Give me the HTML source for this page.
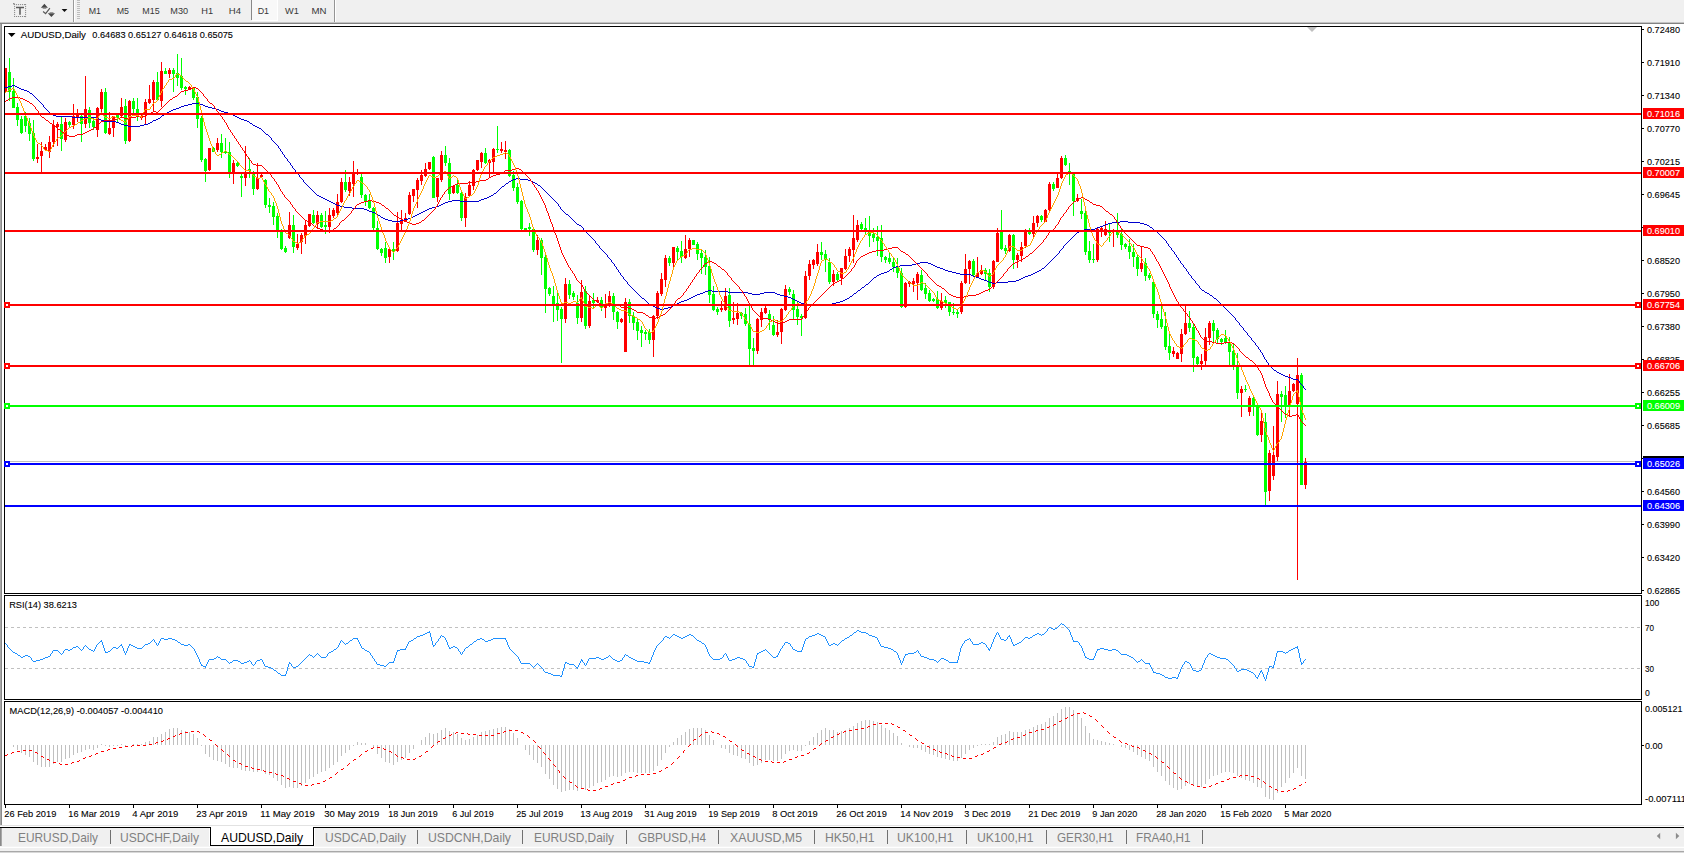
<!DOCTYPE html><html><head><meta charset="utf-8"><title>AUDUSD,Daily</title><style>html,body{margin:0;padding:0;background:#f0f0f0;overflow:hidden}body{width:1684px;height:853px;font-family:"Liberation Sans",sans-serif}svg text{font-family:"Liberation Sans",sans-serif}</style></head><body><svg width="1684" height="853" viewBox="0 0 1684 853" style="display:block"><rect x="0" y="0" width="1684" height="853" fill="#f0f0f0" />
<rect x="0" y="24" width="1684" height="802" fill="#ffffff" />
<rect x="0" y="22" width="1684" height="1" fill="#c4c4c4" />
<rect x="0" y="23" width="1684" height="1" fill="#828282" />
<rect x="0" y="24" width="1" height="802" fill="#a8a8a8" />
<rect x="1" y="24" width="1" height="802" fill="#8a8a8a" />
<defs><clipPath id="cm"><rect x="5" y="27" width="1636" height="566"/></clipPath><clipPath id="cr"><rect x="5" y="596" width="1636" height="103"/></clipPath><clipPath id="cd"><rect x="5" y="702" width="1636" height="102"/></clipPath></defs>
<rect x="5" y="461" width="1636" height="1" fill="#c0c0c0" />
<g clip-path="url(#cm)" shape-rendering="crispEdges">
<rect x="5" y="68" width="1" height="24" fill="#ff0000" />
<rect x="4" y="68" width="3" height="23" fill="#ff0000" />
<rect x="9" y="58" width="1" height="43" fill="#00ff00" />
<rect x="8" y="72" width="3" height="20" fill="#00ff00" />
<rect x="13" y="78" width="1" height="30" fill="#00ff00" />
<rect x="12" y="91" width="3" height="17" fill="#00ff00" />
<rect x="17" y="103" width="1" height="23" fill="#00ff00" />
<rect x="16" y="107" width="3" height="13" fill="#00ff00" />
<rect x="21" y="116" width="1" height="18" fill="#00ff00" />
<rect x="20" y="119" width="3" height="14" fill="#00ff00" />
<rect x="25" y="112" width="1" height="20" fill="#00ff00" />
<rect x="24" y="116" width="3" height="10" fill="#00ff00" />
<rect x="29" y="118" width="1" height="23" fill="#00ff00" />
<rect x="28" y="123" width="3" height="11" fill="#00ff00" />
<rect x="33" y="120" width="1" height="41" fill="#00ff00" />
<rect x="32" y="133" width="3" height="26" fill="#00ff00" />
<rect x="37" y="144" width="1" height="19" fill="#ff0000" />
<rect x="36" y="157" width="3" height="2" fill="#ff0000" />
<rect x="41" y="142" width="1" height="30" fill="#ff0000" />
<rect x="40" y="151" width="3" height="5" fill="#ff0000" />
<rect x="45" y="144" width="1" height="7" fill="#ff0000" />
<rect x="44" y="147" width="3" height="3" fill="#ff0000" />
<rect x="49" y="136" width="1" height="22" fill="#ff0000" />
<rect x="48" y="142" width="3" height="10" fill="#ff0000" />
<rect x="53" y="120" width="1" height="27" fill="#ff0000" />
<rect x="52" y="125" width="3" height="17" fill="#ff0000" />
<rect x="57" y="122" width="1" height="24" fill="#ff0000" />
<rect x="56" y="124" width="3" height="3" fill="#ff0000" />
<rect x="61" y="117" width="1" height="34" fill="#00ff00" />
<rect x="60" y="124" width="3" height="15" fill="#00ff00" />
<rect x="65" y="118" width="1" height="24" fill="#ff0000" />
<rect x="64" y="122" width="3" height="18" fill="#ff0000" />
<rect x="69" y="121" width="1" height="7" fill="#00ff00" />
<rect x="68" y="122" width="3" height="3" fill="#00ff00" />
<rect x="73" y="104" width="1" height="25" fill="#ff0000" />
<rect x="72" y="116" width="3" height="9" fill="#ff0000" />
<rect x="77" y="109" width="1" height="13" fill="#ff0000" />
<rect x="76" y="114" width="3" height="3" fill="#ff0000" />
<rect x="81" y="115" width="1" height="27" fill="#00ff00" />
<rect x="80" y="116" width="3" height="8" fill="#00ff00" />
<rect x="85" y="76" width="1" height="52" fill="#ff0000" />
<rect x="84" y="109" width="3" height="15" fill="#ff0000" />
<rect x="89" y="107" width="1" height="21" fill="#00ff00" />
<rect x="88" y="110" width="3" height="13" fill="#00ff00" />
<rect x="93" y="118" width="1" height="12" fill="#00ff00" />
<rect x="92" y="121" width="3" height="6" fill="#00ff00" />
<rect x="97" y="107" width="1" height="30" fill="#ff0000" />
<rect x="96" y="108" width="3" height="22" fill="#ff0000" />
<rect x="101" y="89" width="1" height="23" fill="#ff0000" />
<rect x="100" y="92" width="3" height="17" fill="#ff0000" />
<rect x="105" y="88" width="1" height="46" fill="#00ff00" />
<rect x="104" y="92" width="3" height="41" fill="#00ff00" />
<rect x="109" y="112" width="1" height="23" fill="#ff0000" />
<rect x="108" y="128" width="3" height="6" fill="#ff0000" />
<rect x="113" y="116" width="1" height="21" fill="#ff0000" />
<rect x="112" y="116" width="3" height="12" fill="#ff0000" />
<rect x="117" y="114" width="1" height="8" fill="#00ff00" />
<rect x="116" y="115" width="3" height="3" fill="#00ff00" />
<rect x="121" y="98" width="1" height="20" fill="#ff0000" />
<rect x="120" y="107" width="3" height="9" fill="#ff0000" />
<rect x="125" y="99" width="1" height="45" fill="#00ff00" />
<rect x="124" y="106" width="3" height="35" fill="#00ff00" />
<rect x="129" y="100" width="1" height="42" fill="#ff0000" />
<rect x="128" y="101" width="3" height="40" fill="#ff0000" />
<rect x="133" y="98" width="1" height="18" fill="#00ff00" />
<rect x="132" y="101" width="3" height="8" fill="#00ff00" />
<rect x="137" y="98" width="1" height="23" fill="#00ff00" />
<rect x="136" y="109" width="3" height="8" fill="#00ff00" />
<rect x="141" y="115" width="1" height="5" fill="#ff0000" />
<rect x="140" y="116" width="3" height="2" fill="#ff0000" />
<rect x="145" y="99" width="1" height="25" fill="#ff0000" />
<rect x="144" y="102" width="3" height="12" fill="#ff0000" />
<rect x="149" y="85" width="1" height="19" fill="#ff0000" />
<rect x="148" y="99" width="3" height="4" fill="#ff0000" />
<rect x="153" y="80" width="1" height="32" fill="#ff0000" />
<rect x="152" y="82" width="3" height="18" fill="#ff0000" />
<rect x="157" y="72" width="1" height="29" fill="#00ff00" />
<rect x="156" y="82" width="3" height="18" fill="#00ff00" />
<rect x="161" y="62" width="1" height="45" fill="#ff0000" />
<rect x="160" y="71" width="3" height="30" fill="#ff0000" />
<rect x="165" y="68" width="1" height="6" fill="#00ff00" />
<rect x="164" y="71" width="3" height="3" fill="#00ff00" />
<rect x="169" y="68" width="1" height="10" fill="#ff0000" />
<rect x="168" y="70" width="3" height="4" fill="#ff0000" />
<rect x="173" y="68" width="1" height="24" fill="#00ff00" />
<rect x="172" y="70" width="3" height="4" fill="#00ff00" />
<rect x="177" y="54" width="1" height="32" fill="#00ff00" />
<rect x="176" y="73" width="3" height="5" fill="#00ff00" />
<rect x="181" y="58" width="1" height="32" fill="#00ff00" />
<rect x="180" y="76" width="3" height="12" fill="#00ff00" />
<rect x="185" y="86" width="1" height="9" fill="#00ff00" />
<rect x="184" y="87" width="3" height="2" fill="#00ff00" />
<rect x="189" y="86" width="1" height="4" fill="#ff0000" />
<rect x="188" y="87" width="3" height="3" fill="#ff0000" />
<rect x="193" y="87" width="1" height="13" fill="#00ff00" />
<rect x="192" y="88" width="3" height="10" fill="#00ff00" />
<rect x="197" y="92" width="1" height="36" fill="#00ff00" />
<rect x="196" y="97" width="3" height="22" fill="#00ff00" />
<rect x="201" y="116" width="1" height="46" fill="#00ff00" />
<rect x="200" y="118" width="3" height="42" fill="#00ff00" />
<rect x="205" y="158" width="1" height="24" fill="#00ff00" />
<rect x="204" y="159" width="3" height="12" fill="#00ff00" />
<rect x="209" y="148" width="1" height="23" fill="#ff0000" />
<rect x="208" y="148" width="3" height="22" fill="#ff0000" />
<rect x="213" y="147" width="1" height="5" fill="#00ff00" />
<rect x="212" y="148" width="3" height="4" fill="#00ff00" />
<rect x="217" y="138" width="1" height="14" fill="#ff0000" />
<rect x="216" y="143" width="3" height="7" fill="#ff0000" />
<rect x="221" y="134" width="1" height="24" fill="#00ff00" />
<rect x="220" y="143" width="3" height="9" fill="#00ff00" />
<rect x="225" y="138" width="1" height="16" fill="#00ff00" />
<rect x="224" y="151" width="3" height="2" fill="#00ff00" />
<rect x="229" y="142" width="1" height="36" fill="#00ff00" />
<rect x="228" y="152" width="3" height="20" fill="#00ff00" />
<rect x="233" y="160" width="1" height="24" fill="#ff0000" />
<rect x="232" y="163" width="3" height="9" fill="#ff0000" />
<rect x="237" y="162" width="1" height="5" fill="#00ff00" />
<rect x="236" y="163" width="3" height="3" fill="#00ff00" />
<rect x="241" y="174" width="1" height="23" fill="#00ff00" />
<rect x="240" y="176" width="3" height="2" fill="#00ff00" />
<rect x="245" y="146" width="1" height="40" fill="#ff0000" />
<rect x="244" y="173" width="3" height="5" fill="#ff0000" />
<rect x="249" y="158" width="1" height="20" fill="#00ff00" />
<rect x="248" y="169" width="3" height="2" fill="#00ff00" />
<rect x="253" y="171" width="1" height="24" fill="#00ff00" />
<rect x="252" y="174" width="3" height="15" fill="#00ff00" />
<rect x="257" y="163" width="1" height="27" fill="#ff0000" />
<rect x="256" y="178" width="3" height="11" fill="#ff0000" />
<rect x="261" y="174" width="1" height="4" fill="#ff0000" />
<rect x="260" y="175" width="3" height="2" fill="#ff0000" />
<rect x="265" y="179" width="1" height="29" fill="#00ff00" />
<rect x="264" y="180" width="3" height="25" fill="#00ff00" />
<rect x="269" y="198" width="1" height="15" fill="#00ff00" />
<rect x="268" y="205" width="3" height="2" fill="#00ff00" />
<rect x="273" y="202" width="1" height="23" fill="#00ff00" />
<rect x="272" y="206" width="3" height="11" fill="#00ff00" />
<rect x="277" y="213" width="1" height="25" fill="#00ff00" />
<rect x="276" y="216" width="3" height="16" fill="#00ff00" />
<rect x="281" y="229" width="1" height="21" fill="#00ff00" />
<rect x="280" y="232" width="3" height="17" fill="#00ff00" />
<rect x="285" y="246" width="1" height="7" fill="#00ff00" />
<rect x="284" y="248" width="3" height="4" fill="#00ff00" />
<rect x="289" y="212" width="1" height="27" fill="#ff0000" />
<rect x="288" y="225" width="3" height="13" fill="#ff0000" />
<rect x="293" y="215" width="1" height="38" fill="#00ff00" />
<rect x="292" y="225" width="3" height="22" fill="#00ff00" />
<rect x="297" y="234" width="1" height="16" fill="#ff0000" />
<rect x="296" y="244" width="3" height="4" fill="#ff0000" />
<rect x="301" y="233" width="1" height="21" fill="#ff0000" />
<rect x="300" y="235" width="3" height="7" fill="#ff0000" />
<rect x="305" y="220" width="1" height="24" fill="#ff0000" />
<rect x="304" y="225" width="3" height="11" fill="#ff0000" />
<rect x="309" y="214" width="1" height="13" fill="#ff0000" />
<rect x="308" y="214" width="3" height="12" fill="#ff0000" />
<rect x="313" y="210" width="1" height="14" fill="#00ff00" />
<rect x="312" y="215" width="3" height="8" fill="#00ff00" />
<rect x="317" y="211" width="1" height="17" fill="#ff0000" />
<rect x="316" y="215" width="3" height="9" fill="#ff0000" />
<rect x="321" y="213" width="1" height="15" fill="#00ff00" />
<rect x="320" y="215" width="3" height="12" fill="#00ff00" />
<rect x="325" y="211" width="1" height="23" fill="#00ff00" />
<rect x="324" y="225" width="3" height="2" fill="#00ff00" />
<rect x="329" y="208" width="1" height="25" fill="#ff0000" />
<rect x="328" y="215" width="3" height="12" fill="#ff0000" />
<rect x="333" y="208" width="1" height="10" fill="#ff0000" />
<rect x="332" y="210" width="3" height="6" fill="#ff0000" />
<rect x="337" y="194" width="1" height="21" fill="#ff0000" />
<rect x="336" y="202" width="3" height="11" fill="#ff0000" />
<rect x="341" y="178" width="1" height="25" fill="#ff0000" />
<rect x="340" y="182" width="3" height="20" fill="#ff0000" />
<rect x="345" y="170" width="1" height="22" fill="#00ff00" />
<rect x="344" y="182" width="3" height="8" fill="#00ff00" />
<rect x="349" y="177" width="1" height="19" fill="#ff0000" />
<rect x="348" y="182" width="3" height="9" fill="#ff0000" />
<rect x="353" y="161" width="1" height="36" fill="#ff0000" />
<rect x="352" y="172" width="3" height="12" fill="#ff0000" />
<rect x="357" y="169" width="1" height="6" fill="#ff0000" />
<rect x="356" y="172" width="3" height="2" fill="#ff0000" />
<rect x="361" y="174" width="1" height="24" fill="#00ff00" />
<rect x="360" y="177" width="3" height="18" fill="#00ff00" />
<rect x="365" y="194" width="1" height="12" fill="#00ff00" />
<rect x="364" y="195" width="3" height="6" fill="#00ff00" />
<rect x="369" y="194" width="1" height="15" fill="#00ff00" />
<rect x="368" y="200" width="3" height="8" fill="#00ff00" />
<rect x="373" y="207" width="1" height="23" fill="#00ff00" />
<rect x="372" y="208" width="3" height="20" fill="#00ff00" />
<rect x="377" y="221" width="1" height="29" fill="#00ff00" />
<rect x="376" y="228" width="3" height="21" fill="#00ff00" />
<rect x="381" y="248" width="1" height="8" fill="#00ff00" />
<rect x="380" y="249" width="3" height="4" fill="#00ff00" />
<rect x="385" y="242" width="1" height="21" fill="#00ff00" />
<rect x="384" y="248" width="3" height="10" fill="#00ff00" />
<rect x="389" y="248" width="1" height="15" fill="#ff0000" />
<rect x="388" y="249" width="3" height="8" fill="#ff0000" />
<rect x="393" y="242" width="1" height="18" fill="#00ff00" />
<rect x="392" y="249" width="3" height="2" fill="#00ff00" />
<rect x="397" y="212" width="1" height="40" fill="#ff0000" />
<rect x="396" y="223" width="3" height="28" fill="#ff0000" />
<rect x="401" y="210" width="1" height="21" fill="#ff0000" />
<rect x="400" y="220" width="3" height="4" fill="#ff0000" />
<rect x="405" y="213" width="1" height="9" fill="#ff0000" />
<rect x="404" y="218" width="3" height="4" fill="#ff0000" />
<rect x="409" y="192" width="1" height="23" fill="#ff0000" />
<rect x="408" y="195" width="3" height="19" fill="#ff0000" />
<rect x="413" y="189" width="1" height="13" fill="#ff0000" />
<rect x="412" y="189" width="3" height="7" fill="#ff0000" />
<rect x="417" y="178" width="1" height="30" fill="#ff0000" />
<rect x="416" y="180" width="3" height="10" fill="#ff0000" />
<rect x="421" y="170" width="1" height="15" fill="#ff0000" />
<rect x="420" y="175" width="3" height="6" fill="#ff0000" />
<rect x="425" y="163" width="1" height="14" fill="#ff0000" />
<rect x="424" y="169" width="3" height="7" fill="#ff0000" />
<rect x="429" y="162" width="1" height="8" fill="#ff0000" />
<rect x="428" y="162" width="3" height="7" fill="#ff0000" />
<rect x="433" y="156" width="1" height="42" fill="#00ff00" />
<rect x="432" y="157" width="3" height="41" fill="#00ff00" />
<rect x="437" y="178" width="1" height="24" fill="#ff0000" />
<rect x="436" y="178" width="3" height="19" fill="#ff0000" />
<rect x="441" y="151" width="1" height="31" fill="#ff0000" />
<rect x="440" y="155" width="3" height="25" fill="#ff0000" />
<rect x="445" y="146" width="1" height="20" fill="#00ff00" />
<rect x="444" y="155" width="3" height="8" fill="#00ff00" />
<rect x="449" y="158" width="1" height="42" fill="#00ff00" />
<rect x="448" y="163" width="3" height="31" fill="#00ff00" />
<rect x="453" y="186" width="1" height="8" fill="#ff0000" />
<rect x="452" y="186" width="3" height="7" fill="#ff0000" />
<rect x="457" y="178" width="1" height="16" fill="#00ff00" />
<rect x="456" y="185" width="3" height="8" fill="#00ff00" />
<rect x="461" y="192" width="1" height="29" fill="#00ff00" />
<rect x="460" y="193" width="3" height="25" fill="#00ff00" />
<rect x="465" y="193" width="1" height="34" fill="#ff0000" />
<rect x="464" y="197" width="3" height="21" fill="#ff0000" />
<rect x="469" y="181" width="1" height="16" fill="#ff0000" />
<rect x="468" y="185" width="3" height="11" fill="#ff0000" />
<rect x="473" y="169" width="1" height="21" fill="#ff0000" />
<rect x="472" y="170" width="3" height="16" fill="#ff0000" />
<rect x="477" y="160" width="1" height="11" fill="#ff0000" />
<rect x="476" y="160" width="3" height="10" fill="#ff0000" />
<rect x="481" y="152" width="1" height="16" fill="#ff0000" />
<rect x="480" y="153" width="3" height="9" fill="#ff0000" />
<rect x="485" y="148" width="1" height="16" fill="#00ff00" />
<rect x="484" y="153" width="3" height="10" fill="#00ff00" />
<rect x="489" y="159" width="1" height="18" fill="#ff0000" />
<rect x="488" y="160" width="3" height="3" fill="#ff0000" />
<rect x="493" y="148" width="1" height="25" fill="#ff0000" />
<rect x="492" y="149" width="3" height="13" fill="#ff0000" />
<rect x="497" y="126" width="1" height="27" fill="#00ff00" />
<rect x="496" y="149" width="3" height="1" fill="#00ff00" />
<rect x="501" y="142" width="1" height="11" fill="#ff0000" />
<rect x="500" y="149" width="3" height="2" fill="#ff0000" />
<rect x="505" y="141" width="1" height="18" fill="#ff0000" />
<rect x="504" y="150" width="3" height="2" fill="#ff0000" />
<rect x="509" y="149" width="1" height="28" fill="#00ff00" />
<rect x="508" y="150" width="3" height="26" fill="#00ff00" />
<rect x="513" y="171" width="1" height="20" fill="#00ff00" />
<rect x="512" y="175" width="3" height="13" fill="#00ff00" />
<rect x="517" y="183" width="1" height="21" fill="#00ff00" />
<rect x="516" y="187" width="3" height="15" fill="#00ff00" />
<rect x="521" y="200" width="1" height="30" fill="#00ff00" />
<rect x="520" y="201" width="3" height="28" fill="#00ff00" />
<rect x="525" y="228" width="1" height="3" fill="#00ff00" />
<rect x="524" y="228" width="3" height="2" fill="#00ff00" />
<rect x="529" y="223" width="1" height="13" fill="#00ff00" />
<rect x="528" y="227" width="3" height="2" fill="#00ff00" />
<rect x="533" y="228" width="1" height="24" fill="#00ff00" />
<rect x="532" y="229" width="3" height="21" fill="#00ff00" />
<rect x="537" y="235" width="1" height="20" fill="#ff0000" />
<rect x="536" y="240" width="3" height="10" fill="#ff0000" />
<rect x="541" y="238" width="1" height="37" fill="#00ff00" />
<rect x="540" y="240" width="3" height="18" fill="#00ff00" />
<rect x="545" y="255" width="1" height="58" fill="#00ff00" />
<rect x="544" y="257" width="3" height="32" fill="#00ff00" />
<rect x="549" y="287" width="1" height="9" fill="#00ff00" />
<rect x="548" y="288" width="3" height="6" fill="#00ff00" />
<rect x="553" y="286" width="1" height="36" fill="#00ff00" />
<rect x="552" y="296" width="3" height="10" fill="#00ff00" />
<rect x="557" y="292" width="1" height="29" fill="#00ff00" />
<rect x="556" y="303" width="3" height="7" fill="#00ff00" />
<rect x="561" y="307" width="1" height="56" fill="#00ff00" />
<rect x="560" y="309" width="3" height="10" fill="#00ff00" />
<rect x="565" y="278" width="1" height="45" fill="#ff0000" />
<rect x="564" y="284" width="3" height="35" fill="#ff0000" />
<rect x="569" y="280" width="1" height="19" fill="#00ff00" />
<rect x="568" y="284" width="3" height="11" fill="#00ff00" />
<rect x="573" y="291" width="1" height="9" fill="#00ff00" />
<rect x="572" y="293" width="3" height="4" fill="#00ff00" />
<rect x="577" y="295" width="1" height="29" fill="#00ff00" />
<rect x="576" y="303" width="3" height="15" fill="#00ff00" />
<rect x="581" y="280" width="1" height="42" fill="#ff0000" />
<rect x="580" y="292" width="3" height="26" fill="#ff0000" />
<rect x="585" y="286" width="1" height="43" fill="#00ff00" />
<rect x="584" y="291" width="3" height="35" fill="#00ff00" />
<rect x="589" y="296" width="1" height="32" fill="#ff0000" />
<rect x="588" y="301" width="3" height="25" fill="#ff0000" />
<rect x="593" y="293" width="1" height="16" fill="#00ff00" />
<rect x="592" y="300" width="3" height="3" fill="#00ff00" />
<rect x="597" y="297" width="1" height="6" fill="#ff0000" />
<rect x="596" y="300" width="3" height="2" fill="#ff0000" />
<rect x="601" y="297" width="1" height="14" fill="#00ff00" />
<rect x="600" y="300" width="3" height="7" fill="#00ff00" />
<rect x="605" y="294" width="1" height="24" fill="#ff0000" />
<rect x="604" y="304" width="3" height="4" fill="#ff0000" />
<rect x="609" y="291" width="1" height="16" fill="#ff0000" />
<rect x="608" y="296" width="3" height="8" fill="#ff0000" />
<rect x="613" y="293" width="1" height="27" fill="#00ff00" />
<rect x="612" y="296" width="3" height="16" fill="#00ff00" />
<rect x="617" y="311" width="1" height="18" fill="#00ff00" />
<rect x="616" y="312" width="3" height="10" fill="#00ff00" />
<rect x="621" y="318" width="1" height="5" fill="#ff0000" />
<rect x="620" y="319" width="3" height="3" fill="#ff0000" />
<rect x="625" y="298" width="1" height="54" fill="#ff0000" />
<rect x="624" y="302" width="3" height="50" fill="#ff0000" />
<rect x="629" y="299" width="1" height="24" fill="#00ff00" />
<rect x="628" y="302" width="3" height="14" fill="#00ff00" />
<rect x="633" y="312" width="1" height="18" fill="#00ff00" />
<rect x="632" y="316" width="3" height="7" fill="#00ff00" />
<rect x="637" y="319" width="1" height="21" fill="#00ff00" />
<rect x="636" y="322" width="3" height="9" fill="#00ff00" />
<rect x="641" y="326" width="1" height="21" fill="#00ff00" />
<rect x="640" y="330" width="3" height="3" fill="#00ff00" />
<rect x="645" y="330" width="1" height="10" fill="#00ff00" />
<rect x="644" y="332" width="3" height="2" fill="#00ff00" />
<rect x="649" y="329" width="1" height="15" fill="#00ff00" />
<rect x="648" y="332" width="3" height="8" fill="#00ff00" />
<rect x="653" y="315" width="1" height="42" fill="#ff0000" />
<rect x="652" y="316" width="3" height="24" fill="#ff0000" />
<rect x="657" y="291" width="1" height="28" fill="#ff0000" />
<rect x="656" y="293" width="3" height="23" fill="#ff0000" />
<rect x="661" y="273" width="1" height="23" fill="#ff0000" />
<rect x="660" y="279" width="3" height="15" fill="#ff0000" />
<rect x="665" y="255" width="1" height="32" fill="#ff0000" />
<rect x="664" y="258" width="3" height="22" fill="#ff0000" />
<rect x="669" y="256" width="1" height="10" fill="#00ff00" />
<rect x="668" y="258" width="3" height="5" fill="#00ff00" />
<rect x="673" y="247" width="1" height="20" fill="#ff0000" />
<rect x="672" y="247" width="3" height="16" fill="#ff0000" />
<rect x="677" y="246" width="1" height="15" fill="#00ff00" />
<rect x="676" y="248" width="3" height="4" fill="#00ff00" />
<rect x="681" y="241" width="1" height="22" fill="#00ff00" />
<rect x="680" y="251" width="3" height="6" fill="#00ff00" />
<rect x="685" y="235" width="1" height="24" fill="#ff0000" />
<rect x="684" y="249" width="3" height="9" fill="#ff0000" />
<rect x="689" y="238" width="1" height="19" fill="#ff0000" />
<rect x="688" y="240" width="3" height="9" fill="#ff0000" />
<rect x="693" y="240" width="1" height="5" fill="#00ff00" />
<rect x="692" y="240" width="3" height="5" fill="#00ff00" />
<rect x="697" y="242" width="1" height="18" fill="#00ff00" />
<rect x="696" y="244" width="3" height="10" fill="#00ff00" />
<rect x="701" y="250" width="1" height="24" fill="#00ff00" />
<rect x="700" y="253" width="3" height="5" fill="#00ff00" />
<rect x="705" y="250" width="1" height="25" fill="#00ff00" />
<rect x="704" y="257" width="3" height="10" fill="#00ff00" />
<rect x="709" y="257" width="1" height="46" fill="#00ff00" />
<rect x="708" y="266" width="3" height="29" fill="#00ff00" />
<rect x="713" y="286" width="1" height="25" fill="#00ff00" />
<rect x="712" y="294" width="3" height="16" fill="#00ff00" />
<rect x="717" y="307" width="1" height="8" fill="#00ff00" />
<rect x="716" y="309" width="3" height="3" fill="#00ff00" />
<rect x="721" y="301" width="1" height="11" fill="#ff0000" />
<rect x="720" y="308" width="3" height="2" fill="#ff0000" />
<rect x="725" y="288" width="1" height="23" fill="#ff0000" />
<rect x="724" y="296" width="3" height="14" fill="#ff0000" />
<rect x="729" y="288" width="1" height="39" fill="#00ff00" />
<rect x="728" y="295" width="3" height="26" fill="#00ff00" />
<rect x="733" y="302" width="1" height="22" fill="#ff0000" />
<rect x="732" y="318" width="3" height="2" fill="#ff0000" />
<rect x="737" y="303" width="1" height="22" fill="#ff0000" />
<rect x="736" y="313" width="3" height="6" fill="#ff0000" />
<rect x="741" y="312" width="1" height="7" fill="#00ff00" />
<rect x="740" y="313" width="3" height="3" fill="#00ff00" />
<rect x="745" y="308" width="1" height="18" fill="#00ff00" />
<rect x="744" y="314" width="3" height="10" fill="#00ff00" />
<rect x="749" y="306" width="1" height="59" fill="#00ff00" />
<rect x="748" y="324" width="3" height="25" fill="#00ff00" />
<rect x="753" y="338" width="1" height="27" fill="#00ff00" />
<rect x="752" y="348" width="3" height="3" fill="#00ff00" />
<rect x="757" y="318" width="1" height="36" fill="#ff0000" />
<rect x="756" y="319" width="3" height="32" fill="#ff0000" />
<rect x="761" y="308" width="1" height="19" fill="#ff0000" />
<rect x="760" y="312" width="3" height="8" fill="#ff0000" />
<rect x="765" y="306" width="1" height="8" fill="#ff0000" />
<rect x="764" y="308" width="3" height="5" fill="#ff0000" />
<rect x="769" y="310" width="1" height="20" fill="#00ff00" />
<rect x="768" y="314" width="3" height="6" fill="#00ff00" />
<rect x="773" y="316" width="1" height="20" fill="#00ff00" />
<rect x="772" y="325" width="3" height="10" fill="#00ff00" />
<rect x="777" y="320" width="1" height="17" fill="#ff0000" />
<rect x="776" y="332" width="3" height="3" fill="#ff0000" />
<rect x="781" y="308" width="1" height="36" fill="#ff0000" />
<rect x="780" y="309" width="3" height="23" fill="#ff0000" />
<rect x="785" y="285" width="1" height="26" fill="#ff0000" />
<rect x="784" y="289" width="3" height="21" fill="#ff0000" />
<rect x="789" y="287" width="1" height="8" fill="#00ff00" />
<rect x="788" y="289" width="3" height="3" fill="#00ff00" />
<rect x="793" y="290" width="1" height="29" fill="#00ff00" />
<rect x="792" y="294" width="3" height="16" fill="#00ff00" />
<rect x="797" y="301" width="1" height="24" fill="#00ff00" />
<rect x="796" y="309" width="3" height="8" fill="#00ff00" />
<rect x="801" y="314" width="1" height="22" fill="#00ff00" />
<rect x="800" y="316" width="3" height="2" fill="#00ff00" />
<rect x="805" y="271" width="1" height="48" fill="#ff0000" />
<rect x="804" y="276" width="3" height="42" fill="#ff0000" />
<rect x="809" y="260" width="1" height="20" fill="#ff0000" />
<rect x="808" y="264" width="3" height="12" fill="#ff0000" />
<rect x="813" y="259" width="1" height="10" fill="#ff0000" />
<rect x="812" y="260" width="3" height="5" fill="#ff0000" />
<rect x="817" y="244" width="1" height="22" fill="#ff0000" />
<rect x="816" y="252" width="3" height="12" fill="#ff0000" />
<rect x="821" y="242" width="1" height="18" fill="#00ff00" />
<rect x="820" y="252" width="3" height="3" fill="#00ff00" />
<rect x="825" y="250" width="1" height="22" fill="#00ff00" />
<rect x="824" y="254" width="3" height="5" fill="#00ff00" />
<rect x="829" y="258" width="1" height="26" fill="#00ff00" />
<rect x="828" y="262" width="3" height="20" fill="#00ff00" />
<rect x="833" y="270" width="1" height="16" fill="#ff0000" />
<rect x="832" y="274" width="3" height="8" fill="#ff0000" />
<rect x="837" y="272" width="1" height="9" fill="#00ff00" />
<rect x="836" y="274" width="3" height="6" fill="#00ff00" />
<rect x="841" y="268" width="1" height="17" fill="#ff0000" />
<rect x="840" y="268" width="3" height="10" fill="#ff0000" />
<rect x="845" y="249" width="1" height="21" fill="#ff0000" />
<rect x="844" y="256" width="3" height="13" fill="#ff0000" />
<rect x="849" y="247" width="1" height="15" fill="#ff0000" />
<rect x="848" y="249" width="3" height="7" fill="#ff0000" />
<rect x="853" y="215" width="1" height="48" fill="#ff0000" />
<rect x="852" y="238" width="3" height="12" fill="#ff0000" />
<rect x="857" y="220" width="1" height="22" fill="#ff0000" />
<rect x="856" y="225" width="3" height="15" fill="#ff0000" />
<rect x="861" y="222" width="1" height="8" fill="#00ff00" />
<rect x="860" y="224" width="3" height="5" fill="#00ff00" />
<rect x="865" y="218" width="1" height="16" fill="#00ff00" />
<rect x="864" y="228" width="3" height="2" fill="#00ff00" />
<rect x="869" y="216" width="1" height="31" fill="#00ff00" />
<rect x="868" y="232" width="3" height="4" fill="#00ff00" />
<rect x="873" y="228" width="1" height="14" fill="#00ff00" />
<rect x="872" y="234" width="3" height="4" fill="#00ff00" />
<rect x="877" y="226" width="1" height="30" fill="#00ff00" />
<rect x="876" y="237" width="3" height="4" fill="#00ff00" />
<rect x="881" y="225" width="1" height="37" fill="#00ff00" />
<rect x="880" y="238" width="3" height="19" fill="#00ff00" />
<rect x="885" y="256" width="1" height="7" fill="#00ff00" />
<rect x="884" y="257" width="3" height="3" fill="#00ff00" />
<rect x="889" y="253" width="1" height="11" fill="#00ff00" />
<rect x="888" y="258" width="3" height="4" fill="#00ff00" />
<rect x="893" y="258" width="1" height="14" fill="#00ff00" />
<rect x="892" y="262" width="3" height="5" fill="#00ff00" />
<rect x="897" y="258" width="1" height="20" fill="#00ff00" />
<rect x="896" y="266" width="3" height="7" fill="#00ff00" />
<rect x="901" y="268" width="1" height="40" fill="#00ff00" />
<rect x="900" y="273" width="3" height="34" fill="#00ff00" />
<rect x="905" y="282" width="1" height="26" fill="#ff0000" />
<rect x="904" y="283" width="3" height="24" fill="#ff0000" />
<rect x="909" y="281" width="1" height="6" fill="#ff0000" />
<rect x="908" y="282" width="3" height="2" fill="#ff0000" />
<rect x="913" y="278" width="1" height="14" fill="#ff0000" />
<rect x="912" y="281" width="3" height="3" fill="#ff0000" />
<rect x="917" y="272" width="1" height="28" fill="#ff0000" />
<rect x="916" y="274" width="3" height="9" fill="#ff0000" />
<rect x="921" y="270" width="1" height="21" fill="#00ff00" />
<rect x="920" y="275" width="3" height="15" fill="#00ff00" />
<rect x="925" y="283" width="1" height="16" fill="#00ff00" />
<rect x="924" y="288" width="3" height="6" fill="#00ff00" />
<rect x="929" y="290" width="1" height="12" fill="#00ff00" />
<rect x="928" y="293" width="3" height="8" fill="#00ff00" />
<rect x="933" y="298" width="1" height="4" fill="#00ff00" />
<rect x="932" y="299" width="3" height="2" fill="#00ff00" />
<rect x="937" y="291" width="1" height="18" fill="#00ff00" />
<rect x="936" y="299" width="3" height="9" fill="#00ff00" />
<rect x="941" y="293" width="1" height="17" fill="#ff0000" />
<rect x="940" y="301" width="3" height="7" fill="#ff0000" />
<rect x="945" y="296" width="1" height="12" fill="#00ff00" />
<rect x="944" y="300" width="3" height="3" fill="#00ff00" />
<rect x="949" y="302" width="1" height="14" fill="#00ff00" />
<rect x="948" y="302" width="3" height="10" fill="#00ff00" />
<rect x="953" y="303" width="1" height="12" fill="#00ff00" />
<rect x="952" y="312" width="3" height="1" fill="#00ff00" />
<rect x="957" y="309" width="1" height="9" fill="#00ff00" />
<rect x="956" y="312" width="3" height="2" fill="#00ff00" />
<rect x="961" y="281" width="1" height="33" fill="#ff0000" />
<rect x="960" y="283" width="3" height="29" fill="#ff0000" />
<rect x="965" y="254" width="1" height="30" fill="#ff0000" />
<rect x="964" y="269" width="3" height="14" fill="#ff0000" />
<rect x="969" y="260" width="1" height="24" fill="#ff0000" />
<rect x="968" y="261" width="3" height="8" fill="#ff0000" />
<rect x="973" y="259" width="1" height="18" fill="#00ff00" />
<rect x="972" y="261" width="3" height="14" fill="#00ff00" />
<rect x="977" y="257" width="1" height="21" fill="#ff0000" />
<rect x="976" y="273" width="3" height="4" fill="#ff0000" />
<rect x="981" y="265" width="1" height="10" fill="#ff0000" />
<rect x="980" y="270" width="3" height="4" fill="#ff0000" />
<rect x="985" y="268" width="1" height="12" fill="#00ff00" />
<rect x="984" y="270" width="3" height="4" fill="#00ff00" />
<rect x="989" y="269" width="1" height="23" fill="#00ff00" />
<rect x="988" y="273" width="3" height="14" fill="#00ff00" />
<rect x="993" y="260" width="1" height="29" fill="#ff0000" />
<rect x="992" y="261" width="3" height="26" fill="#ff0000" />
<rect x="997" y="228" width="1" height="34" fill="#ff0000" />
<rect x="996" y="233" width="3" height="29" fill="#ff0000" />
<rect x="1001" y="210" width="1" height="40" fill="#00ff00" />
<rect x="1000" y="232" width="3" height="17" fill="#00ff00" />
<rect x="1005" y="245" width="1" height="9" fill="#00ff00" />
<rect x="1004" y="248" width="3" height="3" fill="#00ff00" />
<rect x="1009" y="234" width="1" height="18" fill="#ff0000" />
<rect x="1008" y="235" width="3" height="16" fill="#ff0000" />
<rect x="1013" y="234" width="1" height="35" fill="#00ff00" />
<rect x="1012" y="235" width="3" height="25" fill="#00ff00" />
<rect x="1017" y="253" width="1" height="15" fill="#ff0000" />
<rect x="1016" y="255" width="3" height="5" fill="#ff0000" />
<rect x="1021" y="242" width="1" height="20" fill="#ff0000" />
<rect x="1020" y="247" width="3" height="9" fill="#ff0000" />
<rect x="1025" y="229" width="1" height="19" fill="#ff0000" />
<rect x="1024" y="231" width="3" height="15" fill="#ff0000" />
<rect x="1029" y="228" width="1" height="7" fill="#00ff00" />
<rect x="1028" y="232" width="3" height="2" fill="#00ff00" />
<rect x="1033" y="216" width="1" height="22" fill="#ff0000" />
<rect x="1032" y="223" width="3" height="11" fill="#ff0000" />
<rect x="1037" y="215" width="1" height="12" fill="#ff0000" />
<rect x="1036" y="216" width="3" height="7" fill="#ff0000" />
<rect x="1041" y="215" width="1" height="7" fill="#00ff00" />
<rect x="1040" y="216" width="3" height="4" fill="#00ff00" />
<rect x="1045" y="209" width="1" height="13" fill="#ff0000" />
<rect x="1044" y="210" width="3" height="12" fill="#ff0000" />
<rect x="1049" y="182" width="1" height="29" fill="#ff0000" />
<rect x="1048" y="184" width="3" height="26" fill="#ff0000" />
<rect x="1053" y="182" width="1" height="9" fill="#00ff00" />
<rect x="1052" y="184" width="3" height="5" fill="#00ff00" />
<rect x="1057" y="174" width="1" height="14" fill="#ff0000" />
<rect x="1056" y="178" width="3" height="10" fill="#ff0000" />
<rect x="1061" y="156" width="1" height="23" fill="#ff0000" />
<rect x="1060" y="158" width="3" height="20" fill="#ff0000" />
<rect x="1065" y="155" width="1" height="11" fill="#00ff00" />
<rect x="1064" y="158" width="3" height="7" fill="#00ff00" />
<rect x="1069" y="163" width="1" height="22" fill="#00ff00" />
<rect x="1068" y="171" width="3" height="1" fill="#00ff00" />
<rect x="1073" y="173" width="1" height="43" fill="#00ff00" />
<rect x="1072" y="174" width="3" height="27" fill="#00ff00" />
<rect x="1077" y="194" width="1" height="8" fill="#ff0000" />
<rect x="1076" y="198" width="3" height="3" fill="#ff0000" />
<rect x="1081" y="199" width="1" height="20" fill="#00ff00" />
<rect x="1080" y="211" width="3" height="3" fill="#00ff00" />
<rect x="1085" y="210" width="1" height="45" fill="#00ff00" />
<rect x="1084" y="213" width="3" height="39" fill="#00ff00" />
<rect x="1089" y="241" width="1" height="22" fill="#00ff00" />
<rect x="1088" y="251" width="3" height="9" fill="#00ff00" />
<rect x="1093" y="244" width="1" height="19" fill="#00ff00" />
<rect x="1092" y="259" width="3" height="1" fill="#00ff00" />
<rect x="1097" y="228" width="1" height="34" fill="#ff0000" />
<rect x="1096" y="229" width="3" height="31" fill="#ff0000" />
<rect x="1101" y="227" width="1" height="10" fill="#ff0000" />
<rect x="1100" y="228" width="3" height="4" fill="#ff0000" />
<rect x="1105" y="221" width="1" height="15" fill="#ff0000" />
<rect x="1104" y="229" width="3" height="6" fill="#ff0000" />
<rect x="1109" y="223" width="1" height="19" fill="#00ff00" />
<rect x="1108" y="230" width="3" height="3" fill="#00ff00" />
<rect x="1113" y="229" width="1" height="18" fill="#ff0000" />
<rect x="1112" y="230" width="3" height="2" fill="#ff0000" />
<rect x="1117" y="213" width="1" height="25" fill="#00ff00" />
<rect x="1116" y="232" width="3" height="3" fill="#00ff00" />
<rect x="1121" y="228" width="1" height="22" fill="#00ff00" />
<rect x="1120" y="234" width="3" height="11" fill="#00ff00" />
<rect x="1125" y="243" width="1" height="6" fill="#00ff00" />
<rect x="1124" y="244" width="3" height="3" fill="#00ff00" />
<rect x="1129" y="239" width="1" height="20" fill="#00ff00" />
<rect x="1128" y="246" width="3" height="6" fill="#00ff00" />
<rect x="1133" y="244" width="1" height="23" fill="#00ff00" />
<rect x="1132" y="252" width="3" height="5" fill="#00ff00" />
<rect x="1137" y="255" width="1" height="21" fill="#00ff00" />
<rect x="1136" y="257" width="3" height="12" fill="#00ff00" />
<rect x="1141" y="246" width="1" height="26" fill="#ff0000" />
<rect x="1140" y="263" width="3" height="6" fill="#ff0000" />
<rect x="1145" y="258" width="1" height="23" fill="#00ff00" />
<rect x="1144" y="263" width="3" height="13" fill="#00ff00" />
<rect x="1149" y="273" width="1" height="7" fill="#00ff00" />
<rect x="1148" y="275" width="3" height="3" fill="#00ff00" />
<rect x="1153" y="281" width="1" height="37" fill="#00ff00" />
<rect x="1152" y="282" width="3" height="32" fill="#00ff00" />
<rect x="1157" y="311" width="1" height="17" fill="#00ff00" />
<rect x="1156" y="314" width="3" height="6" fill="#00ff00" />
<rect x="1161" y="305" width="1" height="24" fill="#00ff00" />
<rect x="1160" y="319" width="3" height="8" fill="#00ff00" />
<rect x="1165" y="312" width="1" height="38" fill="#00ff00" />
<rect x="1164" y="326" width="3" height="21" fill="#00ff00" />
<rect x="1169" y="334" width="1" height="26" fill="#00ff00" />
<rect x="1168" y="346" width="3" height="7" fill="#00ff00" />
<rect x="1173" y="347" width="1" height="10" fill="#ff0000" />
<rect x="1172" y="351" width="3" height="3" fill="#ff0000" />
<rect x="1177" y="352" width="1" height="7" fill="#ff0000" />
<rect x="1176" y="353" width="3" height="6" fill="#ff0000" />
<rect x="1181" y="329" width="1" height="33" fill="#ff0000" />
<rect x="1180" y="334" width="3" height="20" fill="#ff0000" />
<rect x="1185" y="306" width="1" height="29" fill="#ff0000" />
<rect x="1184" y="323" width="3" height="11" fill="#ff0000" />
<rect x="1189" y="311" width="1" height="21" fill="#00ff00" />
<rect x="1188" y="323" width="3" height="5" fill="#00ff00" />
<rect x="1193" y="324" width="1" height="48" fill="#00ff00" />
<rect x="1192" y="327" width="3" height="31" fill="#00ff00" />
<rect x="1197" y="356" width="1" height="9" fill="#00ff00" />
<rect x="1196" y="357" width="3" height="7" fill="#00ff00" />
<rect x="1201" y="354" width="1" height="16" fill="#ff0000" />
<rect x="1200" y="361" width="3" height="3" fill="#ff0000" />
<rect x="1205" y="328" width="1" height="37" fill="#ff0000" />
<rect x="1204" y="337" width="3" height="24" fill="#ff0000" />
<rect x="1209" y="321" width="1" height="24" fill="#ff0000" />
<rect x="1208" y="323" width="3" height="15" fill="#ff0000" />
<rect x="1213" y="320" width="1" height="22" fill="#00ff00" />
<rect x="1212" y="323" width="3" height="8" fill="#00ff00" />
<rect x="1217" y="328" width="1" height="16" fill="#00ff00" />
<rect x="1216" y="330" width="3" height="9" fill="#00ff00" />
<rect x="1221" y="338" width="1" height="7" fill="#00ff00" />
<rect x="1220" y="339" width="3" height="3" fill="#00ff00" />
<rect x="1225" y="330" width="1" height="14" fill="#00ff00" />
<rect x="1224" y="338" width="3" height="4" fill="#00ff00" />
<rect x="1229" y="337" width="1" height="28" fill="#00ff00" />
<rect x="1228" y="342" width="3" height="10" fill="#00ff00" />
<rect x="1233" y="344" width="1" height="26" fill="#00ff00" />
<rect x="1232" y="351" width="3" height="14" fill="#00ff00" />
<rect x="1237" y="353" width="1" height="46" fill="#00ff00" />
<rect x="1236" y="365" width="3" height="28" fill="#00ff00" />
<rect x="1241" y="386" width="1" height="31" fill="#ff0000" />
<rect x="1240" y="389" width="3" height="4" fill="#ff0000" />
<rect x="1245" y="385" width="1" height="7" fill="#00ff00" />
<rect x="1244" y="389" width="3" height="1" fill="#00ff00" />
<rect x="1249" y="396" width="1" height="20" fill="#ff0000" />
<rect x="1248" y="398" width="3" height="14" fill="#ff0000" />
<rect x="1253" y="396" width="1" height="20" fill="#00ff00" />
<rect x="1252" y="398" width="3" height="8" fill="#00ff00" />
<rect x="1257" y="403" width="1" height="33" fill="#00ff00" />
<rect x="1256" y="405" width="3" height="30" fill="#00ff00" />
<rect x="1261" y="412" width="1" height="30" fill="#ff0000" />
<rect x="1260" y="421" width="3" height="14" fill="#ff0000" />
<rect x="1265" y="413" width="1" height="92" fill="#00ff00" />
<rect x="1264" y="422" width="3" height="70" fill="#00ff00" />
<rect x="1269" y="450" width="1" height="51" fill="#ff0000" />
<rect x="1268" y="453" width="3" height="38" fill="#ff0000" />
<rect x="1273" y="426" width="1" height="54" fill="#ff0000" />
<rect x="1272" y="455" width="3" height="21" fill="#ff0000" />
<rect x="1277" y="381" width="1" height="80" fill="#ff0000" />
<rect x="1276" y="394" width="3" height="63" fill="#ff0000" />
<rect x="1281" y="391" width="1" height="31" fill="#00ff00" />
<rect x="1280" y="394" width="3" height="3" fill="#00ff00" />
<rect x="1285" y="386" width="1" height="32" fill="#00ff00" />
<rect x="1284" y="395" width="3" height="11" fill="#00ff00" />
<rect x="1289" y="374" width="1" height="43" fill="#ff0000" />
<rect x="1288" y="391" width="3" height="14" fill="#ff0000" />
<rect x="1293" y="383" width="1" height="9" fill="#ff0000" />
<rect x="1292" y="384" width="3" height="7" fill="#ff0000" />
<rect x="1297" y="358" width="1" height="222" fill="#ff0000" />
<rect x="1296" y="375" width="3" height="29" fill="#ff0000" />
<rect x="1301" y="373" width="1" height="112" fill="#00ff00" />
<rect x="1300" y="375" width="3" height="110" fill="#00ff00" />
<rect x="1305" y="458" width="1" height="31" fill="#ff0000" />
<rect x="1304" y="462" width="3" height="23" fill="#ff0000" />
</g>
<path clip-path="url(#cm)" shape-rendering="crispEdges" fill="#0000cd" d="M5 87h1v1h-1zM6 87h1v1h-1zM7 87h1v1h-1zM8 86h1v1h-1zM9 86h1v1h-1zM10 86h1v1h-1zM11 86h1v1h-1zM12 85h1v1h-1zM13 85h1v1h-1zM14 85h1v1h-1zM15 86h1v1h-1zM16 86h1v1h-1zM17 87h1v1h-1zM18 87h1v1h-1zM19 88h1v1h-1zM20 88h1v1h-1zM21 89h1v1h-1zM22 89h1v1h-1zM23 89h1v1h-1zM24 90h1v1h-1zM25 90h1v1h-1zM26 90h1v1h-1zM27 91h1v1h-1zM28 91h1v1h-1zM29 92h1v1h-1zM30 93h1v1h-1zM31 93h1v1h-1zM32 94h1v1h-1zM33 95h1v1h-1zM34 96h1v1h-1zM35 97h1v1h-1zM36 98h1v1h-1zM37 99h1v1h-1zM38 100h1v1h-1zM39 101h1v1h-1zM40 102h1v1h-1zM41 103h1v1h-1zM42 104h1v1h-1zM43 105h1v2h-1zM44 107h1v1h-1zM45 108h1v1h-1zM46 109h1v1h-1zM47 110h1v1h-1zM48 111h1v1h-1zM49 112h1v1h-1zM50 113h1v1h-1zM51 113h1v1h-1zM52 114h1v1h-1zM53 115h1v1h-1zM54 115h1v1h-1zM55 115h1v1h-1zM56 116h1v1h-1zM57 116h1v1h-1zM58 116h1v1h-1zM59 116h1v1h-1zM60 116h1v1h-1zM61 116h1v1h-1zM62 116h1v1h-1zM63 116h1v1h-1zM64 116h1v1h-1zM65 116h1v1h-1zM66 116h1v1h-1zM67 116h1v1h-1zM68 116h1v1h-1zM69 116h1v1h-1zM70 116h1v1h-1zM71 116h1v1h-1zM72 117h1v1h-1zM73 117h1v1h-1zM74 117h1v1h-1zM75 117h1v1h-1zM76 117h1v1h-1zM77 117h1v1h-1zM78 117h1v1h-1zM79 117h1v1h-1zM80 117h1v1h-1zM81 117h1v1h-1zM82 117h1v1h-1zM83 117h1v1h-1zM84 117h1v1h-1zM85 117h1v1h-1zM86 117h1v1h-1zM87 117h1v1h-1zM88 117h1v1h-1zM89 117h1v1h-1zM90 117h1v1h-1zM91 117h1v1h-1zM92 117h1v1h-1zM93 117h1v1h-1zM94 117h1v1h-1zM95 117h1v1h-1zM96 118h1v1h-1zM97 118h1v1h-1zM98 118h1v1h-1zM99 119h1v1h-1zM100 119h1v1h-1zM101 120h1v1h-1zM102 120h1v1h-1zM103 120h1v1h-1zM104 121h1v1h-1zM105 121h1v1h-1zM106 121h1v1h-1zM107 121h1v1h-1zM108 121h1v1h-1zM109 121h1v1h-1zM110 121h1v1h-1zM111 121h1v1h-1zM112 121h1v1h-1zM113 121h1v1h-1zM114 121h1v1h-1zM115 121h1v1h-1zM116 122h1v1h-1zM117 122h1v1h-1zM118 122h1v1h-1zM119 123h1v1h-1zM120 123h1v1h-1zM121 124h1v1h-1zM122 124h1v1h-1zM123 124h1v1h-1zM124 125h1v1h-1zM125 125h1v1h-1zM126 125h1v1h-1zM127 125h1v1h-1zM128 126h1v1h-1zM129 126h1v1h-1zM130 126h1v1h-1zM131 126h1v1h-1zM132 126h1v1h-1zM133 126h1v1h-1zM134 126h1v1h-1zM135 126h1v1h-1zM136 126h1v1h-1zM137 126h1v1h-1zM138 126h1v1h-1zM139 126h1v1h-1zM140 125h1v1h-1zM141 125h1v1h-1zM142 125h1v1h-1zM143 125h1v1h-1zM144 124h1v1h-1zM145 124h1v1h-1zM146 124h1v1h-1zM147 124h1v1h-1zM148 123h1v1h-1zM149 123h1v1h-1zM150 122h1v1h-1zM151 122h1v1h-1zM152 121h1v1h-1zM153 120h1v1h-1zM154 120h1v1h-1zM155 120h1v1h-1zM156 119h1v1h-1zM157 119h1v1h-1zM158 118h1v1h-1zM159 118h1v1h-1zM160 117h1v1h-1zM161 116h1v1h-1zM162 115h1v1h-1zM163 115h1v1h-1zM164 114h1v1h-1zM165 113h1v1h-1zM166 113h1v1h-1zM167 112h1v1h-1zM168 112h1v1h-1zM169 111h1v1h-1zM170 111h1v1h-1zM171 110h1v1h-1zM172 110h1v1h-1zM173 109h1v1h-1zM174 109h1v1h-1zM175 109h1v1h-1zM176 108h1v1h-1zM177 108h1v1h-1zM178 108h1v1h-1zM179 107h1v1h-1zM180 107h1v1h-1zM181 106h1v1h-1zM182 106h1v1h-1zM183 106h1v1h-1zM184 105h1v1h-1zM185 105h1v1h-1zM186 105h1v1h-1zM187 105h1v1h-1zM188 104h1v1h-1zM189 104h1v1h-1zM190 104h1v1h-1zM191 104h1v1h-1zM192 103h1v1h-1zM193 103h1v1h-1zM194 103h1v1h-1zM195 103h1v1h-1zM196 103h1v1h-1zM197 103h1v1h-1zM198 103h1v1h-1zM199 103h1v1h-1zM200 104h1v1h-1zM201 104h1v1h-1zM202 104h1v1h-1zM203 105h1v1h-1zM204 105h1v1h-1zM205 106h1v1h-1zM206 106h1v1h-1zM207 106h1v1h-1zM208 107h1v1h-1zM209 107h1v1h-1zM210 107h1v1h-1zM211 107h1v1h-1zM212 108h1v1h-1zM213 108h1v1h-1zM214 108h1v1h-1zM215 108h1v1h-1zM216 109h1v1h-1zM217 109h1v1h-1zM218 109h1v1h-1zM219 110h1v1h-1zM220 110h1v1h-1zM221 111h1v1h-1zM222 111h1v1h-1zM223 111h1v1h-1zM224 112h1v1h-1zM225 112h1v1h-1zM226 112h1v1h-1zM227 112h1v1h-1zM228 113h1v1h-1zM229 113h1v1h-1zM230 113h1v1h-1zM231 114h1v1h-1zM232 114h1v1h-1zM233 115h1v1h-1zM234 115h1v1h-1zM235 116h1v1h-1zM236 116h1v1h-1zM237 117h1v1h-1zM238 117h1v1h-1zM239 118h1v1h-1zM240 118h1v1h-1zM241 119h1v1h-1zM242 119h1v1h-1zM243 119h1v1h-1zM244 120h1v1h-1zM245 120h1v1h-1zM246 120h1v1h-1zM247 121h1v1h-1zM248 121h1v1h-1zM249 122h1v1h-1zM250 123h1v1h-1zM251 123h1v1h-1zM252 124h1v1h-1zM253 125h1v1h-1zM254 125h1v1h-1zM255 126h1v1h-1zM256 126h1v1h-1zM257 127h1v1h-1zM258 127h1v1h-1zM259 128h1v1h-1zM260 128h1v1h-1zM261 129h1v1h-1zM262 130h1v1h-1zM263 131h1v1h-1zM264 132h1v1h-1zM265 133h1v1h-1zM266 134h1v1h-1zM267 134h1v1h-1zM268 135h1v1h-1zM269 136h1v1h-1zM270 137h1v1h-1zM271 138h1v2h-1zM272 140h1v1h-1zM273 141h1v1h-1zM274 142h1v1h-1zM275 143h1v1h-1zM276 144h1v1h-1zM277 145h1v1h-1zM278 146h1v2h-1zM279 148h1v1h-1zM280 149h1v2h-1zM281 151h1v1h-1zM282 152h1v2h-1zM283 154h1v1h-1zM284 155h1v2h-1zM285 157h1v1h-1zM286 158h1v1h-1zM287 159h1v2h-1zM288 161h1v1h-1zM289 162h1v1h-1zM290 163h1v2h-1zM291 165h1v1h-1zM292 166h1v2h-1zM293 168h1v1h-1zM294 169h1v1h-1zM295 170h1v2h-1zM296 172h1v1h-1zM297 173h1v1h-1zM298 174h1v1h-1zM299 175h1v2h-1zM300 177h1v1h-1zM301 178h1v1h-1zM302 179h1v1h-1zM303 180h1v2h-1zM304 182h1v1h-1zM305 183h1v1h-1zM306 184h1v1h-1zM307 185h1v1h-1zM308 186h1v1h-1zM309 187h1v1h-1zM310 188h1v1h-1zM311 189h1v1h-1zM312 190h1v1h-1zM313 191h1v1h-1zM314 192h1v1h-1zM315 193h1v1h-1zM316 194h1v1h-1zM317 195h1v1h-1zM318 195h1v1h-1zM319 196h1v1h-1zM320 196h1v1h-1zM321 197h1v1h-1zM322 197h1v1h-1zM323 198h1v1h-1zM324 198h1v1h-1zM325 199h1v1h-1zM326 199h1v1h-1zM327 200h1v1h-1zM328 200h1v1h-1zM329 201h1v1h-1zM330 201h1v1h-1zM331 202h1v1h-1zM332 202h1v1h-1zM333 203h1v1h-1zM334 203h1v1h-1zM335 204h1v1h-1zM336 204h1v1h-1zM337 205h1v1h-1zM338 205h1v1h-1zM339 205h1v1h-1zM340 206h1v1h-1zM341 206h1v1h-1zM342 206h1v1h-1zM343 206h1v1h-1zM344 207h1v1h-1zM345 207h1v1h-1zM346 207h1v1h-1zM347 207h1v1h-1zM348 207h1v1h-1zM349 207h1v1h-1zM350 207h1v1h-1zM351 207h1v1h-1zM352 208h1v1h-1zM353 208h1v1h-1zM354 208h1v1h-1zM355 208h1v1h-1zM356 208h1v1h-1zM357 208h1v1h-1zM358 208h1v1h-1zM359 208h1v1h-1zM360 208h1v1h-1zM361 208h1v1h-1zM362 208h1v1h-1zM363 208h1v1h-1zM364 209h1v1h-1zM365 209h1v1h-1zM366 209h1v1h-1zM367 210h1v1h-1zM368 210h1v1h-1zM369 211h1v1h-1zM370 211h1v1h-1zM371 211h1v1h-1zM372 212h1v1h-1zM373 212h1v1h-1zM374 212h1v1h-1zM375 213h1v1h-1zM376 213h1v1h-1zM377 214h1v1h-1zM378 215h1v1h-1zM379 215h1v1h-1zM380 216h1v1h-1zM381 217h1v1h-1zM382 217h1v1h-1zM383 218h1v1h-1zM384 218h1v1h-1zM385 219h1v1h-1zM386 219h1v1h-1zM387 219h1v1h-1zM388 220h1v1h-1zM389 220h1v1h-1zM390 220h1v1h-1zM391 220h1v1h-1zM392 221h1v1h-1zM393 221h1v1h-1zM394 221h1v1h-1zM395 221h1v1h-1zM396 221h1v1h-1zM397 221h1v1h-1zM398 221h1v1h-1zM399 221h1v1h-1zM400 220h1v1h-1zM401 220h1v1h-1zM402 220h1v1h-1zM403 220h1v1h-1zM404 219h1v1h-1zM405 219h1v1h-1zM406 219h1v1h-1zM407 219h1v1h-1zM408 218h1v1h-1zM409 218h1v1h-1zM410 218h1v1h-1zM411 217h1v1h-1zM412 217h1v1h-1zM413 216h1v1h-1zM414 216h1v1h-1zM415 215h1v1h-1zM416 215h1v1h-1zM417 214h1v1h-1zM418 214h1v1h-1zM419 213h1v1h-1zM420 213h1v1h-1zM421 212h1v1h-1zM422 212h1v1h-1zM423 211h1v1h-1zM424 211h1v1h-1zM425 210h1v1h-1zM426 210h1v1h-1zM427 209h1v1h-1zM428 209h1v1h-1zM429 208h1v1h-1zM430 208h1v1h-1zM431 208h1v1h-1zM432 207h1v1h-1zM433 207h1v1h-1zM434 207h1v1h-1zM435 207h1v1h-1zM436 206h1v1h-1zM437 206h1v1h-1zM438 206h1v1h-1zM439 205h1v1h-1zM440 205h1v1h-1zM441 204h1v1h-1zM442 204h1v1h-1zM443 203h1v1h-1zM444 203h1v1h-1zM445 202h1v1h-1zM446 202h1v1h-1zM447 202h1v1h-1zM448 201h1v1h-1zM449 201h1v1h-1zM450 201h1v1h-1zM451 201h1v1h-1zM452 200h1v1h-1zM453 200h1v1h-1zM454 200h1v1h-1zM455 200h1v1h-1zM456 200h1v1h-1zM457 200h1v1h-1zM458 200h1v1h-1zM459 200h1v1h-1zM460 201h1v1h-1zM461 201h1v1h-1zM462 201h1v1h-1zM463 201h1v1h-1zM464 201h1v1h-1zM465 201h1v1h-1zM466 201h1v1h-1zM467 201h1v1h-1zM468 201h1v1h-1zM469 201h1v1h-1zM470 201h1v1h-1zM471 201h1v1h-1zM472 201h1v1h-1zM473 201h1v1h-1zM474 201h1v1h-1zM475 201h1v1h-1zM476 201h1v1h-1zM477 201h1v1h-1zM478 201h1v1h-1zM479 200h1v1h-1zM480 200h1v1h-1zM481 199h1v1h-1zM482 199h1v1h-1zM483 199h1v1h-1zM484 198h1v1h-1zM485 198h1v1h-1zM486 198h1v1h-1zM487 197h1v1h-1zM488 197h1v1h-1zM489 196h1v1h-1zM490 196h1v1h-1zM491 195h1v1h-1zM492 195h1v1h-1zM493 194h1v1h-1zM494 193h1v1h-1zM495 193h1v1h-1zM496 192h1v1h-1zM497 191h1v1h-1zM498 190h1v1h-1zM499 189h1v1h-1zM500 188h1v1h-1zM501 187h1v1h-1zM502 186h1v1h-1zM503 186h1v1h-1zM504 185h1v1h-1zM505 184h1v1h-1zM506 183h1v1h-1zM507 183h1v1h-1zM508 182h1v1h-1zM509 181h1v1h-1zM510 181h1v1h-1zM511 180h1v1h-1zM512 180h1v1h-1zM513 179h1v1h-1zM514 179h1v1h-1zM515 179h1v1h-1zM516 178h1v1h-1zM517 178h1v1h-1zM518 178h1v1h-1zM519 178h1v1h-1zM520 179h1v1h-1zM521 179h1v1h-1zM522 179h1v1h-1zM523 179h1v1h-1zM524 179h1v1h-1zM525 179h1v1h-1zM526 179h1v1h-1zM527 179h1v1h-1zM528 180h1v1h-1zM529 180h1v1h-1zM530 180h1v1h-1zM531 181h1v1h-1zM532 181h1v1h-1zM533 182h1v1h-1zM534 182h1v1h-1zM535 183h1v1h-1zM536 183h1v1h-1zM537 184h1v1h-1zM538 185h1v1h-1zM539 185h1v1h-1zM540 186h1v1h-1zM541 187h1v1h-1zM542 188h1v1h-1zM543 189h1v1h-1zM544 190h1v1h-1zM545 191h1v1h-1zM546 192h1v1h-1zM547 193h1v1h-1zM548 194h1v1h-1zM549 195h1v1h-1zM550 196h1v1h-1zM551 197h1v1h-1zM552 198h1v1h-1zM553 199h1v1h-1zM554 200h1v1h-1zM555 201h1v1h-1zM556 202h1v1h-1zM557 203h1v1h-1zM558 204h1v2h-1zM559 206h1v1h-1zM560 207h1v2h-1zM561 209h1v1h-1zM562 210h1v1h-1zM563 211h1v1h-1zM564 212h1v1h-1zM565 213h1v1h-1zM566 214h1v1h-1zM567 214h1v1h-1zM568 215h1v1h-1zM569 216h1v1h-1zM570 217h1v1h-1zM571 218h1v1h-1zM572 219h1v1h-1zM573 220h1v1h-1zM574 221h1v1h-1zM575 222h1v1h-1zM576 223h1v1h-1zM577 224h1v1h-1zM578 224h1v1h-1zM579 225h1v1h-1zM580 225h1v1h-1zM581 226h1v1h-1zM582 227h1v1h-1zM583 228h1v2h-1zM584 230h1v1h-1zM585 231h1v1h-1zM586 232h1v1h-1zM587 233h1v1h-1zM588 234h1v1h-1zM589 235h1v1h-1zM590 236h1v1h-1zM591 237h1v1h-1zM592 238h1v1h-1zM593 239h1v1h-1zM594 240h1v1h-1zM595 241h1v2h-1zM596 243h1v1h-1zM597 244h1v1h-1zM598 245h1v1h-1zM599 246h1v2h-1zM600 248h1v1h-1zM601 249h1v1h-1zM602 250h1v1h-1zM603 251h1v1h-1zM604 252h1v1h-1zM605 253h1v1h-1zM606 254h1v1h-1zM607 255h1v2h-1zM608 257h1v1h-1zM609 258h1v1h-1zM610 259h1v1h-1zM611 260h1v2h-1zM612 262h1v1h-1zM613 263h1v1h-1zM614 264h1v2h-1zM615 266h1v1h-1zM616 267h1v2h-1zM617 269h1v1h-1zM618 270h1v2h-1zM619 272h1v1h-1zM620 273h1v2h-1zM621 275h1v1h-1zM622 276h1v1h-1zM623 277h1v2h-1zM624 279h1v1h-1zM625 280h1v1h-1zM626 281h1v1h-1zM627 282h1v2h-1zM628 284h1v1h-1zM629 285h1v1h-1zM630 286h1v1h-1zM631 287h1v1h-1zM632 288h1v1h-1zM633 289h1v1h-1zM634 290h1v1h-1zM635 291h1v1h-1zM636 292h1v1h-1zM637 293h1v1h-1zM638 294h1v1h-1zM639 295h1v1h-1zM640 296h1v1h-1zM641 297h1v1h-1zM642 298h1v1h-1zM643 298h1v1h-1zM644 299h1v1h-1zM645 300h1v1h-1zM646 301h1v1h-1zM647 302h1v1h-1zM648 303h1v1h-1zM649 304h1v1h-1zM650 304h1v1h-1zM651 305h1v1h-1zM652 305h1v1h-1zM653 306h1v1h-1zM654 306h1v1h-1zM655 307h1v1h-1zM656 307h1v1h-1zM657 308h1v1h-1zM658 308h1v1h-1zM659 308h1v1h-1zM660 309h1v1h-1zM661 309h1v1h-1zM662 309h1v1h-1zM663 309h1v1h-1zM664 308h1v1h-1zM665 308h1v1h-1zM666 308h1v1h-1zM667 308h1v1h-1zM668 307h1v1h-1zM669 307h1v1h-1zM670 307h1v1h-1zM671 306h1v1h-1zM672 306h1v1h-1zM673 305h1v1h-1zM674 305h1v1h-1zM675 304h1v1h-1zM676 304h1v1h-1zM677 303h1v1h-1zM678 303h1v1h-1zM679 302h1v1h-1zM680 302h1v1h-1zM681 301h1v1h-1zM682 301h1v1h-1zM683 301h1v1h-1zM684 300h1v1h-1zM685 300h1v1h-1zM686 300h1v1h-1zM687 299h1v1h-1zM688 299h1v1h-1zM689 298h1v1h-1zM690 298h1v1h-1zM691 297h1v1h-1zM692 297h1v1h-1zM693 296h1v1h-1zM694 296h1v1h-1zM695 295h1v1h-1zM696 295h1v1h-1zM697 294h1v1h-1zM698 294h1v1h-1zM699 294h1v1h-1zM700 293h1v1h-1zM701 293h1v1h-1zM702 293h1v1h-1zM703 292h1v1h-1zM704 292h1v1h-1zM705 291h1v1h-1zM706 291h1v1h-1zM707 291h1v1h-1zM708 290h1v1h-1zM709 290h1v1h-1zM710 290h1v1h-1zM711 290h1v1h-1zM712 291h1v1h-1zM713 291h1v1h-1zM714 291h1v1h-1zM715 291h1v1h-1zM716 291h1v1h-1zM717 291h1v1h-1zM718 291h1v1h-1zM719 291h1v1h-1zM720 291h1v1h-1zM721 291h1v1h-1zM722 291h1v1h-1zM723 291h1v1h-1zM724 291h1v1h-1zM725 291h1v1h-1zM726 291h1v1h-1zM727 291h1v1h-1zM728 292h1v1h-1zM729 292h1v1h-1zM730 292h1v1h-1zM731 292h1v1h-1zM732 292h1v1h-1zM733 292h1v1h-1zM734 292h1v1h-1zM735 292h1v1h-1zM736 292h1v1h-1zM737 292h1v1h-1zM738 292h1v1h-1zM739 292h1v1h-1zM740 292h1v1h-1zM741 292h1v1h-1zM742 292h1v1h-1zM743 292h1v1h-1zM744 292h1v1h-1zM745 292h1v1h-1zM746 292h1v1h-1zM747 292h1v1h-1zM748 293h1v1h-1zM749 293h1v1h-1zM750 293h1v1h-1zM751 293h1v1h-1zM752 294h1v1h-1zM753 294h1v1h-1zM754 294h1v1h-1zM755 294h1v1h-1zM756 294h1v1h-1zM757 294h1v1h-1zM758 294h1v1h-1zM759 294h1v1h-1zM760 293h1v1h-1zM761 293h1v1h-1zM762 293h1v1h-1zM763 293h1v1h-1zM764 292h1v1h-1zM765 292h1v1h-1zM766 292h1v1h-1zM767 292h1v1h-1zM768 292h1v1h-1zM769 292h1v1h-1zM770 292h1v1h-1zM771 292h1v1h-1zM772 292h1v1h-1zM773 292h1v1h-1zM774 292h1v1h-1zM775 293h1v1h-1zM776 293h1v1h-1zM777 294h1v1h-1zM778 294h1v1h-1zM779 294h1v1h-1zM780 295h1v1h-1zM781 295h1v1h-1zM782 295h1v1h-1zM783 295h1v1h-1zM784 296h1v1h-1zM785 296h1v1h-1zM786 296h1v1h-1zM787 296h1v1h-1zM788 297h1v1h-1zM789 297h1v1h-1zM790 297h1v1h-1zM791 298h1v1h-1zM792 298h1v1h-1zM793 299h1v1h-1zM794 299h1v1h-1zM795 300h1v1h-1zM796 300h1v1h-1zM797 301h1v1h-1zM798 301h1v1h-1zM799 302h1v1h-1zM800 302h1v1h-1zM801 303h1v1h-1zM802 303h1v1h-1zM803 303h1v1h-1zM804 304h1v1h-1zM805 304h1v1h-1zM806 304h1v1h-1zM807 304h1v1h-1zM808 305h1v1h-1zM809 305h1v1h-1zM810 305h1v1h-1zM811 305h1v1h-1zM812 305h1v1h-1zM813 305h1v1h-1zM814 305h1v1h-1zM815 305h1v1h-1zM816 305h1v1h-1zM817 305h1v1h-1zM818 305h1v1h-1zM819 305h1v1h-1zM820 305h1v1h-1zM821 305h1v1h-1zM822 305h1v1h-1zM823 305h1v1h-1zM824 305h1v1h-1zM825 305h1v1h-1zM826 305h1v1h-1zM827 305h1v1h-1zM828 304h1v1h-1zM829 304h1v1h-1zM830 304h1v1h-1zM831 304h1v1h-1zM832 303h1v1h-1zM833 303h1v1h-1zM834 303h1v1h-1zM835 303h1v1h-1zM836 302h1v1h-1zM837 302h1v1h-1zM838 302h1v1h-1zM839 302h1v1h-1zM840 301h1v1h-1zM841 301h1v1h-1zM842 301h1v1h-1zM843 300h1v1h-1zM844 300h1v1h-1zM845 299h1v1h-1zM846 299h1v1h-1zM847 298h1v1h-1zM848 298h1v1h-1zM849 297h1v1h-1zM850 296h1v1h-1zM851 296h1v1h-1zM852 295h1v1h-1zM853 294h1v1h-1zM854 293h1v1h-1zM855 293h1v1h-1zM856 292h1v1h-1zM857 291h1v1h-1zM858 290h1v1h-1zM859 290h1v1h-1zM860 289h1v1h-1zM861 288h1v1h-1zM862 287h1v1h-1zM863 287h1v1h-1zM864 286h1v1h-1zM865 285h1v1h-1zM866 284h1v1h-1zM867 284h1v1h-1zM868 283h1v1h-1zM869 282h1v1h-1zM870 281h1v1h-1zM871 280h1v1h-1zM872 279h1v1h-1zM873 278h1v1h-1zM874 277h1v1h-1zM875 277h1v1h-1zM876 276h1v1h-1zM877 275h1v1h-1zM878 275h1v1h-1zM879 274h1v1h-1zM880 274h1v1h-1zM881 273h1v1h-1zM882 273h1v1h-1zM883 273h1v1h-1zM884 272h1v1h-1zM885 272h1v1h-1zM886 272h1v1h-1zM887 271h1v1h-1zM888 271h1v1h-1zM889 270h1v1h-1zM890 269h1v1h-1zM891 269h1v1h-1zM892 268h1v1h-1zM893 267h1v1h-1zM894 267h1v1h-1zM895 267h1v1h-1zM896 266h1v1h-1zM897 266h1v1h-1zM898 266h1v1h-1zM899 266h1v1h-1zM900 265h1v1h-1zM901 265h1v1h-1zM902 265h1v1h-1zM903 265h1v1h-1zM904 265h1v1h-1zM905 265h1v1h-1zM906 265h1v1h-1zM907 265h1v1h-1zM908 265h1v1h-1zM909 265h1v1h-1zM910 265h1v1h-1zM911 265h1v1h-1zM912 264h1v1h-1zM913 264h1v1h-1zM914 264h1v1h-1zM915 264h1v1h-1zM916 263h1v1h-1zM917 263h1v1h-1zM918 263h1v1h-1zM919 263h1v1h-1zM920 262h1v1h-1zM921 262h1v1h-1zM922 262h1v1h-1zM923 262h1v1h-1zM924 262h1v1h-1zM925 262h1v1h-1zM926 262h1v1h-1zM927 262h1v1h-1zM928 263h1v1h-1zM929 263h1v1h-1zM930 263h1v1h-1zM931 264h1v1h-1zM932 264h1v1h-1zM933 265h1v1h-1zM934 265h1v1h-1zM935 266h1v1h-1zM936 266h1v1h-1zM937 267h1v1h-1zM938 267h1v1h-1zM939 267h1v1h-1zM940 268h1v1h-1zM941 268h1v1h-1zM942 268h1v1h-1zM943 269h1v1h-1zM944 269h1v1h-1zM945 270h1v1h-1zM946 270h1v1h-1zM947 270h1v1h-1zM948 271h1v1h-1zM949 271h1v1h-1zM950 271h1v1h-1zM951 271h1v1h-1zM952 272h1v1h-1zM953 272h1v1h-1zM954 272h1v1h-1zM955 272h1v1h-1zM956 273h1v1h-1zM957 273h1v1h-1zM958 273h1v1h-1zM959 273h1v1h-1zM960 274h1v1h-1zM961 274h1v1h-1zM962 274h1v1h-1zM963 274h1v1h-1zM964 274h1v1h-1zM965 274h1v1h-1zM966 274h1v1h-1zM967 274h1v1h-1zM968 274h1v1h-1zM969 274h1v1h-1zM970 274h1v1h-1zM971 275h1v1h-1zM972 275h1v1h-1zM973 276h1v1h-1zM974 276h1v1h-1zM975 276h1v1h-1zM976 277h1v1h-1zM977 277h1v1h-1zM978 277h1v1h-1zM979 278h1v1h-1zM980 278h1v1h-1zM981 279h1v1h-1zM982 279h1v1h-1zM983 279h1v1h-1zM984 280h1v1h-1zM985 280h1v1h-1zM986 280h1v1h-1zM987 281h1v1h-1zM988 281h1v1h-1zM989 282h1v1h-1zM990 282h1v1h-1zM991 282h1v1h-1zM992 283h1v1h-1zM993 283h1v1h-1zM994 283h1v1h-1zM995 283h1v1h-1zM996 282h1v1h-1zM997 282h1v1h-1zM998 282h1v1h-1zM999 282h1v1h-1zM1000 282h1v1h-1zM1001 282h1v1h-1zM1002 282h1v1h-1zM1003 282h1v1h-1zM1004 282h1v1h-1zM1005 282h1v1h-1zM1006 282h1v1h-1zM1007 282h1v1h-1zM1008 281h1v1h-1zM1009 281h1v1h-1zM1010 281h1v1h-1zM1011 281h1v1h-1zM1012 281h1v1h-1zM1013 281h1v1h-1zM1014 281h1v1h-1zM1015 281h1v1h-1zM1016 280h1v1h-1zM1017 280h1v1h-1zM1018 280h1v1h-1zM1019 279h1v1h-1zM1020 279h1v1h-1zM1021 278h1v1h-1zM1022 278h1v1h-1zM1023 277h1v1h-1zM1024 277h1v1h-1zM1025 276h1v1h-1zM1026 276h1v1h-1zM1027 276h1v1h-1zM1028 275h1v1h-1zM1029 275h1v1h-1zM1030 275h1v1h-1zM1031 274h1v1h-1zM1032 274h1v1h-1zM1033 273h1v1h-1zM1034 273h1v1h-1zM1035 272h1v1h-1zM1036 272h1v1h-1zM1037 271h1v1h-1zM1038 271h1v1h-1zM1039 270h1v1h-1zM1040 270h1v1h-1zM1041 269h1v1h-1zM1042 268h1v1h-1zM1043 268h1v1h-1zM1044 267h1v1h-1zM1045 266h1v1h-1zM1046 265h1v1h-1zM1047 264h1v1h-1zM1048 263h1v1h-1zM1049 262h1v1h-1zM1050 261h1v1h-1zM1051 260h1v1h-1zM1052 259h1v1h-1zM1053 258h1v1h-1zM1054 257h1v1h-1zM1055 256h1v1h-1zM1056 255h1v1h-1zM1057 254h1v1h-1zM1058 253h1v1h-1zM1059 251h1v2h-1zM1060 250h1v1h-1zM1061 249h1v1h-1zM1062 248h1v1h-1zM1063 246h1v2h-1zM1064 245h1v1h-1zM1065 244h1v1h-1zM1066 243h1v1h-1zM1067 242h1v1h-1zM1068 241h1v1h-1zM1069 240h1v1h-1zM1070 239h1v1h-1zM1071 238h1v1h-1zM1072 237h1v1h-1zM1073 236h1v1h-1zM1074 235h1v1h-1zM1075 234h1v1h-1zM1076 233h1v1h-1zM1077 232h1v1h-1zM1078 232h1v1h-1zM1079 231h1v1h-1zM1080 231h1v1h-1zM1081 230h1v1h-1zM1082 230h1v1h-1zM1083 230h1v1h-1zM1084 229h1v1h-1zM1085 229h1v1h-1zM1086 229h1v1h-1zM1087 229h1v1h-1zM1088 229h1v1h-1zM1089 229h1v1h-1zM1090 229h1v1h-1zM1091 229h1v1h-1zM1092 229h1v1h-1zM1093 229h1v1h-1zM1094 229h1v1h-1zM1095 228h1v1h-1zM1096 228h1v1h-1zM1097 227h1v1h-1zM1098 227h1v1h-1zM1099 227h1v1h-1zM1100 226h1v1h-1zM1101 226h1v1h-1zM1102 226h1v1h-1zM1103 225h1v1h-1zM1104 225h1v1h-1zM1105 224h1v1h-1zM1106 224h1v1h-1zM1107 224h1v1h-1zM1108 223h1v1h-1zM1109 223h1v1h-1zM1110 223h1v1h-1zM1111 223h1v1h-1zM1112 222h1v1h-1zM1113 222h1v1h-1zM1114 222h1v1h-1zM1115 222h1v1h-1zM1116 222h1v1h-1zM1117 222h1v1h-1zM1118 222h1v1h-1zM1119 222h1v1h-1zM1120 221h1v1h-1zM1121 221h1v1h-1zM1122 221h1v1h-1zM1123 221h1v1h-1zM1124 221h1v1h-1zM1125 221h1v1h-1zM1126 221h1v1h-1zM1127 221h1v1h-1zM1128 222h1v1h-1zM1129 222h1v1h-1zM1130 222h1v1h-1zM1131 222h1v1h-1zM1132 222h1v1h-1zM1133 222h1v1h-1zM1134 222h1v1h-1zM1135 222h1v1h-1zM1136 222h1v1h-1zM1137 222h1v1h-1zM1138 222h1v1h-1zM1139 222h1v1h-1zM1140 223h1v1h-1zM1141 223h1v1h-1zM1142 223h1v1h-1zM1143 223h1v1h-1zM1144 224h1v1h-1zM1145 224h1v1h-1zM1146 224h1v1h-1zM1147 225h1v1h-1zM1148 225h1v1h-1zM1149 226h1v1h-1zM1150 227h1v1h-1zM1151 227h1v1h-1zM1152 228h1v1h-1zM1153 229h1v1h-1zM1154 230h1v1h-1zM1155 230h1v1h-1zM1156 231h1v1h-1zM1157 232h1v1h-1zM1158 233h1v1h-1zM1159 234h1v1h-1zM1160 235h1v1h-1zM1161 236h1v1h-1zM1162 237h1v1h-1zM1163 238h1v1h-1zM1164 239h1v1h-1zM1165 240h1v1h-1zM1166 241h1v2h-1zM1167 243h1v1h-1zM1168 244h1v2h-1zM1169 246h1v1h-1zM1170 247h1v1h-1zM1171 248h1v2h-1zM1172 250h1v1h-1zM1173 251h1v1h-1zM1174 252h1v2h-1zM1175 254h1v1h-1zM1176 255h1v2h-1zM1177 257h1v1h-1zM1178 258h1v2h-1zM1179 260h1v1h-1zM1180 261h1v2h-1zM1181 263h1v1h-1zM1182 264h1v1h-1zM1183 265h1v2h-1zM1184 267h1v1h-1zM1185 268h1v1h-1zM1186 269h1v2h-1zM1187 271h1v1h-1zM1188 272h1v2h-1zM1189 274h1v1h-1zM1190 275h1v1h-1zM1191 276h1v2h-1zM1192 278h1v1h-1zM1193 279h1v1h-1zM1194 280h1v1h-1zM1195 281h1v2h-1zM1196 283h1v1h-1zM1197 284h1v1h-1zM1198 285h1v1h-1zM1199 286h1v2h-1zM1200 288h1v1h-1zM1201 289h1v1h-1zM1202 290h1v1h-1zM1203 290h1v1h-1zM1204 291h1v1h-1zM1205 292h1v1h-1zM1206 292h1v1h-1zM1207 293h1v1h-1zM1208 293h1v1h-1zM1209 294h1v1h-1zM1210 295h1v1h-1zM1211 295h1v1h-1zM1212 296h1v1h-1zM1213 297h1v1h-1zM1214 298h1v1h-1zM1215 298h1v1h-1zM1216 299h1v1h-1zM1217 300h1v1h-1zM1218 301h1v1h-1zM1219 302h1v1h-1zM1220 303h1v1h-1zM1221 304h1v1h-1zM1222 305h1v1h-1zM1223 306h1v1h-1zM1224 307h1v1h-1zM1225 308h1v1h-1zM1226 309h1v1h-1zM1227 310h1v1h-1zM1228 311h1v1h-1zM1229 312h1v1h-1zM1230 313h1v1h-1zM1231 314h1v1h-1zM1232 315h1v1h-1zM1233 316h1v1h-1zM1234 317h1v1h-1zM1235 318h1v2h-1zM1236 320h1v1h-1zM1237 321h1v1h-1zM1238 322h1v1h-1zM1239 323h1v2h-1zM1240 325h1v1h-1zM1241 326h1v1h-1zM1242 327h1v1h-1zM1243 328h1v2h-1zM1244 330h1v1h-1zM1245 331h1v1h-1zM1246 332h1v1h-1zM1247 333h1v2h-1zM1248 335h1v1h-1zM1249 336h1v1h-1zM1250 337h1v1h-1zM1251 338h1v2h-1zM1252 340h1v1h-1zM1253 341h1v1h-1zM1254 342h1v1h-1zM1255 343h1v2h-1zM1256 345h1v1h-1zM1257 346h1v1h-1zM1258 347h1v2h-1zM1259 349h1v1h-1zM1260 350h1v2h-1zM1261 352h1v1h-1zM1262 353h1v2h-1zM1263 355h1v2h-1zM1264 357h1v2h-1zM1265 359h1v1h-1zM1266 360h1v2h-1zM1267 362h1v1h-1zM1268 363h1v2h-1zM1269 365h1v1h-1zM1270 366h1v1h-1zM1271 367h1v1h-1zM1272 368h1v1h-1zM1273 369h1v1h-1zM1274 370h1v1h-1zM1275 370h1v1h-1zM1276 371h1v1h-1zM1277 372h1v1h-1zM1278 372h1v1h-1zM1279 373h1v1h-1zM1280 373h1v1h-1zM1281 374h1v1h-1zM1282 374h1v1h-1zM1283 375h1v1h-1zM1284 375h1v1h-1zM1285 376h1v1h-1zM1286 376h1v1h-1zM1287 376h1v1h-1zM1288 377h1v1h-1zM1289 377h1v1h-1zM1290 377h1v1h-1zM1291 378h1v1h-1zM1292 378h1v1h-1zM1293 379h1v1h-1zM1294 379h1v1h-1zM1295 379h1v1h-1zM1296 379h1v1h-1zM1297 379h1v1h-1zM1298 380h1v1h-1zM1299 381h1v2h-1zM1300 383h1v1h-1zM1301 384h1v1h-1zM1302 385h1v1h-1zM1303 386h1v2h-1zM1304 388h1v1h-1zM1305 389h1v1h-1z"/>
<path clip-path="url(#cm)" shape-rendering="crispEdges" fill="#ff0000" d="M5 101h1v1h-1zM6 100h1v1h-1zM7 100h1v1h-1zM8 99h1v1h-1zM9 98h1v1h-1zM10 98h1v1h-1zM11 98h1v1h-1zM12 97h1v1h-1zM13 97h1v1h-1zM14 97h1v1h-1zM15 97h1v1h-1zM16 97h1v1h-1zM17 97h1v1h-1zM18 97h1v1h-1zM19 97h1v1h-1zM20 98h1v1h-1zM21 98h1v1h-1zM22 98h1v1h-1zM23 99h1v1h-1zM24 99h1v1h-1zM25 100h1v1h-1zM26 100h1v1h-1zM27 101h1v1h-1zM28 101h1v1h-1zM29 102h1v1h-1zM30 103h1v1h-1zM31 103h1v1h-1zM32 104h1v1h-1zM33 105h1v1h-1zM34 106h1v1h-1zM35 107h1v2h-1zM36 109h1v1h-1zM37 110h1v1h-1zM38 111h1v2h-1zM39 113h1v1h-1zM40 114h1v2h-1zM41 116h1v1h-1zM42 117h1v1h-1zM43 117h1v1h-1zM44 118h1v1h-1zM45 119h1v1h-1zM46 120h1v1h-1zM47 120h1v1h-1zM48 121h1v1h-1zM49 122h1v1h-1zM50 123h1v1h-1zM51 123h1v1h-1zM52 124h1v1h-1zM53 125h1v1h-1zM54 126h1v1h-1zM55 126h1v1h-1zM56 127h1v1h-1zM57 128h1v1h-1zM58 129h1v1h-1zM59 129h1v1h-1zM60 130h1v1h-1zM61 131h1v1h-1zM62 132h1v1h-1zM63 132h1v1h-1zM64 133h1v1h-1zM65 134h1v1h-1zM66 134h1v1h-1zM67 135h1v1h-1zM68 135h1v1h-1zM69 136h1v1h-1zM70 136h1v1h-1zM71 136h1v1h-1zM72 136h1v1h-1zM73 136h1v1h-1zM74 136h1v1h-1zM75 135h1v1h-1zM76 135h1v1h-1zM77 134h1v1h-1zM78 134h1v1h-1zM79 134h1v1h-1zM80 134h1v1h-1zM81 134h1v1h-1zM82 134h1v1h-1zM83 133h1v1h-1zM84 133h1v1h-1zM85 132h1v1h-1zM86 132h1v1h-1zM87 131h1v1h-1zM88 131h1v1h-1zM89 130h1v1h-1zM90 130h1v1h-1zM91 129h1v1h-1zM92 129h1v1h-1zM93 128h1v1h-1zM94 127h1v1h-1zM95 127h1v1h-1zM96 126h1v1h-1zM97 125h1v1h-1zM98 124h1v1h-1zM99 123h1v1h-1zM100 122h1v1h-1zM101 121h1v1h-1zM102 121h1v1h-1zM103 121h1v1h-1zM104 120h1v1h-1zM105 120h1v1h-1zM106 120h1v1h-1zM107 120h1v1h-1zM108 120h1v1h-1zM109 120h1v1h-1zM110 120h1v1h-1zM111 120h1v1h-1zM112 120h1v1h-1zM113 120h1v1h-1zM114 120h1v1h-1zM115 119h1v1h-1zM116 119h1v1h-1zM117 118h1v1h-1zM118 118h1v1h-1zM119 118h1v1h-1zM120 117h1v1h-1zM121 117h1v1h-1zM122 117h1v1h-1zM123 117h1v1h-1zM124 118h1v1h-1zM125 118h1v1h-1zM126 118h1v1h-1zM127 118h1v1h-1zM128 117h1v1h-1zM129 117h1v1h-1zM130 117h1v1h-1zM131 117h1v1h-1zM132 117h1v1h-1zM133 117h1v1h-1zM134 117h1v1h-1zM135 117h1v1h-1zM136 116h1v1h-1zM137 116h1v1h-1zM138 116h1v1h-1zM139 116h1v1h-1zM140 117h1v1h-1zM141 117h1v1h-1zM142 117h1v1h-1zM143 116h1v1h-1zM144 116h1v1h-1zM145 115h1v1h-1zM146 115h1v1h-1zM147 114h1v1h-1zM148 114h1v1h-1zM149 113h1v1h-1zM150 113h1v1h-1zM151 112h1v1h-1zM152 112h1v1h-1zM153 111h1v1h-1zM154 111h1v1h-1zM155 111h1v1h-1zM156 112h1v1h-1zM157 112h1v1h-1zM158 111h1v1h-1zM159 110h1v1h-1zM160 109h1v1h-1zM161 108h1v1h-1zM162 107h1v1h-1zM163 106h1v1h-1zM164 105h1v1h-1zM165 104h1v1h-1zM166 103h1v1h-1zM167 102h1v1h-1zM168 101h1v1h-1zM169 100h1v1h-1zM170 99h1v1h-1zM171 99h1v1h-1zM172 98h1v1h-1zM173 97h1v1h-1zM174 97h1v1h-1zM175 96h1v1h-1zM176 96h1v1h-1zM177 95h1v1h-1zM178 94h1v1h-1zM179 93h1v1h-1zM180 92h1v1h-1zM181 91h1v1h-1zM182 91h1v1h-1zM183 91h1v1h-1zM184 90h1v1h-1zM185 90h1v1h-1zM186 90h1v1h-1zM187 90h1v1h-1zM188 89h1v1h-1zM189 89h1v1h-1zM190 89h1v1h-1zM191 88h1v1h-1zM192 88h1v1h-1zM193 87h1v1h-1zM194 87h1v1h-1zM195 87h1v1h-1zM196 88h1v1h-1zM197 88h1v1h-1zM198 89h1v1h-1zM199 90h1v1h-1zM200 91h1v1h-1zM201 92h1v1h-1zM202 93h1v1h-1zM203 94h1v2h-1zM204 96h1v1h-1zM205 97h1v1h-1zM206 98h1v1h-1zM207 99h1v2h-1zM208 101h1v1h-1zM209 102h1v1h-1zM210 103h1v1h-1zM211 103h1v1h-1zM212 104h1v1h-1zM213 105h1v1h-1zM214 106h1v2h-1zM215 108h1v1h-1zM216 109h1v2h-1zM217 111h1v1h-1zM218 112h1v1h-1zM219 113h1v2h-1zM220 115h1v1h-1zM221 116h1v1h-1zM222 117h1v2h-1zM223 119h1v1h-1zM224 120h1v2h-1zM225 122h1v1h-1zM226 123h1v2h-1zM227 125h1v2h-1zM228 127h1v2h-1zM229 129h1v1h-1zM230 130h1v2h-1zM231 132h1v1h-1zM232 133h1v2h-1zM233 135h1v1h-1zM234 136h1v2h-1zM235 138h1v1h-1zM236 139h1v2h-1zM237 141h1v1h-1zM238 142h1v2h-1zM239 144h1v1h-1zM240 145h1v2h-1zM241 147h1v1h-1zM242 148h1v2h-1zM243 150h1v1h-1zM244 151h1v2h-1zM245 153h1v1h-1zM246 154h1v2h-1zM247 156h1v1h-1zM248 157h1v2h-1zM249 159h1v1h-1zM250 160h1v1h-1zM251 161h1v2h-1zM252 163h1v1h-1zM253 164h1v1h-1zM254 164h1v1h-1zM255 164h1v1h-1zM256 165h1v1h-1zM257 165h1v1h-1zM258 165h1v1h-1zM259 165h1v1h-1zM260 165h1v1h-1zM261 165h1v1h-1zM262 166h1v1h-1zM263 167h1v1h-1zM264 168h1v1h-1zM265 169h1v1h-1zM266 170h1v1h-1zM267 171h1v1h-1zM268 172h1v1h-1zM269 173h1v1h-1zM270 174h1v1h-1zM271 175h1v2h-1zM272 177h1v1h-1zM273 178h1v1h-1zM274 179h1v2h-1zM275 181h1v1h-1zM276 182h1v2h-1zM277 184h1v1h-1zM278 185h1v2h-1zM279 187h1v2h-1zM280 189h1v2h-1zM281 191h1v1h-1zM282 192h1v2h-1zM283 194h1v1h-1zM284 195h1v2h-1zM285 197h1v1h-1zM286 198h1v1h-1zM287 199h1v1h-1zM288 200h1v1h-1zM289 201h1v1h-1zM290 202h1v2h-1zM291 204h1v1h-1zM292 205h1v2h-1zM293 207h1v1h-1zM294 208h1v1h-1zM295 209h1v2h-1zM296 211h1v1h-1zM297 212h1v1h-1zM298 213h1v1h-1zM299 214h1v1h-1zM300 215h1v1h-1zM301 216h1v1h-1zM302 217h1v1h-1zM303 218h1v1h-1zM304 219h1v1h-1zM305 220h1v1h-1zM306 220h1v1h-1zM307 221h1v1h-1zM308 221h1v1h-1zM309 222h1v1h-1zM310 223h1v1h-1zM311 223h1v1h-1zM312 224h1v1h-1zM313 225h1v1h-1zM314 226h1v1h-1zM315 226h1v1h-1zM316 227h1v1h-1zM317 228h1v1h-1zM318 228h1v1h-1zM319 228h1v1h-1zM320 229h1v1h-1zM321 229h1v1h-1zM322 229h1v1h-1zM323 230h1v1h-1zM324 230h1v1h-1zM325 231h1v1h-1zM326 231h1v1h-1zM327 231h1v1h-1zM328 231h1v1h-1zM329 231h1v1h-1zM330 231h1v1h-1zM331 230h1v1h-1zM332 230h1v1h-1zM333 229h1v1h-1zM334 228h1v1h-1zM335 228h1v1h-1zM336 227h1v1h-1zM337 226h1v1h-1zM338 225h1v1h-1zM339 223h1v2h-1zM340 222h1v1h-1zM341 221h1v1h-1zM342 220h1v1h-1zM343 220h1v1h-1zM344 219h1v1h-1zM345 218h1v1h-1zM346 217h1v1h-1zM347 216h1v1h-1zM348 215h1v1h-1zM349 214h1v1h-1zM350 213h1v1h-1zM351 211h1v2h-1zM352 210h1v1h-1zM353 209h1v1h-1zM354 208h1v1h-1zM355 206h1v2h-1zM356 205h1v1h-1zM357 204h1v1h-1zM358 204h1v1h-1zM359 203h1v1h-1zM360 203h1v1h-1zM361 202h1v1h-1zM362 202h1v1h-1zM363 202h1v1h-1zM364 201h1v1h-1zM365 201h1v1h-1zM366 201h1v1h-1zM367 201h1v1h-1zM368 200h1v1h-1zM369 200h1v1h-1zM370 200h1v1h-1zM371 200h1v1h-1zM372 201h1v1h-1zM373 201h1v1h-1zM374 201h1v1h-1zM375 201h1v1h-1zM376 202h1v1h-1zM377 202h1v1h-1zM378 202h1v1h-1zM379 203h1v1h-1zM380 203h1v1h-1zM381 204h1v1h-1zM382 205h1v1h-1zM383 205h1v1h-1zM384 206h1v1h-1zM385 207h1v1h-1zM386 208h1v1h-1zM387 208h1v1h-1zM388 209h1v1h-1zM389 210h1v1h-1zM390 211h1v1h-1zM391 212h1v1h-1zM392 213h1v1h-1zM393 214h1v1h-1zM394 215h1v1h-1zM395 215h1v1h-1zM396 216h1v1h-1zM397 217h1v1h-1zM398 217h1v1h-1zM399 218h1v1h-1zM400 218h1v1h-1zM401 219h1v1h-1zM402 219h1v1h-1zM403 220h1v1h-1zM404 220h1v1h-1zM405 221h1v1h-1zM406 221h1v1h-1zM407 222h1v1h-1zM408 222h1v1h-1zM409 223h1v1h-1zM410 223h1v1h-1zM411 223h1v1h-1zM412 224h1v1h-1zM413 224h1v1h-1zM414 224h1v1h-1zM415 224h1v1h-1zM416 223h1v1h-1zM417 223h1v1h-1zM418 223h1v1h-1zM419 222h1v1h-1zM420 222h1v1h-1zM421 221h1v1h-1zM422 220h1v1h-1zM423 220h1v1h-1zM424 219h1v1h-1zM425 218h1v1h-1zM426 217h1v1h-1zM427 216h1v1h-1zM428 215h1v1h-1zM429 214h1v1h-1zM430 213h1v1h-1zM431 212h1v1h-1zM432 211h1v1h-1zM433 210h1v1h-1zM434 209h1v1h-1zM435 207h1v2h-1zM436 206h1v1h-1zM437 204h1v2h-1zM438 202h1v2h-1zM439 200h1v2h-1zM440 198h1v2h-1zM441 197h1v1h-1zM442 195h1v2h-1zM443 194h1v1h-1zM444 192h1v2h-1zM445 191h1v1h-1zM446 190h1v1h-1zM447 189h1v1h-1zM448 188h1v1h-1zM449 187h1v1h-1zM450 187h1v1h-1zM451 186h1v1h-1zM452 186h1v1h-1zM453 185h1v1h-1zM454 185h1v1h-1zM455 184h1v1h-1zM456 184h1v1h-1zM457 183h1v1h-1zM458 183h1v1h-1zM459 183h1v1h-1zM460 183h1v1h-1zM461 183h1v1h-1zM462 183h1v1h-1zM463 183h1v1h-1zM464 183h1v1h-1zM465 183h1v1h-1zM466 183h1v1h-1zM467 183h1v1h-1zM468 182h1v1h-1zM469 182h1v1h-1zM470 182h1v1h-1zM471 182h1v1h-1zM472 182h1v1h-1zM473 182h1v1h-1zM474 182h1v1h-1zM475 182h1v1h-1zM476 181h1v1h-1zM477 181h1v1h-1zM478 181h1v1h-1zM479 181h1v1h-1zM480 180h1v1h-1zM481 180h1v1h-1zM482 180h1v1h-1zM483 180h1v1h-1zM484 180h1v1h-1zM485 180h1v1h-1zM486 179h1v1h-1zM487 179h1v1h-1zM488 178h1v1h-1zM489 177h1v1h-1zM490 177h1v1h-1zM491 176h1v1h-1zM492 176h1v1h-1zM493 175h1v1h-1zM494 175h1v1h-1zM495 175h1v1h-1zM496 174h1v1h-1zM497 174h1v1h-1zM498 174h1v1h-1zM499 174h1v1h-1zM500 173h1v1h-1zM501 173h1v1h-1zM502 172h1v1h-1zM503 172h1v1h-1zM504 171h1v1h-1zM505 170h1v1h-1zM506 170h1v1h-1zM507 170h1v1h-1zM508 170h1v1h-1zM509 170h1v1h-1zM510 170h1v1h-1zM511 170h1v1h-1zM512 169h1v1h-1zM513 169h1v1h-1zM514 169h1v1h-1zM515 169h1v1h-1zM516 168h1v1h-1zM517 168h1v1h-1zM518 168h1v1h-1zM519 169h1v1h-1zM520 169h1v1h-1zM521 170h1v1h-1zM522 171h1v1h-1zM523 172h1v1h-1zM524 173h1v1h-1zM525 174h1v1h-1zM526 175h1v1h-1zM527 176h1v1h-1zM528 177h1v1h-1zM529 178h1v1h-1zM530 179h1v2h-1zM531 181h1v1h-1zM532 182h1v2h-1zM533 184h1v1h-1zM534 185h1v2h-1zM535 187h1v1h-1zM536 188h1v2h-1zM537 190h1v1h-1zM538 191h1v2h-1zM539 193h1v2h-1zM540 195h1v2h-1zM541 197h1v2h-1zM542 199h1v2h-1zM543 201h1v2h-1zM544 203h1v2h-1zM545 205h1v3h-1zM546 208h1v3h-1zM547 211h1v2h-1zM548 213h1v3h-1zM549 216h1v3h-1zM550 219h1v3h-1zM551 222h1v2h-1zM552 224h1v3h-1zM553 227h1v3h-1zM554 230h1v3h-1zM555 233h1v2h-1zM556 235h1v3h-1zM557 238h1v3h-1zM558 241h1v3h-1zM559 244h1v3h-1zM560 247h1v3h-1zM561 250h1v3h-1zM562 253h1v2h-1zM563 255h1v2h-1zM564 257h1v2h-1zM565 259h1v2h-1zM566 261h1v2h-1zM567 263h1v2h-1zM568 265h1v2h-1zM569 267h1v1h-1zM570 268h1v2h-1zM571 270h1v1h-1zM572 271h1v2h-1zM573 273h1v1h-1zM574 274h1v2h-1zM575 276h1v2h-1zM576 278h1v2h-1zM577 280h1v1h-1zM578 281h1v1h-1zM579 282h1v1h-1zM580 283h1v1h-1zM581 284h1v1h-1zM582 285h1v2h-1zM583 287h1v2h-1zM584 289h1v2h-1zM585 291h1v1h-1zM586 292h1v1h-1zM587 293h1v1h-1zM588 294h1v1h-1zM589 295h1v1h-1zM590 296h1v1h-1zM591 297h1v1h-1zM592 298h1v1h-1zM593 299h1v1h-1zM594 300h1v1h-1zM595 300h1v1h-1zM596 301h1v1h-1zM597 302h1v1h-1zM598 302h1v1h-1zM599 303h1v1h-1zM600 303h1v1h-1zM601 304h1v1h-1zM602 304h1v1h-1zM603 304h1v1h-1zM604 304h1v1h-1zM605 304h1v1h-1zM606 304h1v1h-1zM607 304h1v1h-1zM608 304h1v1h-1zM609 304h1v1h-1zM610 304h1v1h-1zM611 304h1v1h-1zM612 304h1v1h-1zM613 304h1v1h-1zM614 304h1v1h-1zM615 304h1v1h-1zM616 304h1v1h-1zM617 304h1v1h-1zM618 305h1v1h-1zM619 305h1v1h-1zM620 306h1v1h-1zM621 307h1v1h-1zM622 307h1v1h-1zM623 307h1v1h-1zM624 307h1v1h-1zM625 307h1v1h-1zM626 307h1v1h-1zM627 307h1v1h-1zM628 308h1v1h-1zM629 308h1v1h-1zM630 308h1v1h-1zM631 308h1v1h-1zM632 309h1v1h-1zM633 309h1v1h-1zM634 310h1v1h-1zM635 310h1v1h-1zM636 311h1v1h-1zM637 312h1v1h-1zM638 312h1v1h-1zM639 312h1v1h-1zM640 312h1v1h-1zM641 312h1v1h-1zM642 312h1v1h-1zM643 313h1v1h-1zM644 313h1v1h-1zM645 314h1v1h-1zM646 315h1v1h-1zM647 315h1v1h-1zM648 316h1v1h-1zM649 317h1v1h-1zM650 317h1v1h-1zM651 317h1v1h-1zM652 318h1v1h-1zM653 318h1v1h-1zM654 318h1v1h-1zM655 318h1v1h-1zM656 317h1v1h-1zM657 317h1v1h-1zM658 317h1v1h-1zM659 316h1v1h-1zM660 316h1v1h-1zM661 315h1v1h-1zM662 315h1v1h-1zM663 314h1v1h-1zM664 314h1v1h-1zM665 313h1v1h-1zM666 312h1v1h-1zM667 311h1v1h-1zM668 310h1v1h-1zM669 309h1v1h-1zM670 308h1v1h-1zM671 306h1v2h-1zM672 305h1v1h-1zM673 304h1v1h-1zM674 303h1v1h-1zM675 301h1v2h-1zM676 300h1v1h-1zM677 299h1v1h-1zM678 298h1v1h-1zM679 298h1v1h-1zM680 297h1v1h-1zM681 296h1v1h-1zM682 295h1v1h-1zM683 293h1v2h-1zM684 292h1v1h-1zM685 291h1v1h-1zM686 289h1v2h-1zM687 288h1v1h-1zM688 286h1v2h-1zM689 285h1v1h-1zM690 283h1v2h-1zM691 282h1v1h-1zM692 280h1v2h-1zM693 279h1v1h-1zM694 277h1v2h-1zM695 276h1v1h-1zM696 274h1v2h-1zM697 273h1v1h-1zM698 272h1v1h-1zM699 270h1v2h-1zM700 269h1v1h-1zM701 268h1v1h-1zM702 267h1v1h-1zM703 265h1v2h-1zM704 264h1v1h-1zM705 263h1v1h-1zM706 263h1v1h-1zM707 262h1v1h-1zM708 262h1v1h-1zM709 261h1v1h-1zM710 261h1v1h-1zM711 261h1v1h-1zM712 262h1v1h-1zM713 262h1v1h-1zM714 263h1v1h-1zM715 263h1v1h-1zM716 264h1v1h-1zM717 265h1v1h-1zM718 266h1v1h-1zM719 266h1v1h-1zM720 267h1v1h-1zM721 268h1v1h-1zM722 269h1v1h-1zM723 269h1v1h-1zM724 270h1v1h-1zM725 271h1v1h-1zM726 272h1v1h-1zM727 273h1v2h-1zM728 275h1v1h-1zM729 276h1v1h-1zM730 277h1v1h-1zM731 278h1v2h-1zM732 280h1v1h-1zM733 281h1v1h-1zM734 282h1v1h-1zM735 283h1v1h-1zM736 284h1v1h-1zM737 285h1v1h-1zM738 286h1v1h-1zM739 287h1v2h-1zM740 289h1v1h-1zM741 290h1v1h-1zM742 291h1v2h-1zM743 293h1v1h-1zM744 294h1v2h-1zM745 296h1v1h-1zM746 297h1v2h-1zM747 299h1v2h-1zM748 301h1v2h-1zM749 303h1v1h-1zM750 304h1v2h-1zM751 306h1v2h-1zM752 308h1v2h-1zM753 310h1v1h-1zM754 311h1v1h-1zM755 312h1v1h-1zM756 313h1v1h-1zM757 314h1v1h-1zM758 315h1v1h-1zM759 316h1v1h-1zM760 317h1v1h-1zM761 318h1v1h-1zM762 318h1v1h-1zM763 318h1v1h-1zM764 318h1v1h-1zM765 318h1v1h-1zM766 318h1v1h-1zM767 318h1v1h-1zM768 319h1v1h-1zM769 319h1v1h-1zM770 319h1v1h-1zM771 320h1v1h-1zM772 320h1v1h-1zM773 321h1v1h-1zM774 321h1v1h-1zM775 322h1v1h-1zM776 322h1v1h-1zM777 323h1v1h-1zM778 323h1v1h-1zM779 323h1v1h-1zM780 323h1v1h-1zM781 323h1v1h-1zM782 323h1v1h-1zM783 322h1v1h-1zM784 322h1v1h-1zM785 321h1v1h-1zM786 321h1v1h-1zM787 320h1v1h-1zM788 320h1v1h-1zM789 319h1v1h-1zM790 319h1v1h-1zM791 319h1v1h-1zM792 319h1v1h-1zM793 319h1v1h-1zM794 319h1v1h-1zM795 319h1v1h-1zM796 319h1v1h-1zM797 319h1v1h-1zM798 319h1v1h-1zM799 319h1v1h-1zM800 319h1v1h-1zM801 319h1v1h-1zM802 317h1v2h-1zM803 316h1v1h-1zM804 314h1v2h-1zM805 313h1v1h-1zM806 311h1v2h-1zM807 310h1v1h-1zM808 308h1v2h-1zM809 307h1v1h-1zM810 306h1v1h-1zM811 305h1v1h-1zM812 304h1v1h-1zM813 303h1v1h-1zM814 302h1v1h-1zM815 301h1v1h-1zM816 300h1v1h-1zM817 299h1v1h-1zM818 298h1v1h-1zM819 297h1v1h-1zM820 296h1v1h-1zM821 295h1v1h-1zM822 294h1v1h-1zM823 293h1v1h-1zM824 292h1v1h-1zM825 291h1v1h-1zM826 290h1v1h-1zM827 289h1v1h-1zM828 288h1v1h-1zM829 287h1v1h-1zM830 286h1v1h-1zM831 285h1v1h-1zM832 284h1v1h-1zM833 283h1v1h-1zM834 283h1v1h-1zM835 282h1v1h-1zM836 282h1v1h-1zM837 281h1v1h-1zM838 281h1v1h-1zM839 280h1v1h-1zM840 280h1v1h-1zM841 279h1v1h-1zM842 278h1v1h-1zM843 278h1v1h-1zM844 277h1v1h-1zM845 276h1v1h-1zM846 275h1v1h-1zM847 274h1v1h-1zM848 273h1v1h-1zM849 272h1v1h-1zM850 271h1v1h-1zM851 269h1v2h-1zM852 268h1v1h-1zM853 267h1v1h-1zM854 265h1v2h-1zM855 263h1v2h-1zM856 261h1v2h-1zM857 260h1v1h-1zM858 259h1v1h-1zM859 258h1v1h-1zM860 257h1v1h-1zM861 256h1v1h-1zM862 256h1v1h-1zM863 255h1v1h-1zM864 255h1v1h-1zM865 254h1v1h-1zM866 254h1v1h-1zM867 253h1v1h-1zM868 253h1v1h-1zM869 252h1v1h-1zM870 252h1v1h-1zM871 252h1v1h-1zM872 251h1v1h-1zM873 251h1v1h-1zM874 251h1v1h-1zM875 251h1v1h-1zM876 250h1v1h-1zM877 250h1v1h-1zM878 250h1v1h-1zM879 250h1v1h-1zM880 250h1v1h-1zM881 250h1v1h-1zM882 250h1v1h-1zM883 250h1v1h-1zM884 249h1v1h-1zM885 249h1v1h-1zM886 249h1v1h-1zM887 249h1v1h-1zM888 248h1v1h-1zM889 248h1v1h-1zM890 248h1v1h-1zM891 248h1v1h-1zM892 247h1v1h-1zM893 247h1v1h-1zM894 247h1v1h-1zM895 247h1v1h-1zM896 247h1v1h-1zM897 247h1v1h-1zM898 248h1v1h-1zM899 249h1v1h-1zM900 250h1v1h-1zM901 251h1v1h-1zM902 251h1v1h-1zM903 252h1v1h-1zM904 252h1v1h-1zM905 253h1v1h-1zM906 254h1v1h-1zM907 254h1v1h-1zM908 255h1v1h-1zM909 256h1v1h-1zM910 257h1v1h-1zM911 258h1v1h-1zM912 259h1v1h-1zM913 260h1v1h-1zM914 261h1v1h-1zM915 262h1v1h-1zM916 263h1v1h-1zM917 264h1v1h-1zM918 265h1v1h-1zM919 266h1v1h-1zM920 267h1v1h-1zM921 268h1v1h-1zM922 269h1v1h-1zM923 270h1v1h-1zM924 271h1v1h-1zM925 272h1v1h-1zM926 273h1v1h-1zM927 274h1v2h-1zM928 276h1v1h-1zM929 277h1v1h-1zM930 278h1v1h-1zM931 279h1v1h-1zM932 280h1v1h-1zM933 281h1v1h-1zM934 282h1v1h-1zM935 283h1v1h-1zM936 284h1v1h-1zM937 285h1v1h-1zM938 285h1v1h-1zM939 286h1v1h-1zM940 286h1v1h-1zM941 287h1v1h-1zM942 288h1v1h-1zM943 288h1v1h-1zM944 289h1v1h-1zM945 290h1v1h-1zM946 291h1v1h-1zM947 292h1v1h-1zM948 293h1v1h-1zM949 294h1v1h-1zM950 294h1v1h-1zM951 295h1v1h-1zM952 295h1v1h-1zM953 296h1v1h-1zM954 296h1v1h-1zM955 296h1v1h-1zM956 297h1v1h-1zM957 297h1v1h-1zM958 297h1v1h-1zM959 297h1v1h-1zM960 297h1v1h-1zM961 297h1v1h-1zM962 297h1v1h-1zM963 297h1v1h-1zM964 296h1v1h-1zM965 296h1v1h-1zM966 296h1v1h-1zM967 296h1v1h-1zM968 295h1v1h-1zM969 295h1v1h-1zM970 295h1v1h-1zM971 295h1v1h-1zM972 295h1v1h-1zM973 295h1v1h-1zM974 295h1v1h-1zM975 295h1v1h-1zM976 294h1v1h-1zM977 294h1v1h-1zM978 294h1v1h-1zM979 293h1v1h-1zM980 293h1v1h-1zM981 292h1v1h-1zM982 292h1v1h-1zM983 291h1v1h-1zM984 291h1v1h-1zM985 290h1v1h-1zM986 290h1v1h-1zM987 290h1v1h-1zM988 289h1v1h-1zM989 289h1v1h-1zM990 288h1v1h-1zM991 287h1v1h-1zM992 286h1v1h-1zM993 285h1v1h-1zM994 284h1v1h-1zM995 283h1v1h-1zM996 282h1v1h-1zM997 281h1v1h-1zM998 280h1v1h-1zM999 279h1v1h-1zM1000 278h1v1h-1zM1001 277h1v1h-1zM1002 276h1v1h-1zM1003 274h1v2h-1zM1004 273h1v1h-1zM1005 272h1v1h-1zM1006 271h1v1h-1zM1007 269h1v2h-1zM1008 268h1v1h-1zM1009 267h1v1h-1zM1010 266h1v1h-1zM1011 265h1v1h-1zM1012 264h1v1h-1zM1013 263h1v1h-1zM1014 263h1v1h-1zM1015 262h1v1h-1zM1016 262h1v1h-1zM1017 261h1v1h-1zM1018 261h1v1h-1zM1019 260h1v1h-1zM1020 260h1v1h-1zM1021 259h1v1h-1zM1022 259h1v1h-1zM1023 258h1v1h-1zM1024 258h1v1h-1zM1025 257h1v1h-1zM1026 256h1v1h-1zM1027 256h1v1h-1zM1028 255h1v1h-1zM1029 254h1v1h-1zM1030 253h1v1h-1zM1031 253h1v1h-1zM1032 252h1v1h-1zM1033 251h1v1h-1zM1034 250h1v1h-1zM1035 249h1v1h-1zM1036 248h1v1h-1zM1037 247h1v1h-1zM1038 246h1v1h-1zM1039 245h1v1h-1zM1040 244h1v1h-1zM1041 243h1v1h-1zM1042 242h1v1h-1zM1043 240h1v2h-1zM1044 239h1v1h-1zM1045 238h1v1h-1zM1046 236h1v2h-1zM1047 235h1v1h-1zM1048 233h1v2h-1zM1049 232h1v1h-1zM1050 231h1v1h-1zM1051 231h1v1h-1zM1052 230h1v1h-1zM1053 229h1v1h-1zM1054 228h1v1h-1zM1055 226h1v2h-1zM1056 225h1v1h-1zM1057 224h1v1h-1zM1058 222h1v2h-1zM1059 220h1v2h-1zM1060 218h1v2h-1zM1061 217h1v1h-1zM1062 216h1v1h-1zM1063 214h1v2h-1zM1064 213h1v1h-1zM1065 212h1v1h-1zM1066 210h1v2h-1zM1067 209h1v1h-1zM1068 207h1v2h-1zM1069 206h1v1h-1zM1070 205h1v1h-1zM1071 204h1v1h-1zM1072 203h1v1h-1zM1073 202h1v1h-1zM1074 201h1v1h-1zM1075 201h1v1h-1zM1076 200h1v1h-1zM1077 199h1v1h-1zM1078 199h1v1h-1zM1079 198h1v1h-1zM1080 198h1v1h-1zM1081 197h1v1h-1zM1082 197h1v1h-1zM1083 198h1v1h-1zM1084 198h1v1h-1zM1085 199h1v1h-1zM1086 199h1v1h-1zM1087 200h1v1h-1zM1088 200h1v1h-1zM1089 201h1v1h-1zM1090 202h1v1h-1zM1091 202h1v1h-1zM1092 203h1v1h-1zM1093 204h1v1h-1zM1094 204h1v1h-1zM1095 204h1v1h-1zM1096 205h1v1h-1zM1097 205h1v1h-1zM1098 205h1v1h-1zM1099 205h1v1h-1zM1100 206h1v1h-1zM1101 206h1v1h-1zM1102 207h1v1h-1zM1103 208h1v1h-1zM1104 209h1v1h-1zM1105 210h1v1h-1zM1106 211h1v1h-1zM1107 211h1v1h-1zM1108 212h1v1h-1zM1109 213h1v1h-1zM1110 214h1v1h-1zM1111 214h1v1h-1zM1112 215h1v1h-1zM1113 216h1v1h-1zM1114 217h1v2h-1zM1115 219h1v1h-1zM1116 220h1v2h-1zM1117 222h1v1h-1zM1118 223h1v2h-1zM1119 225h1v1h-1zM1120 226h1v2h-1zM1121 228h1v1h-1zM1122 229h1v1h-1zM1123 230h1v2h-1zM1124 232h1v1h-1zM1125 233h1v1h-1zM1126 234h1v1h-1zM1127 235h1v1h-1zM1128 236h1v1h-1zM1129 237h1v1h-1zM1130 238h1v1h-1zM1131 239h1v1h-1zM1132 240h1v1h-1zM1133 241h1v1h-1zM1134 242h1v1h-1zM1135 243h1v1h-1zM1136 244h1v1h-1zM1137 245h1v1h-1zM1138 245h1v1h-1zM1139 245h1v1h-1zM1140 246h1v1h-1zM1141 246h1v1h-1zM1142 246h1v1h-1zM1143 246h1v1h-1zM1144 247h1v1h-1zM1145 247h1v1h-1zM1146 247h1v1h-1zM1147 247h1v1h-1zM1148 248h1v1h-1zM1149 248h1v1h-1zM1150 249h1v2h-1zM1151 251h1v1h-1zM1152 252h1v2h-1zM1153 254h1v1h-1zM1154 255h1v2h-1zM1155 257h1v2h-1zM1156 259h1v2h-1zM1157 261h1v1h-1zM1158 262h1v2h-1zM1159 264h1v2h-1zM1160 266h1v2h-1zM1161 268h1v2h-1zM1162 270h1v2h-1zM1163 272h1v2h-1zM1164 274h1v2h-1zM1165 276h1v2h-1zM1166 278h1v2h-1zM1167 280h1v2h-1zM1168 282h1v2h-1zM1169 284h1v3h-1zM1170 287h1v2h-1zM1171 289h1v2h-1zM1172 291h1v2h-1zM1173 293h1v2h-1zM1174 295h1v2h-1zM1175 297h1v2h-1zM1176 299h1v2h-1zM1177 301h1v1h-1zM1178 302h1v2h-1zM1179 304h1v1h-1zM1180 305h1v2h-1zM1181 307h1v1h-1zM1182 308h1v1h-1zM1183 309h1v2h-1zM1184 311h1v1h-1zM1185 312h1v1h-1zM1186 313h1v1h-1zM1187 314h1v2h-1zM1188 316h1v1h-1zM1189 317h1v1h-1zM1190 318h1v2h-1zM1191 320h1v1h-1zM1192 321h1v2h-1zM1193 323h1v1h-1zM1194 324h1v2h-1zM1195 326h1v2h-1zM1196 328h1v2h-1zM1197 330h1v1h-1zM1198 331h1v2h-1zM1199 333h1v2h-1zM1200 335h1v2h-1zM1201 337h1v1h-1zM1202 338h1v1h-1zM1203 339h1v1h-1zM1204 340h1v1h-1zM1205 341h1v1h-1zM1206 341h1v1h-1zM1207 341h1v1h-1zM1208 341h1v1h-1zM1209 341h1v1h-1zM1210 341h1v1h-1zM1211 341h1v1h-1zM1212 342h1v1h-1zM1213 342h1v1h-1zM1214 342h1v1h-1zM1215 342h1v1h-1zM1216 343h1v1h-1zM1217 343h1v1h-1zM1218 343h1v1h-1zM1219 343h1v1h-1zM1220 343h1v1h-1zM1221 343h1v1h-1zM1222 343h1v1h-1zM1223 343h1v1h-1zM1224 342h1v1h-1zM1225 342h1v1h-1zM1226 342h1v1h-1zM1227 342h1v1h-1zM1228 342h1v1h-1zM1229 342h1v1h-1zM1230 342h1v1h-1zM1231 342h1v1h-1zM1232 343h1v1h-1zM1233 343h1v1h-1zM1234 344h1v1h-1zM1235 345h1v1h-1zM1236 346h1v1h-1zM1237 347h1v1h-1zM1238 348h1v1h-1zM1239 349h1v2h-1zM1240 351h1v1h-1zM1241 352h1v1h-1zM1242 353h1v1h-1zM1243 354h1v1h-1zM1244 355h1v1h-1zM1245 356h1v1h-1zM1246 357h1v1h-1zM1247 357h1v1h-1zM1248 358h1v1h-1zM1249 359h1v1h-1zM1250 360h1v1h-1zM1251 360h1v1h-1zM1252 361h1v1h-1zM1253 362h1v1h-1zM1254 363h1v1h-1zM1255 364h1v2h-1zM1256 366h1v1h-1zM1257 367h1v1h-1zM1258 368h1v2h-1zM1259 370h1v1h-1zM1260 371h1v2h-1zM1261 373h1v2h-1zM1262 375h1v3h-1zM1263 378h1v3h-1zM1264 381h1v3h-1zM1265 384h1v3h-1zM1266 387h1v2h-1zM1267 389h1v2h-1zM1268 391h1v2h-1zM1269 393h1v3h-1zM1270 396h1v2h-1zM1271 398h1v2h-1zM1272 400h1v2h-1zM1273 402h1v1h-1zM1274 403h1v1h-1zM1275 404h1v1h-1zM1276 405h1v1h-1zM1277 406h1v1h-1zM1278 407h1v1h-1zM1279 408h1v1h-1zM1280 409h1v1h-1zM1281 410h1v1h-1zM1282 411h1v1h-1zM1283 412h1v1h-1zM1284 413h1v1h-1zM1285 414h1v1h-1zM1286 414h1v1h-1zM1287 415h1v1h-1zM1288 415h1v1h-1zM1289 416h1v1h-1zM1290 416h1v1h-1zM1291 416h1v1h-1zM1292 415h1v1h-1zM1293 415h1v1h-1zM1294 415h1v1h-1zM1295 415h1v1h-1zM1296 414h1v1h-1zM1297 414h1v1h-1zM1298 415h1v2h-1zM1299 417h1v2h-1zM1300 419h1v2h-1zM1301 421h1v1h-1zM1302 422h1v1h-1zM1303 423h1v1h-1zM1304 424h1v1h-1zM1305 425h1v1h-1z"/>
<path clip-path="url(#cm)" shape-rendering="crispEdges" fill="#ffa500" d="M5 92h1v1h-1zM6 91h1v1h-1zM7 91h1v1h-1zM8 90h1v1h-1zM9 89h1v1h-1zM10 89h1v1h-1zM11 89h1v1h-1zM12 88h1v1h-1zM13 88h1v1h-1zM14 89h1v2h-1zM15 91h1v2h-1zM16 93h1v2h-1zM17 95h1v2h-1zM18 97h1v2h-1zM19 99h1v2h-1zM20 101h1v2h-1zM21 103h1v3h-1zM22 106h1v2h-1zM23 108h1v3h-1zM24 111h1v2h-1zM25 113h1v3h-1zM26 116h1v2h-1zM27 118h1v3h-1zM28 121h1v2h-1zM29 123h1v3h-1zM30 126h1v2h-1zM31 128h1v3h-1zM32 131h1v2h-1zM33 133h1v3h-1zM34 136h1v2h-1zM35 138h1v2h-1zM36 140h1v2h-1zM37 142h1v1h-1zM38 143h1v1h-1zM39 143h1v1h-1zM40 144h1v1h-1zM41 145h1v1h-1zM42 146h1v1h-1zM43 147h1v2h-1zM44 149h1v1h-1zM45 150h1v1h-1zM46 150h1v1h-1zM47 150h1v1h-1zM48 151h1v1h-1zM49 151h1v1h-1zM50 149h1v2h-1zM51 147h1v2h-1zM52 145h1v2h-1zM53 144h1v1h-1zM54 142h1v2h-1zM55 141h1v1h-1zM56 139h1v2h-1zM57 138h1v1h-1zM58 137h1v1h-1zM59 137h1v1h-1zM60 136h1v1h-1zM61 135h1v1h-1zM62 134h1v1h-1zM63 133h1v1h-1zM64 132h1v1h-1zM65 131h1v1h-1zM66 130h1v1h-1zM67 129h1v1h-1zM68 128h1v1h-1zM69 127h1v1h-1zM70 127h1v1h-1zM71 126h1v1h-1zM72 126h1v1h-1zM73 125h1v1h-1zM74 125h1v1h-1zM75 124h1v1h-1zM76 124h1v1h-1zM77 123h1v1h-1zM78 122h1v1h-1zM79 122h1v1h-1zM80 121h1v1h-1zM81 120h1v1h-1zM82 120h1v1h-1zM83 119h1v1h-1zM84 119h1v1h-1zM85 118h1v1h-1zM86 118h1v1h-1zM87 118h1v1h-1zM88 117h1v1h-1zM89 117h1v1h-1zM90 117h1v1h-1zM91 118h1v1h-1zM92 118h1v1h-1zM93 119h1v1h-1zM94 119h1v1h-1zM95 119h1v1h-1zM96 118h1v1h-1zM97 118h1v1h-1zM98 116h1v2h-1zM99 115h1v1h-1zM100 113h1v2h-1zM101 112h1v1h-1zM102 113h1v1h-1zM103 114h1v2h-1zM104 116h1v1h-1zM105 117h1v1h-1zM106 117h1v1h-1zM107 117h1v1h-1zM108 118h1v1h-1zM109 118h1v1h-1zM110 118h1v1h-1zM111 117h1v1h-1zM112 117h1v1h-1zM113 116h1v1h-1zM114 116h1v1h-1zM115 117h1v1h-1zM116 117h1v1h-1zM117 118h1v1h-1zM118 118h1v1h-1zM119 119h1v1h-1zM120 119h1v1h-1zM121 120h1v1h-1zM122 120h1v1h-1zM123 121h1v1h-1zM124 121h1v1h-1zM125 122h1v1h-1zM126 120h1v2h-1zM127 119h1v1h-1zM128 117h1v2h-1zM129 116h1v1h-1zM130 116h1v1h-1zM131 116h1v1h-1zM132 115h1v1h-1zM133 115h1v1h-1zM134 115h1v1h-1zM135 115h1v1h-1zM136 115h1v1h-1zM137 115h1v1h-1zM138 115h1v1h-1zM139 116h1v1h-1zM140 116h1v1h-1zM141 116h1v2h-1zM142 114h1v2h-1zM143 112h1v2h-1zM144 110h1v2h-1zM145 109h1v1h-1zM146 109h1v1h-1zM147 109h1v1h-1zM148 109h1v1h-1zM149 109h1v1h-1zM150 107h1v2h-1zM151 106h1v1h-1zM152 104h1v2h-1zM153 103h1v1h-1zM154 102h1v1h-1zM155 102h1v1h-1zM156 101h1v1h-1zM157 99h1v2h-1zM158 97h1v2h-1zM159 95h1v2h-1zM160 93h1v2h-1zM161 91h1v2h-1zM162 89h1v2h-1zM163 88h1v1h-1zM164 86h1v2h-1zM165 85h1v1h-1zM166 83h1v2h-1zM167 82h1v1h-1zM168 80h1v2h-1zM169 79h1v1h-1zM170 79h1v1h-1zM171 79h1v1h-1zM172 78h1v1h-1zM173 78h1v1h-1zM174 77h1v1h-1zM175 75h1v2h-1zM176 74h1v1h-1zM177 73h1v1h-1zM178 74h1v1h-1zM179 74h1v1h-1zM180 75h1v1h-1zM181 76h1v1h-1zM182 77h1v1h-1zM183 78h1v1h-1zM184 79h1v1h-1zM185 80h1v1h-1zM186 81h1v1h-1zM187 81h1v1h-1zM188 82h1v1h-1zM189 83h1v1h-1zM190 84h1v1h-1zM191 85h1v2h-1zM192 87h1v1h-1zM193 88h1v2h-1zM194 90h1v2h-1zM195 92h1v2h-1zM196 94h1v2h-1zM197 96h1v2h-1zM198 98h1v4h-1zM199 102h1v4h-1zM200 106h1v4h-1zM201 110h1v4h-1zM202 114h1v4h-1zM203 118h1v4h-1zM204 122h1v4h-1zM205 126h1v3h-1zM206 129h1v3h-1zM207 132h1v3h-1zM208 135h1v3h-1zM209 138h1v3h-1zM210 141h1v3h-1zM211 144h1v2h-1zM212 146h1v3h-1zM213 149h1v2h-1zM214 151h1v1h-1zM215 152h1v2h-1zM216 154h1v1h-1zM217 155h1v1h-1zM218 155h1v1h-1zM219 154h1v1h-1zM220 154h1v1h-1zM221 153h1v1h-1zM222 152h1v1h-1zM223 152h1v1h-1zM224 151h1v1h-1zM225 150h1v1h-1zM226 151h1v1h-1zM227 152h1v1h-1zM228 153h1v1h-1zM229 154h1v1h-1zM230 155h1v1h-1zM231 155h1v1h-1zM232 156h1v1h-1zM233 157h1v1h-1zM234 158h1v1h-1zM235 159h1v1h-1zM236 160h1v1h-1zM237 161h1v1h-1zM238 162h1v1h-1zM239 163h1v2h-1zM240 165h1v1h-1zM241 166h1v1h-1zM242 167h1v1h-1zM243 168h1v1h-1zM244 169h1v1h-1zM245 170h1v1h-1zM246 170h1v1h-1zM247 170h1v1h-1zM248 170h1v1h-1zM249 170h1v1h-1zM250 171h1v1h-1zM251 172h1v2h-1zM252 174h1v1h-1zM253 175h1v1h-1zM254 176h1v1h-1zM255 176h1v1h-1zM256 177h1v1h-1zM257 178h1v1h-1zM258 178h1v1h-1zM259 178h1v1h-1zM260 177h1v1h-1zM261 177h1v1h-1zM262 178h1v2h-1zM263 180h1v2h-1zM264 182h1v2h-1zM265 184h1v1h-1zM266 185h1v2h-1zM267 187h1v2h-1zM268 189h1v2h-1zM269 191h1v1h-1zM270 192h1v1h-1zM271 193h1v2h-1zM272 195h1v1h-1zM273 196h1v2h-1zM274 198h1v3h-1zM275 201h1v2h-1zM276 203h1v3h-1zM277 206h1v3h-1zM278 209h1v4h-1zM279 213h1v4h-1zM280 217h1v4h-1zM281 221h1v3h-1zM282 224h1v2h-1zM283 226h1v3h-1zM284 229h1v2h-1zM285 231h1v2h-1zM286 233h1v1h-1zM287 233h1v1h-1zM288 234h1v1h-1zM289 235h1v1h-1zM290 236h1v2h-1zM291 238h1v1h-1zM292 239h1v2h-1zM293 241h1v1h-1zM294 241h1v1h-1zM295 242h1v1h-1zM296 242h1v1h-1zM297 243h1v1h-1zM298 243h1v1h-1zM299 242h1v1h-1zM300 242h1v1h-1zM301 241h1v1h-1zM302 239h1v2h-1zM303 238h1v1h-1zM304 236h1v2h-1zM305 235h1v1h-1zM306 235h1v1h-1zM307 234h1v1h-1zM308 234h1v1h-1zM309 233h1v1h-1zM310 232h1v1h-1zM311 230h1v2h-1zM312 229h1v1h-1zM313 228h1v1h-1zM314 226h1v2h-1zM315 225h1v1h-1zM316 223h1v2h-1zM317 222h1v1h-1zM318 222h1v1h-1zM319 222h1v1h-1zM320 221h1v1h-1zM321 221h1v1h-1zM322 221h1v1h-1zM323 221h1v1h-1zM324 221h1v1h-1zM325 221h1v1h-1zM326 221h1v1h-1zM327 221h1v1h-1zM328 221h1v1h-1zM329 221h1v1h-1zM330 221h1v1h-1zM331 220h1v1h-1zM332 220h1v1h-1zM333 219h1v1h-1zM334 218h1v1h-1zM335 218h1v1h-1zM336 217h1v1h-1zM337 215h1v2h-1zM338 213h1v2h-1zM339 211h1v2h-1zM340 209h1v2h-1zM341 207h1v2h-1zM342 205h1v2h-1zM343 203h1v2h-1zM344 201h1v2h-1zM345 200h1v1h-1zM346 198h1v2h-1zM347 196h1v2h-1zM348 194h1v2h-1zM349 193h1v1h-1zM350 191h1v2h-1zM351 189h1v2h-1zM352 187h1v2h-1zM353 186h1v1h-1zM354 184h1v2h-1zM355 183h1v1h-1zM356 181h1v2h-1zM357 180h1v1h-1zM358 180h1v1h-1zM359 181h1v1h-1zM360 181h1v1h-1zM361 182h1v1h-1zM362 183h1v1h-1zM363 183h1v1h-1zM364 184h1v1h-1zM365 185h1v1h-1zM366 186h1v1h-1zM367 187h1v2h-1zM368 189h1v1h-1zM369 190h1v2h-1zM370 192h1v3h-1zM371 195h1v2h-1zM372 197h1v3h-1zM373 200h1v3h-1zM374 203h1v4h-1zM375 207h1v4h-1zM376 211h1v4h-1zM377 215h1v3h-1zM378 218h1v3h-1zM379 221h1v3h-1zM380 224h1v3h-1zM381 227h1v3h-1zM382 230h1v3h-1zM383 233h1v2h-1zM384 235h1v3h-1zM385 238h1v3h-1zM386 241h1v2h-1zM387 243h1v2h-1zM388 245h1v2h-1zM389 247h1v2h-1zM390 249h1v1h-1zM391 250h1v1h-1zM392 251h1v1h-1zM393 252h1v1h-1zM394 251h1v1h-1zM395 249h1v2h-1zM396 248h1v1h-1zM397 247h1v1h-1zM398 245h1v2h-1zM399 243h1v2h-1zM400 241h1v2h-1zM401 239h1v2h-1zM402 237h1v2h-1zM403 235h1v2h-1zM404 233h1v2h-1zM405 231h1v2h-1zM406 229h1v2h-1zM407 226h1v3h-1zM408 224h1v2h-1zM409 221h1v3h-1zM410 218h1v3h-1zM411 214h1v4h-1zM412 211h1v3h-1zM413 208h1v3h-1zM414 206h1v2h-1zM415 204h1v2h-1zM416 202h1v2h-1zM417 199h1v3h-1zM418 197h1v2h-1zM419 195h1v2h-1zM420 193h1v2h-1zM421 191h1v2h-1zM422 189h1v2h-1zM423 186h1v3h-1zM424 184h1v2h-1zM425 182h1v2h-1zM426 180h1v2h-1zM427 178h1v2h-1zM428 176h1v2h-1zM429 175h1v1h-1zM430 175h1v1h-1zM431 176h1v1h-1zM432 176h1v1h-1zM433 177h1v1h-1zM434 177h1v1h-1zM435 177h1v1h-1zM436 176h1v1h-1zM437 176h1v1h-1zM438 175h1v1h-1zM439 174h1v1h-1zM440 173h1v1h-1zM441 172h1v1h-1zM442 172h1v1h-1zM443 172h1v1h-1zM444 171h1v1h-1zM445 171h1v1h-1zM446 172h1v2h-1zM447 174h1v2h-1zM448 176h1v2h-1zM449 178h1v1h-1zM450 177h1v1h-1zM451 177h1v1h-1zM452 176h1v1h-1zM453 175h1v1h-1zM454 176h1v1h-1zM455 176h1v1h-1zM456 177h1v1h-1zM457 178h1v2h-1zM458 180h1v3h-1zM459 183h1v4h-1zM460 187h1v3h-1zM461 190h1v2h-1zM462 192h1v2h-1zM463 194h1v2h-1zM464 196h1v2h-1zM465 198h1v1h-1zM466 198h1v1h-1zM467 197h1v1h-1zM468 197h1v1h-1zM469 196h1v1h-1zM470 195h1v1h-1zM471 195h1v1h-1zM472 194h1v1h-1zM473 193h1v1h-1zM474 191h1v2h-1zM475 189h1v2h-1zM476 187h1v2h-1zM477 185h1v2h-1zM478 182h1v3h-1zM479 178h1v4h-1zM480 175h1v3h-1zM481 173h1v2h-1zM482 171h1v2h-1zM483 169h1v2h-1zM484 167h1v2h-1zM485 166h1v1h-1zM486 165h1v1h-1zM487 163h1v2h-1zM488 162h1v1h-1zM489 161h1v1h-1zM490 160h1v1h-1zM491 159h1v1h-1zM492 158h1v1h-1zM493 157h1v1h-1zM494 157h1v1h-1zM495 156h1v1h-1zM496 156h1v1h-1zM497 155h1v1h-1zM498 155h1v1h-1zM499 155h1v1h-1zM500 154h1v1h-1zM501 154h1v1h-1zM502 154h1v1h-1zM503 153h1v1h-1zM504 153h1v1h-1zM505 152h1v1h-1zM506 153h1v1h-1zM507 153h1v1h-1zM508 154h1v1h-1zM509 155h1v2h-1zM510 157h1v2h-1zM511 159h1v2h-1zM512 161h1v2h-1zM513 163h1v2h-1zM514 165h1v2h-1zM515 167h1v3h-1zM516 170h1v2h-1zM517 172h1v4h-1zM518 176h1v4h-1zM519 180h1v4h-1zM520 184h1v4h-1zM521 188h1v4h-1zM522 192h1v4h-1zM523 196h1v4h-1zM524 200h1v4h-1zM525 204h1v3h-1zM526 207h1v2h-1zM527 209h1v3h-1zM528 212h1v2h-1zM529 214h1v3h-1zM530 217h1v3h-1zM531 220h1v4h-1zM532 224h1v3h-1zM533 227h1v3h-1zM534 230h1v2h-1zM535 232h1v2h-1zM536 234h1v2h-1zM537 236h1v1h-1zM538 237h1v1h-1zM539 238h1v2h-1zM540 240h1v1h-1zM541 241h1v2h-1zM542 243h1v3h-1zM543 246h1v3h-1zM544 249h1v3h-1zM545 252h1v3h-1zM546 255h1v3h-1zM547 258h1v4h-1zM548 262h1v3h-1zM549 265h1v3h-1zM550 268h1v3h-1zM551 271h1v2h-1zM552 273h1v3h-1zM553 276h1v3h-1zM554 279h1v4h-1zM555 283h1v3h-1zM556 286h1v4h-1zM557 290h1v3h-1zM558 293h1v3h-1zM559 296h1v3h-1zM560 299h1v3h-1zM561 302h1v2h-1zM562 303h1v1h-1zM563 303h1v1h-1zM564 302h1v1h-1zM565 302h1v1h-1zM566 302h1v1h-1zM567 302h1v1h-1zM568 303h1v1h-1zM569 303h1v1h-1zM570 303h1v1h-1zM571 302h1v1h-1zM572 302h1v1h-1zM573 301h1v1h-1zM574 301h1v1h-1zM575 301h1v1h-1zM576 302h1v1h-1zM577 302h1v1h-1zM578 301h1v1h-1zM579 299h1v2h-1zM580 298h1v1h-1zM581 297h1v2h-1zM582 299h1v2h-1zM583 301h1v2h-1zM584 303h1v2h-1zM585 305h1v2h-1zM586 306h1v1h-1zM587 306h1v1h-1zM588 307h1v1h-1zM589 307h1v1h-1zM590 307h1v1h-1zM591 307h1v1h-1zM592 308h1v1h-1zM593 308h1v1h-1zM594 307h1v1h-1zM595 306h1v1h-1zM596 305h1v1h-1zM597 304h1v1h-1zM598 305h1v1h-1zM599 306h1v1h-1zM600 307h1v1h-1zM601 308h1v1h-1zM602 307h1v1h-1zM603 305h1v2h-1zM604 304h1v1h-1zM605 303h1v1h-1zM606 303h1v1h-1zM607 303h1v1h-1zM608 302h1v1h-1zM609 302h1v1h-1zM610 302h1v1h-1zM611 303h1v1h-1zM612 303h1v1h-1zM613 304h1v1h-1zM614 305h1v1h-1zM615 306h1v1h-1zM616 307h1v1h-1zM617 308h1v1h-1zM618 308h1v1h-1zM619 309h1v1h-1zM620 309h1v1h-1zM621 310h1v1h-1zM622 310h1v1h-1zM623 310h1v1h-1zM624 310h1v1h-1zM625 310h1v1h-1zM626 311h1v1h-1zM627 312h1v1h-1zM628 313h1v1h-1zM629 314h1v1h-1zM630 314h1v1h-1zM631 315h1v1h-1zM632 315h1v1h-1zM633 316h1v1h-1zM634 316h1v1h-1zM635 317h1v1h-1zM636 317h1v1h-1zM637 318h1v1h-1zM638 319h1v1h-1zM639 319h1v1h-1zM640 320h1v1h-1zM641 321h1v1h-1zM642 322h1v2h-1zM643 324h1v2h-1zM644 326h1v2h-1zM645 328h1v1h-1zM646 329h1v1h-1zM647 330h1v1h-1zM648 331h1v1h-1zM649 332h1v1h-1zM650 332h1v1h-1zM651 332h1v1h-1zM652 331h1v1h-1zM653 330h1v2h-1zM654 328h1v2h-1zM655 326h1v2h-1zM656 324h1v2h-1zM657 322h1v2h-1zM658 319h1v3h-1zM659 317h1v2h-1zM660 314h1v3h-1zM661 311h1v3h-1zM662 307h1v4h-1zM663 303h1v4h-1zM664 299h1v4h-1zM665 296h1v3h-1zM666 292h1v4h-1zM667 288h1v4h-1zM668 284h1v4h-1zM669 281h1v3h-1zM670 277h1v4h-1zM671 274h1v3h-1zM672 270h1v4h-1zM673 267h1v3h-1zM674 265h1v2h-1zM675 263h1v2h-1zM676 261h1v2h-1zM677 260h1v1h-1zM678 259h1v1h-1zM679 258h1v1h-1zM680 257h1v1h-1zM681 256h1v1h-1zM682 256h1v1h-1zM683 255h1v1h-1zM684 255h1v1h-1zM685 254h1v1h-1zM686 253h1v1h-1zM687 251h1v2h-1zM688 250h1v1h-1zM689 249h1v1h-1zM690 249h1v1h-1zM691 249h1v1h-1zM692 248h1v1h-1zM693 248h1v1h-1zM694 248h1v1h-1zM695 248h1v1h-1zM696 249h1v1h-1zM697 249h1v1h-1zM698 249h1v1h-1zM699 249h1v1h-1zM700 249h1v1h-1zM701 249h1v1h-1zM702 250h1v1h-1zM703 251h1v1h-1zM704 252h1v1h-1zM705 253h1v2h-1zM706 255h1v3h-1zM707 258h1v2h-1zM708 260h1v3h-1zM709 263h1v3h-1zM710 266h1v3h-1zM711 269h1v4h-1zM712 273h1v3h-1zM713 276h1v3h-1zM714 279h1v3h-1zM715 282h1v2h-1zM716 284h1v3h-1zM717 287h1v3h-1zM718 290h1v2h-1zM719 292h1v3h-1zM720 295h1v2h-1zM721 297h1v2h-1zM722 299h1v2h-1zM723 301h1v1h-1zM724 302h1v2h-1zM725 304h1v1h-1zM726 305h1v2h-1zM727 307h1v1h-1zM728 308h1v2h-1zM729 310h1v1h-1zM730 310h1v1h-1zM731 310h1v1h-1zM732 311h1v1h-1zM733 311h1v1h-1zM734 311h1v1h-1zM735 311h1v1h-1zM736 311h1v1h-1zM737 311h1v1h-1zM738 311h1v1h-1zM739 312h1v1h-1zM740 312h1v1h-1zM741 313h1v1h-1zM742 314h1v2h-1zM743 316h1v1h-1zM744 317h1v2h-1zM745 319h1v1h-1zM746 320h1v1h-1zM747 321h1v2h-1zM748 323h1v1h-1zM749 324h1v1h-1zM750 325h1v2h-1zM751 327h1v2h-1zM752 329h1v2h-1zM753 331h1v1h-1zM754 331h1v1h-1zM755 331h1v1h-1zM756 332h1v1h-1zM757 332h1v1h-1zM758 332h1v1h-1zM759 332h1v1h-1zM760 331h1v1h-1zM761 331h1v1h-1zM762 330h1v1h-1zM763 330h1v1h-1zM764 329h1v1h-1zM765 328h1v1h-1zM766 326h1v2h-1zM767 325h1v1h-1zM768 323h1v2h-1zM769 322h1v1h-1zM770 321h1v1h-1zM771 321h1v1h-1zM772 320h1v1h-1zM773 319h1v1h-1zM774 319h1v1h-1zM775 320h1v1h-1zM776 320h1v1h-1zM777 321h1v1h-1zM778 321h1v1h-1zM779 321h1v1h-1zM780 321h1v1h-1zM781 321h1v1h-1zM782 320h1v1h-1zM783 319h1v1h-1zM784 318h1v1h-1zM785 317h1v1h-1zM786 315h1v2h-1zM787 314h1v1h-1zM788 312h1v2h-1zM789 311h1v1h-1zM790 310h1v1h-1zM791 308h1v2h-1zM792 307h1v1h-1zM793 306h1v1h-1zM794 305h1v1h-1zM795 305h1v1h-1zM796 304h1v1h-1zM797 303h1v1h-1zM798 303h1v1h-1zM799 304h1v1h-1zM800 304h1v1h-1zM801 305h1v1h-1zM802 305h1v1h-1zM803 304h1v1h-1zM804 304h1v1h-1zM805 303h1v1h-1zM806 301h1v2h-1zM807 300h1v1h-1zM808 298h1v2h-1zM809 296h1v2h-1zM810 294h1v2h-1zM811 291h1v3h-1zM812 289h1v2h-1zM813 286h1v3h-1zM814 283h1v3h-1zM815 279h1v4h-1zM816 276h1v3h-1zM817 273h1v3h-1zM818 270h1v3h-1zM819 266h1v4h-1zM820 263h1v3h-1zM821 261h1v2h-1zM822 260h1v1h-1zM823 260h1v1h-1zM824 259h1v1h-1zM825 258h1v1h-1zM826 259h1v1h-1zM827 259h1v1h-1zM828 260h1v1h-1zM829 261h1v1h-1zM830 262h1v1h-1zM831 262h1v1h-1zM832 263h1v1h-1zM833 264h1v1h-1zM834 265h1v2h-1zM835 267h1v1h-1zM836 268h1v2h-1zM837 270h1v1h-1zM838 271h1v1h-1zM839 271h1v1h-1zM840 272h1v1h-1zM841 273h1v1h-1zM842 273h1v1h-1zM843 273h1v1h-1zM844 272h1v1h-1zM845 272h1v1h-1zM846 270h1v2h-1zM847 269h1v1h-1zM848 267h1v2h-1zM849 265h1v2h-1zM850 263h1v2h-1zM851 261h1v2h-1zM852 259h1v2h-1zM853 257h1v2h-1zM854 254h1v3h-1zM855 252h1v2h-1zM856 249h1v3h-1zM857 247h1v2h-1zM858 245h1v2h-1zM859 243h1v2h-1zM860 241h1v2h-1zM861 240h1v1h-1zM862 238h1v2h-1zM863 237h1v1h-1zM864 235h1v2h-1zM865 234h1v1h-1zM866 234h1v1h-1zM867 233h1v1h-1zM868 233h1v1h-1zM869 232h1v1h-1zM870 232h1v1h-1zM871 232h1v1h-1zM872 232h1v1h-1zM873 232h1v1h-1zM874 233h1v1h-1zM875 233h1v1h-1zM876 234h1v1h-1zM877 235h1v1h-1zM878 236h1v1h-1zM879 237h1v2h-1zM880 239h1v1h-1zM881 240h1v1h-1zM882 241h1v2h-1zM883 243h1v1h-1zM884 244h1v2h-1zM885 246h1v1h-1zM886 247h1v2h-1zM887 249h1v1h-1zM888 250h1v2h-1zM889 252h1v1h-1zM890 253h1v1h-1zM891 254h1v2h-1zM892 256h1v1h-1zM893 257h1v1h-1zM894 258h1v2h-1zM895 260h1v2h-1zM896 262h1v2h-1zM897 264h1v2h-1zM898 266h1v2h-1zM899 268h1v3h-1zM900 271h1v2h-1zM901 273h1v2h-1zM902 275h1v1h-1zM903 276h1v1h-1zM904 277h1v1h-1zM905 278h1v1h-1zM906 279h1v1h-1zM907 280h1v1h-1zM908 281h1v1h-1zM909 282h1v1h-1zM910 283h1v1h-1zM911 283h1v1h-1zM912 284h1v1h-1zM913 285h1v1h-1zM914 285h1v1h-1zM915 285h1v1h-1zM916 285h1v1h-1zM917 285h1v1h-1zM918 284h1v1h-1zM919 284h1v1h-1zM920 283h1v1h-1zM921 282h1v1h-1zM922 282h1v1h-1zM923 283h1v1h-1zM924 283h1v1h-1zM925 284h1v1h-1zM926 285h1v1h-1zM927 286h1v1h-1zM928 287h1v1h-1zM929 288h1v1h-1zM930 289h1v1h-1zM931 290h1v1h-1zM932 291h1v1h-1zM933 292h1v1h-1zM934 293h1v2h-1zM935 295h1v2h-1zM936 297h1v2h-1zM937 299h1v1h-1zM938 299h1v1h-1zM939 300h1v1h-1zM940 300h1v1h-1zM941 301h1v1h-1zM942 301h1v1h-1zM943 302h1v1h-1zM944 302h1v1h-1zM945 303h1v1h-1zM946 303h1v1h-1zM947 304h1v1h-1zM948 304h1v1h-1zM949 305h1v1h-1zM950 306h1v1h-1zM951 306h1v1h-1zM952 307h1v1h-1zM953 308h1v1h-1zM954 308h1v1h-1zM955 308h1v1h-1zM956 309h1v1h-1zM957 309h1v1h-1zM958 308h1v1h-1zM959 307h1v1h-1zM960 306h1v1h-1zM961 305h1v1h-1zM962 303h1v2h-1zM963 301h1v2h-1zM964 299h1v2h-1zM965 297h1v2h-1zM966 295h1v2h-1zM967 292h1v3h-1zM968 290h1v2h-1zM969 287h1v3h-1zM970 285h1v2h-1zM971 283h1v2h-1zM972 281h1v2h-1zM973 279h1v2h-1zM974 277h1v2h-1zM975 275h1v2h-1zM976 273h1v2h-1zM977 272h1v1h-1zM978 272h1v1h-1zM979 271h1v1h-1zM980 271h1v1h-1zM981 270h1v1h-1zM982 270h1v1h-1zM983 270h1v1h-1zM984 271h1v1h-1zM985 271h1v1h-1zM986 272h1v1h-1zM987 273h1v2h-1zM988 275h1v1h-1zM989 276h1v1h-1zM990 275h1v1h-1zM991 275h1v1h-1zM992 274h1v1h-1zM993 272h1v2h-1zM994 270h1v2h-1zM995 268h1v2h-1zM996 266h1v2h-1zM997 265h1v1h-1zM998 264h1v1h-1zM999 263h1v1h-1zM1000 262h1v1h-1zM1001 261h1v1h-1zM1002 260h1v1h-1zM1003 258h1v2h-1zM1004 257h1v1h-1zM1005 255h1v2h-1zM1006 253h1v2h-1zM1007 250h1v3h-1zM1008 248h1v2h-1zM1009 246h1v2h-1zM1010 246h1v1h-1zM1011 246h1v1h-1zM1012 246h1v1h-1zM1013 246h1v1h-1zM1014 247h1v1h-1zM1015 248h1v1h-1zM1016 249h1v1h-1zM1017 250h1v1h-1zM1018 250h1v1h-1zM1019 250h1v1h-1zM1020 250h1v1h-1zM1021 250h1v1h-1zM1022 249h1v1h-1zM1023 248h1v1h-1zM1024 247h1v1h-1zM1025 246h1v1h-1zM1026 246h1v1h-1zM1027 246h1v1h-1zM1028 245h1v1h-1zM1029 245h1v1h-1zM1030 243h1v2h-1zM1031 241h1v2h-1zM1032 239h1v2h-1zM1033 237h1v2h-1zM1034 235h1v2h-1zM1035 233h1v2h-1zM1036 231h1v2h-1zM1037 230h1v1h-1zM1038 229h1v1h-1zM1039 227h1v2h-1zM1040 226h1v1h-1zM1041 225h1v1h-1zM1042 224h1v1h-1zM1043 223h1v1h-1zM1044 222h1v1h-1zM1045 220h1v2h-1zM1046 218h1v2h-1zM1047 215h1v3h-1zM1048 213h1v2h-1zM1049 211h1v2h-1zM1050 209h1v2h-1zM1051 207h1v2h-1zM1052 205h1v2h-1zM1053 203h1v2h-1zM1054 201h1v2h-1zM1055 199h1v2h-1zM1056 197h1v2h-1zM1057 195h1v2h-1zM1058 192h1v3h-1zM1059 189h1v3h-1zM1060 186h1v3h-1zM1061 183h1v3h-1zM1062 181h1v2h-1zM1063 179h1v2h-1zM1064 177h1v2h-1zM1065 175h1v2h-1zM1066 174h1v1h-1zM1067 174h1v1h-1zM1068 173h1v1h-1zM1069 172h1v1h-1zM1070 173h1v1h-1zM1071 173h1v1h-1zM1072 174h1v1h-1zM1073 175h1v1h-1zM1074 176h1v1h-1zM1075 177h1v1h-1zM1076 178h1v1h-1zM1077 179h1v2h-1zM1078 181h1v3h-1zM1079 184h1v2h-1zM1080 186h1v3h-1zM1081 189h1v4h-1zM1082 193h1v4h-1zM1083 197h1v5h-1zM1084 202h1v4h-1zM1085 206h1v5h-1zM1086 211h1v4h-1zM1087 215h1v4h-1zM1088 219h1v4h-1zM1089 223h1v4h-1zM1090 227h1v3h-1zM1091 230h1v3h-1zM1092 233h1v3h-1zM1093 236h1v2h-1zM1094 238h1v2h-1zM1095 240h1v1h-1zM1096 241h1v2h-1zM1097 243h1v1h-1zM1098 244h1v1h-1zM1099 244h1v1h-1zM1100 245h1v1h-1zM1101 246h1v1h-1zM1102 245h1v1h-1zM1103 243h1v2h-1zM1104 242h1v1h-1zM1105 241h1v1h-1zM1106 240h1v1h-1zM1107 238h1v2h-1zM1108 237h1v1h-1zM1109 236h1v1h-1zM1110 234h1v2h-1zM1111 233h1v1h-1zM1112 231h1v2h-1zM1113 230h1v1h-1zM1114 230h1v1h-1zM1115 230h1v1h-1zM1116 231h1v1h-1zM1117 231h1v1h-1zM1118 232h1v1h-1zM1119 232h1v1h-1zM1120 233h1v1h-1zM1121 234h1v1h-1zM1122 235h1v1h-1zM1123 236h1v1h-1zM1124 237h1v1h-1zM1125 238h1v1h-1zM1126 239h1v1h-1zM1127 240h1v1h-1zM1128 241h1v1h-1zM1129 242h1v1h-1zM1130 243h1v1h-1zM1131 244h1v2h-1zM1132 246h1v1h-1zM1133 247h1v1h-1zM1134 248h1v2h-1zM1135 250h1v2h-1zM1136 252h1v2h-1zM1137 254h1v1h-1zM1138 255h1v1h-1zM1139 256h1v1h-1zM1140 257h1v1h-1zM1141 258h1v1h-1zM1142 259h1v2h-1zM1143 261h1v1h-1zM1144 262h1v2h-1zM1145 264h1v1h-1zM1146 265h1v1h-1zM1147 266h1v2h-1zM1148 268h1v1h-1zM1149 269h1v2h-1zM1150 271h1v3h-1zM1151 274h1v2h-1zM1152 276h1v3h-1zM1153 279h1v3h-1zM1154 282h1v2h-1zM1155 284h1v3h-1zM1156 287h1v2h-1zM1157 289h1v3h-1zM1158 292h1v3h-1zM1159 295h1v4h-1zM1160 299h1v3h-1zM1161 302h1v3h-1zM1162 305h1v4h-1zM1163 309h1v3h-1zM1164 312h1v4h-1zM1165 316h1v3h-1zM1166 319h1v4h-1zM1167 323h1v4h-1zM1168 327h1v4h-1zM1169 331h1v3h-1zM1170 334h1v2h-1zM1171 336h1v2h-1zM1172 338h1v2h-1zM1173 340h1v1h-1zM1174 341h1v2h-1zM1175 343h1v1h-1zM1176 344h1v2h-1zM1177 346h1v1h-1zM1178 346h1v1h-1zM1179 347h1v1h-1zM1180 347h1v1h-1zM1181 348h1v1h-1zM1182 347h1v1h-1zM1183 345h1v2h-1zM1184 344h1v1h-1zM1185 343h1v1h-1zM1186 342h1v1h-1zM1187 340h1v2h-1zM1188 339h1v1h-1zM1189 338h1v1h-1zM1190 338h1v1h-1zM1191 338h1v1h-1zM1192 339h1v1h-1zM1193 339h1v1h-1zM1194 339h1v1h-1zM1195 340h1v1h-1zM1196 340h1v1h-1zM1197 341h1v1h-1zM1198 342h1v2h-1zM1199 344h1v1h-1zM1200 345h1v2h-1zM1201 347h1v1h-1zM1202 348h1v1h-1zM1203 348h1v1h-1zM1204 349h1v1h-1zM1205 350h1v1h-1zM1206 350h1v1h-1zM1207 350h1v1h-1zM1208 349h1v1h-1zM1209 349h1v1h-1zM1210 347h1v2h-1zM1211 346h1v1h-1zM1212 344h1v2h-1zM1213 343h1v1h-1zM1214 342h1v1h-1zM1215 340h1v2h-1zM1216 339h1v1h-1zM1217 338h1v1h-1zM1218 337h1v1h-1zM1219 336h1v1h-1zM1220 335h1v1h-1zM1221 334h1v1h-1zM1222 334h1v1h-1zM1223 334h1v1h-1zM1224 335h1v1h-1zM1225 335h1v1h-1zM1226 336h1v2h-1zM1227 338h1v1h-1zM1228 339h1v2h-1zM1229 341h1v1h-1zM1230 342h1v2h-1zM1231 344h1v2h-1zM1232 346h1v2h-1zM1233 348h1v2h-1zM1234 350h1v3h-1zM1235 353h1v2h-1zM1236 355h1v3h-1zM1237 358h1v3h-1zM1238 361h1v2h-1zM1239 363h1v2h-1zM1240 365h1v2h-1zM1241 367h1v3h-1zM1242 370h1v2h-1zM1243 372h1v3h-1zM1244 375h1v2h-1zM1245 377h1v3h-1zM1246 380h1v2h-1zM1247 382h1v2h-1zM1248 384h1v2h-1zM1249 386h1v3h-1zM1250 389h1v2h-1zM1251 391h1v2h-1zM1252 393h1v2h-1zM1253 395h1v2h-1zM1254 397h1v2h-1zM1255 399h1v2h-1zM1256 401h1v2h-1zM1257 403h1v2h-1zM1258 405h1v2h-1zM1259 407h1v1h-1zM1260 408h1v2h-1zM1261 410h1v3h-1zM1262 413h1v5h-1zM1263 418h1v5h-1zM1264 423h1v5h-1zM1265 428h1v4h-1zM1266 432h1v3h-1zM1267 435h1v2h-1zM1268 437h1v3h-1zM1269 440h1v3h-1zM1270 443h1v2h-1zM1271 445h1v3h-1zM1272 448h1v2h-1zM1273 450h1v2h-1zM1274 448h1v2h-1zM1275 446h1v2h-1zM1276 444h1v2h-1zM1277 443h1v1h-1zM1278 442h1v1h-1zM1279 440h1v2h-1zM1280 439h1v1h-1zM1281 436h1v3h-1zM1282 432h1v4h-1zM1283 428h1v4h-1zM1284 424h1v4h-1zM1285 420h1v4h-1zM1286 417h1v3h-1zM1287 413h1v4h-1zM1288 410h1v3h-1zM1289 407h1v3h-1zM1290 403h1v4h-1zM1291 400h1v3h-1zM1292 396h1v4h-1zM1293 394h1v2h-1zM1294 393h1v1h-1zM1295 392h1v1h-1zM1296 391h1v1h-1zM1297 390h1v3h-1zM1298 393h1v4h-1zM1299 397h1v5h-1zM1300 402h1v4h-1zM1301 406h1v4h-1zM1302 410h1v3h-1zM1303 413h1v2h-1zM1304 415h1v3h-1zM1305 418h1v2h-1z"/>
<rect x="4" y="26" width="1638" height="1" fill="#000" shape-rendering="crispEdges"/>
<rect x="4" y="26" width="1" height="779" fill="#000" shape-rendering="crispEdges"/>
<rect x="1641" y="26" width="1" height="779" fill="#000" shape-rendering="crispEdges"/>
<rect x="4" y="593" width="1638" height="1" fill="#000" shape-rendering="crispEdges"/>
<rect x="4" y="594" width="1638" height="1" fill="#fff" shape-rendering="crispEdges"/>
<rect x="4" y="595" width="1638" height="1" fill="#000" shape-rendering="crispEdges"/>
<rect x="4" y="699" width="1638" height="1" fill="#000" shape-rendering="crispEdges"/>
<rect x="4" y="700" width="1638" height="1" fill="#fff" shape-rendering="crispEdges"/>
<rect x="4" y="701" width="1638" height="1" fill="#000" shape-rendering="crispEdges"/>
<rect x="4" y="804" width="1638" height="1" fill="#000" shape-rendering="crispEdges"/>
<g style="font-family:&quot;Liberation Sans&quot;,sans-serif">
<rect x="1642" y="29" width="2" height="1" fill="#000" shape-rendering="crispEdges"/>
<text x="1647" y="33" font-size="9.6" fill="#000" stroke="#000" stroke-width="0.1" textLength="33" lengthAdjust="spacingAndGlyphs">0.72480</text>
<rect x="1642" y="62" width="2" height="1" fill="#000" shape-rendering="crispEdges"/>
<text x="1647" y="66" font-size="9.6" fill="#000" stroke="#000" stroke-width="0.1" textLength="33" lengthAdjust="spacingAndGlyphs">0.71910</text>
<rect x="1642" y="95" width="2" height="1" fill="#000" shape-rendering="crispEdges"/>
<text x="1647" y="99" font-size="9.6" fill="#000" stroke="#000" stroke-width="0.1" textLength="33" lengthAdjust="spacingAndGlyphs">0.71340</text>
<rect x="1642" y="128" width="2" height="1" fill="#000" shape-rendering="crispEdges"/>
<text x="1647" y="132" font-size="9.6" fill="#000" stroke="#000" stroke-width="0.1" textLength="33" lengthAdjust="spacingAndGlyphs">0.70770</text>
<rect x="1642" y="161" width="2" height="1" fill="#000" shape-rendering="crispEdges"/>
<text x="1647" y="165" font-size="9.6" fill="#000" stroke="#000" stroke-width="0.1" textLength="33" lengthAdjust="spacingAndGlyphs">0.70215</text>
<rect x="1642" y="194" width="2" height="1" fill="#000" shape-rendering="crispEdges"/>
<text x="1647" y="198" font-size="9.6" fill="#000" stroke="#000" stroke-width="0.1" textLength="33" lengthAdjust="spacingAndGlyphs">0.69645</text>
<rect x="1642" y="227" width="2" height="1" fill="#000" shape-rendering="crispEdges"/>
<text x="1647" y="231" font-size="9.6" fill="#000" stroke="#000" stroke-width="0.1" textLength="33" lengthAdjust="spacingAndGlyphs">0.69075</text>
<rect x="1642" y="260" width="2" height="1" fill="#000" shape-rendering="crispEdges"/>
<text x="1647" y="264" font-size="9.6" fill="#000" stroke="#000" stroke-width="0.1" textLength="33" lengthAdjust="spacingAndGlyphs">0.68520</text>
<rect x="1642" y="293" width="2" height="1" fill="#000" shape-rendering="crispEdges"/>
<text x="1647" y="297" font-size="9.6" fill="#000" stroke="#000" stroke-width="0.1" textLength="33" lengthAdjust="spacingAndGlyphs">0.67950</text>
<rect x="1642" y="326" width="2" height="1" fill="#000" shape-rendering="crispEdges"/>
<text x="1647" y="330" font-size="9.6" fill="#000" stroke="#000" stroke-width="0.1" textLength="33" lengthAdjust="spacingAndGlyphs">0.67380</text>
<rect x="1642" y="359" width="2" height="1" fill="#000" shape-rendering="crispEdges"/>
<text x="1647" y="363" font-size="9.6" fill="#000" stroke="#000" stroke-width="0.1" textLength="33" lengthAdjust="spacingAndGlyphs">0.66825</text>
<rect x="1642" y="392" width="2" height="1" fill="#000" shape-rendering="crispEdges"/>
<text x="1647" y="396" font-size="9.6" fill="#000" stroke="#000" stroke-width="0.1" textLength="33" lengthAdjust="spacingAndGlyphs">0.66255</text>
<rect x="1642" y="425" width="2" height="1" fill="#000" shape-rendering="crispEdges"/>
<text x="1647" y="429" font-size="9.6" fill="#000" stroke="#000" stroke-width="0.1" textLength="33" lengthAdjust="spacingAndGlyphs">0.65685</text>
<rect x="1642" y="458" width="2" height="1" fill="#000" shape-rendering="crispEdges"/>
<text x="1647" y="462" font-size="9.6" fill="#000" stroke="#000" stroke-width="0.1" textLength="33" lengthAdjust="spacingAndGlyphs">0.65130</text>
<rect x="1642" y="491" width="2" height="1" fill="#000" shape-rendering="crispEdges"/>
<text x="1647" y="495" font-size="9.6" fill="#000" stroke="#000" stroke-width="0.1" textLength="33" lengthAdjust="spacingAndGlyphs">0.64560</text>
<rect x="1642" y="524" width="2" height="1" fill="#000" shape-rendering="crispEdges"/>
<text x="1647" y="528" font-size="9.6" fill="#000" stroke="#000" stroke-width="0.1" textLength="33" lengthAdjust="spacingAndGlyphs">0.63990</text>
<rect x="1642" y="557" width="2" height="1" fill="#000" shape-rendering="crispEdges"/>
<text x="1647" y="561" font-size="9.6" fill="#000" stroke="#000" stroke-width="0.1" textLength="33" lengthAdjust="spacingAndGlyphs">0.63420</text>
<rect x="1642" y="590" width="2" height="1" fill="#000" shape-rendering="crispEdges"/>
<text x="1647" y="594" font-size="9.6" fill="#000" stroke="#000" stroke-width="0.1" textLength="33" lengthAdjust="spacingAndGlyphs">0.62865</text>
<rect x="1643" y="456" width="41" height="11" fill="#000" />
<text x="1647" y="465" font-size="9.6" fill="#fff" stroke="#fff" stroke-width="0.1" textLength="33" lengthAdjust="spacingAndGlyphs">0.65075</text>
<rect x="5" y="113" width="1636" height="2" fill="#ff0000" shape-rendering="crispEdges"/>
<rect x="1643" y="108" width="41" height="11" fill="#ff0000" shape-rendering="crispEdges"/>
<text x="1647" y="117" font-size="9.6" fill="#fff" stroke="#fff" stroke-width="0.1" textLength="33" lengthAdjust="spacingAndGlyphs">0.71016</text>
<rect x="5" y="172" width="1636" height="2" fill="#ff0000" shape-rendering="crispEdges"/>
<rect x="1643" y="167" width="41" height="11" fill="#ff0000" shape-rendering="crispEdges"/>
<text x="1647" y="176" font-size="9.6" fill="#fff" stroke="#fff" stroke-width="0.1" textLength="33" lengthAdjust="spacingAndGlyphs">0.70007</text>
<rect x="5" y="230" width="1636" height="2" fill="#ff0000" shape-rendering="crispEdges"/>
<rect x="1643" y="225" width="41" height="11" fill="#ff0000" shape-rendering="crispEdges"/>
<text x="1647" y="234" font-size="9.6" fill="#fff" stroke="#fff" stroke-width="0.1" textLength="33" lengthAdjust="spacingAndGlyphs">0.69010</text>
<rect x="5" y="304" width="1636" height="2" fill="#ff0000" shape-rendering="crispEdges"/>
<rect x="4" y="302" width="6" height="6" fill="#ff0000" shape-rendering="crispEdges"/>
<rect x="6" y="304" width="2" height="2" fill="#fff" shape-rendering="crispEdges"/>
<rect x="1635" y="302" width="6" height="6" fill="#ff0000" shape-rendering="crispEdges"/>
<rect x="1637" y="304" width="2" height="2" fill="#fff" shape-rendering="crispEdges"/>
<rect x="1643" y="299" width="41" height="11" fill="#ff0000" shape-rendering="crispEdges"/>
<text x="1647" y="308" font-size="9.6" fill="#fff" stroke="#fff" stroke-width="0.1" textLength="33" lengthAdjust="spacingAndGlyphs">0.67754</text>
<rect x="5" y="365" width="1636" height="2" fill="#ff0000" shape-rendering="crispEdges"/>
<rect x="4" y="363" width="6" height="6" fill="#ff0000" shape-rendering="crispEdges"/>
<rect x="6" y="365" width="2" height="2" fill="#fff" shape-rendering="crispEdges"/>
<rect x="1635" y="363" width="6" height="6" fill="#ff0000" shape-rendering="crispEdges"/>
<rect x="1637" y="365" width="2" height="2" fill="#fff" shape-rendering="crispEdges"/>
<rect x="1643" y="360" width="41" height="11" fill="#ff0000" shape-rendering="crispEdges"/>
<text x="1647" y="369" font-size="9.6" fill="#fff" stroke="#fff" stroke-width="0.1" textLength="33" lengthAdjust="spacingAndGlyphs">0.66706</text>
<rect x="5" y="405" width="1636" height="2" fill="#00ff00" shape-rendering="crispEdges"/>
<rect x="4" y="403" width="6" height="6" fill="#00ff00" shape-rendering="crispEdges"/>
<rect x="6" y="405" width="2" height="2" fill="#fff" shape-rendering="crispEdges"/>
<rect x="1635" y="403" width="6" height="6" fill="#00ff00" shape-rendering="crispEdges"/>
<rect x="1637" y="405" width="2" height="2" fill="#fff" shape-rendering="crispEdges"/>
<rect x="1643" y="400" width="41" height="11" fill="#00ff00" shape-rendering="crispEdges"/>
<text x="1647" y="409" font-size="9.6" fill="#fff" stroke="#fff" stroke-width="0.1" textLength="33" lengthAdjust="spacingAndGlyphs">0.66009</text>
<rect x="5" y="463" width="1636" height="2" fill="#0000ff" shape-rendering="crispEdges"/>
<rect x="4" y="461" width="6" height="6" fill="#0000ff" shape-rendering="crispEdges"/>
<rect x="6" y="463" width="2" height="2" fill="#fff" shape-rendering="crispEdges"/>
<rect x="1635" y="461" width="6" height="6" fill="#0000ff" shape-rendering="crispEdges"/>
<rect x="1637" y="463" width="2" height="2" fill="#fff" shape-rendering="crispEdges"/>
<rect x="1643" y="458" width="41" height="11" fill="#0000ff" shape-rendering="crispEdges"/>
<text x="1647" y="467" font-size="9.6" fill="#fff" stroke="#fff" stroke-width="0.1" textLength="33" lengthAdjust="spacingAndGlyphs">0.65026</text>
<rect x="5" y="505" width="1636" height="2" fill="#0000ff" shape-rendering="crispEdges"/>
<rect x="1643" y="500" width="41" height="11" fill="#0000ff" shape-rendering="crispEdges"/>
<text x="1647" y="509" font-size="9.6" fill="#fff" stroke="#fff" stroke-width="0.1" textLength="33" lengthAdjust="spacingAndGlyphs">0.64306</text>
<text x="1645" y="605.5" font-size="9.6" fill="#000" stroke="#000" stroke-width="0.1" textLength="14.4" lengthAdjust="spacingAndGlyphs">100</text>
<text x="1645" y="630.5" font-size="9.6" fill="#000" stroke="#000" stroke-width="0.1" textLength="9" lengthAdjust="spacingAndGlyphs">70</text>
<text x="1645" y="671.5" font-size="9.6" fill="#000" stroke="#000" stroke-width="0.1" textLength="9" lengthAdjust="spacingAndGlyphs">30</text>
<text x="1645" y="696" font-size="9.6" fill="#000" stroke="#000" stroke-width="0.1" textLength="4.8" lengthAdjust="spacingAndGlyphs">0</text>
<text x="1645" y="712" font-size="9.6" fill="#000" stroke="#000" stroke-width="0.1" textLength="37.4" lengthAdjust="spacingAndGlyphs">0.005121</text>
<text x="1645" y="748.5" font-size="9.6" fill="#000" stroke="#000" stroke-width="0.1" textLength="17.6" lengthAdjust="spacingAndGlyphs">0.00</text>
<text x="1645" y="801.5" font-size="9.6" fill="#000" stroke="#000" stroke-width="0.1" textLength="41" lengthAdjust="spacingAndGlyphs">-0.007111</text>
<rect x="1642" y="745" width="2" height="1" fill="#000" shape-rendering="crispEdges"/>
<path d="M7.9 33h7.6l-3.8 4z" fill="#000"/>
<text x="20.7" y="38" font-size="9.6" fill="#000" stroke="#000" stroke-width="0.1" textLength="65.3" lengthAdjust="spacingAndGlyphs">AUDUSD,Daily</text>
<text x="92.3" y="38" font-size="9.6" fill="#000" stroke="#000" stroke-width="0.1" textLength="140.7" lengthAdjust="spacingAndGlyphs">0.64683 0.65127 0.64618 0.65075</text>
<text x="9.2" y="608" font-size="9.6" fill="#000" stroke="#000" stroke-width="0.1" textLength="67.8" lengthAdjust="spacingAndGlyphs">RSI(14) 38.6213</text>
<text x="9.5" y="714" font-size="9.6" fill="#000" stroke="#000" stroke-width="0.1" textLength="153.5" lengthAdjust="spacingAndGlyphs">MACD(12,26,9) -0.004057 -0.004410</text>
<rect x="5" y="805" width="1" height="3" fill="#000" shape-rendering="crispEdges"/>
<text x="4.3" y="817" font-size="9.6" fill="#000" stroke="#000" stroke-width="0.1" textLength="52" lengthAdjust="spacingAndGlyphs">26 Feb 2019</text>
<rect x="69" y="805" width="1" height="3" fill="#000" shape-rendering="crispEdges"/>
<text x="68.3" y="817" font-size="9.6" fill="#000" stroke="#000" stroke-width="0.1" textLength="51.5" lengthAdjust="spacingAndGlyphs">16 Mar 2019</text>
<rect x="133" y="805" width="1" height="3" fill="#000" shape-rendering="crispEdges"/>
<text x="132.3" y="817" font-size="9.6" fill="#000" stroke="#000" stroke-width="0.1" textLength="46" lengthAdjust="spacingAndGlyphs">4 Apr 2019</text>
<rect x="197" y="805" width="1" height="3" fill="#000" shape-rendering="crispEdges"/>
<text x="196.3" y="817" font-size="9.6" fill="#000" stroke="#000" stroke-width="0.1" textLength="51" lengthAdjust="spacingAndGlyphs">23 Apr 2019</text>
<rect x="261" y="805" width="1" height="3" fill="#000" shape-rendering="crispEdges"/>
<text x="260.3" y="817" font-size="9.6" fill="#000" stroke="#000" stroke-width="0.1" textLength="54.5" lengthAdjust="spacingAndGlyphs">11 May 2019</text>
<rect x="325" y="805" width="1" height="3" fill="#000" shape-rendering="crispEdges"/>
<text x="324.3" y="817" font-size="9.6" fill="#000" stroke="#000" stroke-width="0.1" textLength="55" lengthAdjust="spacingAndGlyphs">30 May 2019</text>
<rect x="389" y="805" width="1" height="3" fill="#000" shape-rendering="crispEdges"/>
<text x="388.3" y="817" font-size="9.6" fill="#000" stroke="#000" stroke-width="0.1" textLength="49.5" lengthAdjust="spacingAndGlyphs">18 Jun 2019</text>
<rect x="453" y="805" width="1" height="3" fill="#000" shape-rendering="crispEdges"/>
<text x="452.3" y="817" font-size="9.6" fill="#000" stroke="#000" stroke-width="0.1" textLength="41.5" lengthAdjust="spacingAndGlyphs">6 Jul 2019</text>
<rect x="517" y="805" width="1" height="3" fill="#000" shape-rendering="crispEdges"/>
<text x="516.3" y="817" font-size="9.6" fill="#000" stroke="#000" stroke-width="0.1" textLength="47" lengthAdjust="spacingAndGlyphs">25 Jul 2019</text>
<rect x="581" y="805" width="1" height="3" fill="#000" shape-rendering="crispEdges"/>
<text x="580.3" y="817" font-size="9.6" fill="#000" stroke="#000" stroke-width="0.1" textLength="52.5" lengthAdjust="spacingAndGlyphs">13 Aug 2019</text>
<rect x="645" y="805" width="1" height="3" fill="#000" shape-rendering="crispEdges"/>
<text x="644.3" y="817" font-size="9.6" fill="#000" stroke="#000" stroke-width="0.1" textLength="52.5" lengthAdjust="spacingAndGlyphs">31 Aug 2019</text>
<rect x="709" y="805" width="1" height="3" fill="#000" shape-rendering="crispEdges"/>
<text x="708.3" y="817" font-size="9.6" fill="#000" stroke="#000" stroke-width="0.1" textLength="51.5" lengthAdjust="spacingAndGlyphs">19 Sep 2019</text>
<rect x="773" y="805" width="1" height="3" fill="#000" shape-rendering="crispEdges"/>
<text x="772.3" y="817" font-size="9.6" fill="#000" stroke="#000" stroke-width="0.1" textLength="45.5" lengthAdjust="spacingAndGlyphs">8 Oct 2019</text>
<rect x="837" y="805" width="1" height="3" fill="#000" shape-rendering="crispEdges"/>
<text x="836.3" y="817" font-size="9.6" fill="#000" stroke="#000" stroke-width="0.1" textLength="50.5" lengthAdjust="spacingAndGlyphs">26 Oct 2019</text>
<rect x="901" y="805" width="1" height="3" fill="#000" shape-rendering="crispEdges"/>
<text x="900.3" y="817" font-size="9.6" fill="#000" stroke="#000" stroke-width="0.1" textLength="53" lengthAdjust="spacingAndGlyphs">14 Nov 2019</text>
<rect x="965" y="805" width="1" height="3" fill="#000" shape-rendering="crispEdges"/>
<text x="964.3" y="817" font-size="9.6" fill="#000" stroke="#000" stroke-width="0.1" textLength="46.5" lengthAdjust="spacingAndGlyphs">3 Dec 2019</text>
<rect x="1029" y="805" width="1" height="3" fill="#000" shape-rendering="crispEdges"/>
<text x="1028.3" y="817" font-size="9.6" fill="#000" stroke="#000" stroke-width="0.1" textLength="52" lengthAdjust="spacingAndGlyphs">21 Dec 2019</text>
<rect x="1093" y="805" width="1" height="3" fill="#000" shape-rendering="crispEdges"/>
<text x="1092.3" y="817" font-size="9.6" fill="#000" stroke="#000" stroke-width="0.1" textLength="45" lengthAdjust="spacingAndGlyphs">9 Jan 2020</text>
<rect x="1157" y="805" width="1" height="3" fill="#000" shape-rendering="crispEdges"/>
<text x="1156.3" y="817" font-size="9.6" fill="#000" stroke="#000" stroke-width="0.1" textLength="50" lengthAdjust="spacingAndGlyphs">28 Jan 2020</text>
<rect x="1221" y="805" width="1" height="3" fill="#000" shape-rendering="crispEdges"/>
<text x="1220.3" y="817" font-size="9.6" fill="#000" stroke="#000" stroke-width="0.1" textLength="51.5" lengthAdjust="spacingAndGlyphs">15 Feb 2020</text>
<rect x="1285" y="805" width="1" height="3" fill="#000" shape-rendering="crispEdges"/>
<text x="1284.3" y="817" font-size="9.6" fill="#000" stroke="#000" stroke-width="0.1" textLength="47" lengthAdjust="spacingAndGlyphs">5 Mar 2020</text>
</g>
<path d="M1307 27h10l-5 5z" fill="#c0c0c0"/>
<line x1="5" x2="1641" y1="627.5" y2="627.5" stroke="#c0c0c0" stroke-width="1" stroke-dasharray="3 3" shape-rendering="crispEdges"/>
<line x1="5" x2="1641" y1="668.5" y2="668.5" stroke="#c0c0c0" stroke-width="1" stroke-dasharray="3 3" shape-rendering="crispEdges"/>
<path clip-path="url(#cr)" shape-rendering="crispEdges" fill="#1e90ff" d="M5 643h1v1h-1zM6 644h1v1h-1zM7 645h1v2h-1zM8 647h1v1h-1zM9 648h1v1h-1zM10 649h1v1h-1zM11 650h1v1h-1zM12 651h1v1h-1zM13 652h1v1h-1zM14 652h1v1h-1zM15 653h1v1h-1zM16 653h1v1h-1zM17 654h1v1h-1zM18 655h1v1h-1zM19 655h1v1h-1zM20 656h1v1h-1zM21 657h1v1h-1zM22 657h1v1h-1zM23 656h1v1h-1zM24 656h1v1h-1zM25 655h1v1h-1zM26 655h1v1h-1zM27 655h1v1h-1zM28 656h1v1h-1zM29 656h1v1h-1zM30 657h1v1h-1zM31 658h1v2h-1zM32 660h1v1h-1zM33 661h1v1h-1zM34 661h1v1h-1zM35 661h1v1h-1zM36 660h1v1h-1zM37 660h1v1h-1zM38 660h1v1h-1zM39 660h1v1h-1zM40 659h1v1h-1zM41 659h1v1h-1zM42 659h1v1h-1zM43 658h1v1h-1zM44 658h1v1h-1zM45 657h1v1h-1zM46 657h1v1h-1zM47 657h1v1h-1zM48 656h1v1h-1zM49 656h1v1h-1zM50 654h1v2h-1zM51 653h1v1h-1zM52 651h1v2h-1zM53 650h1v1h-1zM54 650h1v1h-1zM55 650h1v1h-1zM56 650h1v1h-1zM57 650h1v1h-1zM58 651h1v1h-1zM59 652h1v1h-1zM60 653h1v1h-1zM61 654h1v1h-1zM62 653h1v1h-1zM63 651h1v2h-1zM64 650h1v1h-1zM65 649h1v1h-1zM66 649h1v1h-1zM67 649h1v1h-1zM68 650h1v1h-1zM69 650h1v1h-1zM70 649h1v1h-1zM71 649h1v1h-1zM72 648h1v1h-1zM73 647h1v1h-1zM74 647h1v1h-1zM75 647h1v1h-1zM76 646h1v1h-1zM77 646h1v1h-1zM78 647h1v1h-1zM79 648h1v1h-1zM80 649h1v1h-1zM81 650h1v1h-1zM82 649h1v1h-1zM83 647h1v2h-1zM84 646h1v1h-1zM85 645h1v1h-1zM86 646h1v1h-1zM87 647h1v1h-1zM88 648h1v1h-1zM89 649h1v1h-1zM90 649h1v1h-1zM91 650h1v1h-1zM92 650h1v1h-1zM93 651h1v1h-1zM94 649h1v2h-1zM95 647h1v2h-1zM96 645h1v2h-1zM97 644h1v1h-1zM98 643h1v1h-1zM99 642h1v1h-1zM100 641h1v1h-1zM101 640h1v2h-1zM102 642h1v3h-1zM103 645h1v3h-1zM104 648h1v3h-1zM105 651h1v2h-1zM106 652h1v1h-1zM107 652h1v1h-1zM108 651h1v1h-1zM109 651h1v1h-1zM110 650h1v1h-1zM111 649h1v1h-1zM112 648h1v1h-1zM113 647h1v1h-1zM114 647h1v1h-1zM115 647h1v1h-1zM116 648h1v1h-1zM117 648h1v1h-1zM118 647h1v1h-1zM119 646h1v1h-1zM120 645h1v1h-1zM121 644h1v2h-1zM122 646h1v2h-1zM123 648h1v3h-1zM124 651h1v2h-1zM125 653h1v2h-1zM126 651h1v2h-1zM127 648h1v3h-1zM128 646h1v2h-1zM129 644h1v2h-1zM130 644h1v1h-1zM131 645h1v1h-1zM132 645h1v1h-1zM133 646h1v1h-1zM134 646h1v1h-1zM135 647h1v1h-1zM136 647h1v1h-1zM137 648h1v1h-1zM138 648h1v1h-1zM139 648h1v1h-1zM140 648h1v1h-1zM141 648h1v1h-1zM142 647h1v1h-1zM143 646h1v1h-1zM144 645h1v1h-1zM145 644h1v1h-1zM146 644h1v1h-1zM147 644h1v1h-1zM148 643h1v1h-1zM149 643h1v1h-1zM150 642h1v1h-1zM151 641h1v1h-1zM152 640h1v1h-1zM153 639h1v1h-1zM154 640h1v2h-1zM155 642h1v1h-1zM156 643h1v2h-1zM157 645h1v1h-1zM158 643h1v2h-1zM159 641h1v2h-1zM160 639h1v2h-1zM161 638h1v1h-1zM162 638h1v1h-1zM163 638h1v1h-1zM164 639h1v1h-1zM165 639h1v1h-1zM166 639h1v1h-1zM167 639h1v1h-1zM168 638h1v1h-1zM169 638h1v1h-1zM170 638h1v1h-1zM171 638h1v1h-1zM172 639h1v1h-1zM173 639h1v1h-1zM174 639h1v1h-1zM175 640h1v1h-1zM176 640h1v1h-1zM177 641h1v1h-1zM178 642h1v1h-1zM179 642h1v1h-1zM180 643h1v1h-1zM181 644h1v1h-1zM182 644h1v1h-1zM183 644h1v1h-1zM184 645h1v1h-1zM185 645h1v1h-1zM186 645h1v1h-1zM187 645h1v1h-1zM188 644h1v1h-1zM189 644h1v1h-1zM190 645h1v1h-1zM191 646h1v1h-1zM192 647h1v1h-1zM193 648h1v1h-1zM194 649h1v2h-1zM195 651h1v2h-1zM196 653h1v2h-1zM197 655h1v2h-1zM198 657h1v2h-1zM199 659h1v3h-1zM200 662h1v2h-1zM201 664h1v2h-1zM202 665h1v1h-1zM203 666h1v1h-1zM204 666h1v1h-1zM205 666h1v2h-1zM206 664h1v2h-1zM207 662h1v2h-1zM208 660h1v2h-1zM209 659h1v1h-1zM210 659h1v1h-1zM211 659h1v1h-1zM212 659h1v1h-1zM213 659h1v1h-1zM214 658h1v1h-1zM215 658h1v1h-1zM216 657h1v1h-1zM217 656h1v1h-1zM218 657h1v1h-1zM219 657h1v1h-1zM220 658h1v1h-1zM221 659h1v1h-1zM222 659h1v1h-1zM223 659h1v1h-1zM224 659h1v1h-1zM225 659h1v1h-1zM226 660h1v1h-1zM227 661h1v1h-1zM228 662h1v1h-1zM229 663h1v1h-1zM230 662h1v1h-1zM231 662h1v1h-1zM232 661h1v1h-1zM233 660h1v1h-1zM234 660h1v1h-1zM235 660h1v1h-1zM236 660h1v1h-1zM237 660h1v1h-1zM238 661h1v1h-1zM239 661h1v1h-1zM240 662h1v1h-1zM241 663h1v1h-1zM242 663h1v1h-1zM243 663h1v1h-1zM244 662h1v1h-1zM245 662h1v1h-1zM246 662h1v1h-1zM247 661h1v1h-1zM248 661h1v1h-1zM249 660h1v1h-1zM250 661h1v1h-1zM251 662h1v2h-1zM252 664h1v1h-1zM253 665h1v1h-1zM254 664h1v1h-1zM255 662h1v2h-1zM256 661h1v1h-1zM257 660h1v1h-1zM258 660h1v1h-1zM259 660h1v1h-1zM260 659h1v1h-1zM261 659h1v1h-1zM262 660h1v2h-1zM263 662h1v2h-1zM264 664h1v2h-1zM265 666h1v1h-1zM266 666h1v1h-1zM267 666h1v1h-1zM268 667h1v1h-1zM269 667h1v1h-1zM270 667h1v1h-1zM271 668h1v1h-1zM272 668h1v1h-1zM273 669h1v1h-1zM274 670h1v1h-1zM275 670h1v1h-1zM276 671h1v1h-1zM277 672h1v1h-1zM278 673h1v1h-1zM279 673h1v1h-1zM280 674h1v1h-1zM281 675h1v1h-1zM282 675h1v1h-1zM283 675h1v1h-1zM284 675h1v1h-1zM285 674h1v2h-1zM286 671h1v3h-1zM287 667h1v4h-1zM288 664h1v3h-1zM289 662h1v2h-1zM290 663h1v1h-1zM291 664h1v2h-1zM292 666h1v1h-1zM293 667h1v1h-1zM294 667h1v1h-1zM295 667h1v1h-1zM296 666h1v1h-1zM297 666h1v1h-1zM298 665h1v1h-1zM299 664h1v1h-1zM300 663h1v1h-1zM301 662h1v1h-1zM302 661h1v1h-1zM303 660h1v1h-1zM304 659h1v1h-1zM305 658h1v1h-1zM306 657h1v1h-1zM307 656h1v1h-1zM308 655h1v1h-1zM309 654h1v1h-1zM310 655h1v1h-1zM311 655h1v1h-1zM312 656h1v1h-1zM313 657h1v1h-1zM314 656h1v1h-1zM315 655h1v1h-1zM316 654h1v1h-1zM317 653h1v1h-1zM318 654h1v1h-1zM319 655h1v1h-1zM320 656h1v1h-1zM321 657h1v1h-1zM322 657h1v1h-1zM323 657h1v1h-1zM324 657h1v1h-1zM325 657h1v1h-1zM326 656h1v1h-1zM327 654h1v2h-1zM328 653h1v1h-1zM329 652h1v1h-1zM330 652h1v1h-1zM331 651h1v1h-1zM332 651h1v1h-1zM333 650h1v1h-1zM334 649h1v1h-1zM335 649h1v1h-1zM336 648h1v1h-1zM337 647h1v1h-1zM338 645h1v2h-1zM339 643h1v2h-1zM340 641h1v2h-1zM341 640h1v1h-1zM342 641h1v1h-1zM343 642h1v1h-1zM344 643h1v1h-1zM345 644h1v1h-1zM346 643h1v1h-1zM347 643h1v1h-1zM348 642h1v1h-1zM349 641h1v1h-1zM350 640h1v1h-1zM351 640h1v1h-1zM352 639h1v1h-1zM353 638h1v1h-1zM354 638h1v1h-1zM355 638h1v1h-1zM356 638h1v1h-1zM357 638h1v2h-1zM358 640h1v2h-1zM359 642h1v2h-1zM360 644h1v2h-1zM361 646h1v2h-1zM362 648h1v1h-1zM363 648h1v1h-1zM364 649h1v1h-1zM365 650h1v1h-1zM366 650h1v1h-1zM367 651h1v1h-1zM368 651h1v1h-1zM369 652h1v1h-1zM370 653h1v2h-1zM371 655h1v1h-1zM372 656h1v2h-1zM373 658h1v1h-1zM374 659h1v2h-1zM375 661h1v1h-1zM376 662h1v2h-1zM377 664h1v1h-1zM378 664h1v1h-1zM379 664h1v1h-1zM380 665h1v1h-1zM381 665h1v1h-1zM382 665h1v1h-1zM383 665h1v1h-1zM384 666h1v1h-1zM385 666h1v1h-1zM386 665h1v1h-1zM387 664h1v1h-1zM388 663h1v1h-1zM389 662h1v1h-1zM390 662h1v1h-1zM391 662h1v1h-1zM392 662h1v1h-1zM393 661h1v2h-1zM394 658h1v3h-1zM395 655h1v3h-1zM396 652h1v3h-1zM397 650h1v2h-1zM398 650h1v1h-1zM399 650h1v1h-1zM400 649h1v1h-1zM401 649h1v1h-1zM402 649h1v1h-1zM403 649h1v1h-1zM404 649h1v1h-1zM405 648h1v2h-1zM406 646h1v2h-1zM407 644h1v2h-1zM408 642h1v2h-1zM409 641h1v1h-1zM410 641h1v1h-1zM411 640h1v1h-1zM412 640h1v1h-1zM413 639h1v1h-1zM414 638h1v1h-1zM415 638h1v1h-1zM416 637h1v1h-1zM417 636h1v1h-1zM418 636h1v1h-1zM419 636h1v1h-1zM420 635h1v1h-1zM421 635h1v1h-1zM422 635h1v1h-1zM423 634h1v1h-1zM424 634h1v1h-1zM425 633h1v1h-1zM426 633h1v1h-1zM427 632h1v1h-1zM428 632h1v1h-1zM429 631h1v2h-1zM430 633h1v4h-1zM431 637h1v4h-1zM432 641h1v4h-1zM433 645h1v2h-1zM434 645h1v1h-1zM435 643h1v2h-1zM436 642h1v1h-1zM437 641h1v1h-1zM438 639h1v2h-1zM439 638h1v1h-1zM440 636h1v2h-1zM441 635h1v1h-1zM442 636h1v1h-1zM443 636h1v1h-1zM444 637h1v1h-1zM445 638h1v2h-1zM446 640h1v2h-1zM447 642h1v3h-1zM448 645h1v2h-1zM449 647h1v2h-1zM450 648h1v1h-1zM451 647h1v1h-1zM452 647h1v1h-1zM453 646h1v1h-1zM454 646h1v1h-1zM455 647h1v1h-1zM456 647h1v1h-1zM457 648h1v1h-1zM458 649h1v2h-1zM459 651h1v1h-1zM460 652h1v2h-1zM461 654h1v1h-1zM462 652h1v2h-1zM463 651h1v1h-1zM464 649h1v2h-1zM465 648h1v1h-1zM466 647h1v1h-1zM467 647h1v1h-1zM468 646h1v1h-1zM469 645h1v1h-1zM470 644h1v1h-1zM471 644h1v1h-1zM472 643h1v1h-1zM473 642h1v1h-1zM474 641h1v1h-1zM475 641h1v1h-1zM476 640h1v1h-1zM477 639h1v1h-1zM478 639h1v1h-1zM479 639h1v1h-1zM480 638h1v1h-1zM481 638h1v1h-1zM482 639h1v1h-1zM483 639h1v1h-1zM484 640h1v1h-1zM485 641h1v1h-1zM486 641h1v1h-1zM487 641h1v1h-1zM488 640h1v1h-1zM489 640h1v1h-1zM490 640h1v1h-1zM491 639h1v1h-1zM492 639h1v1h-1zM493 638h1v1h-1zM494 638h1v1h-1zM495 638h1v1h-1zM496 638h1v1h-1zM497 638h1v1h-1zM498 638h1v1h-1zM499 638h1v1h-1zM500 638h1v1h-1zM501 638h1v1h-1zM502 638h1v1h-1zM503 638h1v1h-1zM504 638h1v1h-1zM505 638h1v2h-1zM506 640h1v2h-1zM507 642h1v3h-1zM508 645h1v2h-1zM509 647h1v2h-1zM510 649h1v1h-1zM511 650h1v1h-1zM512 651h1v1h-1zM513 652h1v1h-1zM514 653h1v1h-1zM515 654h1v1h-1zM516 655h1v1h-1zM517 656h1v1h-1zM518 657h1v2h-1zM519 659h1v2h-1zM520 661h1v2h-1zM521 663h1v1h-1zM522 663h1v1h-1zM523 663h1v1h-1zM524 663h1v1h-1zM525 663h1v1h-1zM526 663h1v1h-1zM527 663h1v1h-1zM528 663h1v1h-1zM529 663h1v1h-1zM530 664h1v1h-1zM531 665h1v1h-1zM532 666h1v1h-1zM533 667h1v1h-1zM534 666h1v1h-1zM535 665h1v1h-1zM536 664h1v1h-1zM537 663h1v1h-1zM538 664h1v1h-1zM539 665h1v1h-1zM540 666h1v1h-1zM541 667h1v1h-1zM542 668h1v1h-1zM543 669h1v2h-1zM544 671h1v1h-1zM545 672h1v1h-1zM546 672h1v1h-1zM547 672h1v1h-1zM548 673h1v1h-1zM549 673h1v1h-1zM550 673h1v1h-1zM551 674h1v1h-1zM552 674h1v1h-1zM553 675h1v1h-1zM554 675h1v1h-1zM555 675h1v1h-1zM556 675h1v1h-1zM557 675h1v1h-1zM558 675h1v1h-1zM559 675h1v1h-1zM560 676h1v1h-1zM561 675h1v2h-1zM562 671h1v4h-1zM563 668h1v3h-1zM564 664h1v4h-1zM565 662h1v2h-1zM566 662h1v1h-1zM567 663h1v1h-1zM568 663h1v1h-1zM569 664h1v1h-1zM570 664h1v1h-1zM571 664h1v1h-1zM572 664h1v1h-1zM573 664h1v1h-1zM574 665h1v1h-1zM575 666h1v1h-1zM576 667h1v1h-1zM577 667h1v2h-1zM578 665h1v2h-1zM579 663h1v2h-1zM580 661h1v2h-1zM581 659h1v2h-1zM582 660h1v2h-1zM583 662h1v1h-1zM584 663h1v2h-1zM585 665h1v1h-1zM586 663h1v2h-1zM587 661h1v2h-1zM588 659h1v2h-1zM589 658h1v1h-1zM590 658h1v1h-1zM591 658h1v1h-1zM592 658h1v1h-1zM593 658h1v1h-1zM594 658h1v1h-1zM595 658h1v1h-1zM596 657h1v1h-1zM597 657h1v1h-1zM598 657h1v1h-1zM599 658h1v1h-1zM600 658h1v1h-1zM601 659h1v1h-1zM602 659h1v1h-1zM603 659h1v1h-1zM604 658h1v1h-1zM605 658h1v1h-1zM606 657h1v1h-1zM607 657h1v1h-1zM608 656h1v1h-1zM609 655h1v1h-1zM610 656h1v1h-1zM611 657h1v1h-1zM612 658h1v1h-1zM613 659h1v1h-1zM614 659h1v1h-1zM615 660h1v1h-1zM616 660h1v1h-1zM617 661h1v1h-1zM618 661h1v1h-1zM619 661h1v1h-1zM620 660h1v1h-1zM621 660h1v1h-1zM622 658h1v2h-1zM623 657h1v1h-1zM624 655h1v2h-1zM625 654h1v1h-1zM626 655h1v1h-1zM627 655h1v1h-1zM628 656h1v1h-1zM629 657h1v1h-1zM630 657h1v1h-1zM631 658h1v1h-1zM632 658h1v1h-1zM633 659h1v1h-1zM634 659h1v1h-1zM635 660h1v1h-1zM636 660h1v1h-1zM637 661h1v1h-1zM638 661h1v1h-1zM639 661h1v1h-1zM640 661h1v1h-1zM641 661h1v1h-1zM642 661h1v1h-1zM643 661h1v1h-1zM644 662h1v1h-1zM645 662h1v1h-1zM646 662h1v1h-1zM647 662h1v1h-1zM648 663h1v1h-1zM649 662h1v2h-1zM650 660h1v2h-1zM651 657h1v3h-1zM652 655h1v2h-1zM653 652h1v3h-1zM654 650h1v2h-1zM655 648h1v2h-1zM656 646h1v2h-1zM657 645h1v1h-1zM658 644h1v1h-1zM659 643h1v1h-1zM660 642h1v1h-1zM661 641h1v1h-1zM662 640h1v1h-1zM663 638h1v2h-1zM664 637h1v1h-1zM665 636h1v1h-1zM666 636h1v1h-1zM667 637h1v1h-1zM668 637h1v1h-1zM669 638h1v1h-1zM670 637h1v1h-1zM671 636h1v1h-1zM672 635h1v1h-1zM673 634h1v1h-1zM674 634h1v1h-1zM675 635h1v1h-1zM676 635h1v1h-1zM677 636h1v1h-1zM678 636h1v1h-1zM679 637h1v1h-1zM680 637h1v1h-1zM681 638h1v1h-1zM682 638h1v1h-1zM683 637h1v1h-1zM684 637h1v1h-1zM685 636h1v1h-1zM686 636h1v1h-1zM687 635h1v1h-1zM688 635h1v1h-1zM689 634h1v1h-1zM690 634h1v1h-1zM691 635h1v1h-1zM692 635h1v1h-1zM693 636h1v1h-1zM694 637h1v1h-1zM695 638h1v1h-1zM696 639h1v1h-1zM697 640h1v1h-1zM698 640h1v1h-1zM699 641h1v1h-1zM700 641h1v1h-1zM701 642h1v1h-1zM702 643h1v1h-1zM703 643h1v1h-1zM704 644h1v1h-1zM705 645h1v2h-1zM706 647h1v2h-1zM707 649h1v3h-1zM708 652h1v2h-1zM709 654h1v2h-1zM710 656h1v1h-1zM711 657h1v1h-1zM712 658h1v1h-1zM713 659h1v1h-1zM714 659h1v1h-1zM715 659h1v1h-1zM716 659h1v1h-1zM717 659h1v1h-1zM718 659h1v1h-1zM719 659h1v1h-1zM720 658h1v1h-1zM721 658h1v1h-1zM722 657h1v1h-1zM723 655h1v2h-1zM724 654h1v1h-1zM725 653h1v1h-1zM726 654h1v2h-1zM727 656h1v2h-1zM728 658h1v2h-1zM729 660h1v1h-1zM730 660h1v1h-1zM731 660h1v1h-1zM732 659h1v1h-1zM733 659h1v1h-1zM734 659h1v1h-1zM735 658h1v1h-1zM736 658h1v1h-1zM737 657h1v1h-1zM738 657h1v1h-1zM739 657h1v1h-1zM740 658h1v1h-1zM741 658h1v1h-1zM742 658h1v1h-1zM743 659h1v1h-1zM744 659h1v1h-1zM745 660h1v1h-1zM746 661h1v2h-1zM747 663h1v1h-1zM748 664h1v2h-1zM749 666h1v1h-1zM750 666h1v1h-1zM751 666h1v1h-1zM752 667h1v1h-1zM753 666h1v2h-1zM754 662h1v4h-1zM755 659h1v3h-1zM756 655h1v4h-1zM757 653h1v2h-1zM758 653h1v1h-1zM759 652h1v1h-1zM760 652h1v1h-1zM761 651h1v1h-1zM762 651h1v1h-1zM763 650h1v1h-1zM764 650h1v1h-1zM765 649h1v1h-1zM766 650h1v1h-1zM767 651h1v1h-1zM768 652h1v1h-1zM769 653h1v1h-1zM770 654h1v1h-1zM771 655h1v1h-1zM772 656h1v1h-1zM773 657h1v1h-1zM774 657h1v1h-1zM775 657h1v1h-1zM776 656h1v1h-1zM777 655h1v2h-1zM778 653h1v2h-1zM779 651h1v2h-1zM780 649h1v2h-1zM781 648h1v1h-1zM782 646h1v2h-1zM783 645h1v1h-1zM784 643h1v2h-1zM785 642h1v1h-1zM786 642h1v1h-1zM787 642h1v1h-1zM788 643h1v1h-1zM789 643h1v1h-1zM790 644h1v2h-1zM791 646h1v1h-1zM792 647h1v2h-1zM793 649h1v1h-1zM794 649h1v1h-1zM795 650h1v1h-1zM796 650h1v1h-1zM797 651h1v1h-1zM798 651h1v1h-1zM799 651h1v1h-1zM800 651h1v1h-1zM801 650h1v2h-1zM802 647h1v3h-1zM803 644h1v3h-1zM804 641h1v3h-1zM805 639h1v2h-1zM806 638h1v1h-1zM807 638h1v1h-1zM808 637h1v1h-1zM809 636h1v1h-1zM810 636h1v1h-1zM811 636h1v1h-1zM812 635h1v1h-1zM813 635h1v1h-1zM814 635h1v1h-1zM815 634h1v1h-1zM816 634h1v1h-1zM817 633h1v1h-1zM818 633h1v1h-1zM819 634h1v1h-1zM820 634h1v1h-1zM821 635h1v1h-1zM822 635h1v1h-1zM823 636h1v1h-1zM824 636h1v1h-1zM825 637h1v2h-1zM826 639h1v2h-1zM827 641h1v2h-1zM828 643h1v2h-1zM829 645h1v1h-1zM830 645h1v1h-1zM831 644h1v1h-1zM832 644h1v1h-1zM833 643h1v1h-1zM834 643h1v1h-1zM835 644h1v1h-1zM836 644h1v1h-1zM837 645h1v1h-1zM838 644h1v1h-1zM839 643h1v1h-1zM840 642h1v1h-1zM841 641h1v1h-1zM842 640h1v1h-1zM843 640h1v1h-1zM844 639h1v1h-1zM845 638h1v1h-1zM846 638h1v1h-1zM847 637h1v1h-1zM848 637h1v1h-1zM849 636h1v1h-1zM850 635h1v1h-1zM851 635h1v1h-1zM852 634h1v1h-1zM853 633h1v1h-1zM854 632h1v1h-1zM855 632h1v1h-1zM856 631h1v1h-1zM857 630h1v1h-1zM858 630h1v1h-1zM859 631h1v1h-1zM860 631h1v1h-1zM861 632h1v1h-1zM862 632h1v1h-1zM863 632h1v1h-1zM864 632h1v1h-1zM865 632h1v1h-1zM866 633h1v1h-1zM867 633h1v1h-1zM868 634h1v1h-1zM869 635h1v1h-1zM870 635h1v1h-1zM871 635h1v1h-1zM872 636h1v1h-1zM873 636h1v1h-1zM874 636h1v1h-1zM875 637h1v1h-1zM876 637h1v1h-1zM877 638h1v2h-1zM878 640h1v2h-1zM879 642h1v2h-1zM880 644h1v2h-1zM881 646h1v1h-1zM882 646h1v1h-1zM883 646h1v1h-1zM884 647h1v1h-1zM885 647h1v1h-1zM886 647h1v1h-1zM887 647h1v1h-1zM888 648h1v1h-1zM889 648h1v1h-1zM890 648h1v1h-1zM891 649h1v1h-1zM892 649h1v1h-1zM893 650h1v1h-1zM894 651h1v1h-1zM895 651h1v1h-1zM896 652h1v1h-1zM897 653h1v2h-1zM898 655h1v3h-1zM899 658h1v2h-1zM900 660h1v3h-1zM901 663h1v2h-1zM902 661h1v2h-1zM903 658h1v3h-1zM904 656h1v2h-1zM905 654h1v2h-1zM906 654h1v1h-1zM907 654h1v1h-1zM908 653h1v1h-1zM909 653h1v1h-1zM910 653h1v1h-1zM911 653h1v1h-1zM912 653h1v1h-1zM913 653h1v1h-1zM914 652h1v1h-1zM915 652h1v1h-1zM916 651h1v1h-1zM917 650h1v1h-1zM918 651h1v2h-1zM919 653h1v1h-1zM920 654h1v2h-1zM921 656h1v1h-1zM922 656h1v1h-1zM923 656h1v1h-1zM924 657h1v1h-1zM925 657h1v1h-1zM926 657h1v1h-1zM927 658h1v1h-1zM928 658h1v1h-1zM929 659h1v1h-1zM930 659h1v1h-1zM931 659h1v1h-1zM932 659h1v1h-1zM933 659h1v1h-1zM934 660h1v1h-1zM935 660h1v1h-1zM936 661h1v1h-1zM937 662h1v1h-1zM938 661h1v1h-1zM939 660h1v1h-1zM940 659h1v1h-1zM941 658h1v1h-1zM942 658h1v1h-1zM943 658h1v1h-1zM944 659h1v1h-1zM945 659h1v1h-1zM946 660h1v1h-1zM947 660h1v1h-1zM948 661h1v1h-1zM949 662h1v1h-1zM950 662h1v1h-1zM951 662h1v1h-1zM952 662h1v1h-1zM953 662h1v1h-1zM954 662h1v1h-1zM955 662h1v1h-1zM956 662h1v1h-1zM957 660h1v3h-1zM958 656h1v4h-1zM959 652h1v4h-1zM960 648h1v4h-1zM961 646h1v2h-1zM962 644h1v2h-1zM963 643h1v1h-1zM964 641h1v2h-1zM965 640h1v1h-1zM966 640h1v1h-1zM967 639h1v1h-1zM968 639h1v1h-1zM969 638h1v1h-1zM970 639h1v2h-1zM971 641h1v1h-1zM972 642h1v2h-1zM973 644h1v1h-1zM974 644h1v1h-1zM975 644h1v1h-1zM976 644h1v1h-1zM977 644h1v1h-1zM978 644h1v1h-1zM979 643h1v1h-1zM980 643h1v1h-1zM981 642h1v1h-1zM982 642h1v1h-1zM983 643h1v1h-1zM984 643h1v1h-1zM985 644h1v1h-1zM986 645h1v2h-1zM987 647h1v1h-1zM988 648h1v2h-1zM989 649h1v2h-1zM990 647h1v2h-1zM991 644h1v3h-1zM992 642h1v2h-1zM993 639h1v3h-1zM994 637h1v2h-1zM995 635h1v2h-1zM996 633h1v2h-1zM997 632h1v1h-1zM998 633h1v2h-1zM999 635h1v2h-1zM1000 637h1v2h-1zM1001 639h1v1h-1zM1002 639h1v1h-1zM1003 639h1v1h-1zM1004 640h1v1h-1zM1005 640h1v1h-1zM1006 639h1v1h-1zM1007 637h1v2h-1zM1008 636h1v1h-1zM1009 635h1v2h-1zM1010 637h1v2h-1zM1011 639h1v3h-1zM1012 642h1v2h-1zM1013 644h1v2h-1zM1014 645h1v1h-1zM1015 644h1v1h-1zM1016 644h1v1h-1zM1017 643h1v1h-1zM1018 643h1v1h-1zM1019 642h1v1h-1zM1020 642h1v1h-1zM1021 641h1v1h-1zM1022 640h1v1h-1zM1023 639h1v1h-1zM1024 638h1v1h-1zM1025 637h1v1h-1zM1026 637h1v1h-1zM1027 637h1v1h-1zM1028 638h1v1h-1zM1029 638h1v1h-1zM1030 637h1v1h-1zM1031 637h1v1h-1zM1032 636h1v1h-1zM1033 635h1v1h-1zM1034 635h1v1h-1zM1035 634h1v1h-1zM1036 634h1v1h-1zM1037 633h1v1h-1zM1038 633h1v1h-1zM1039 634h1v1h-1zM1040 634h1v1h-1zM1041 635h1v1h-1zM1042 634h1v1h-1zM1043 634h1v1h-1zM1044 633h1v1h-1zM1045 632h1v1h-1zM1046 631h1v1h-1zM1047 629h1v2h-1zM1048 628h1v1h-1zM1049 627h1v1h-1zM1050 627h1v1h-1zM1051 628h1v1h-1zM1052 628h1v1h-1zM1053 629h1v1h-1zM1054 629h1v1h-1zM1055 628h1v1h-1zM1056 628h1v1h-1zM1057 627h1v1h-1zM1058 626h1v1h-1zM1059 625h1v1h-1zM1060 624h1v1h-1zM1061 623h1v1h-1zM1062 624h1v1h-1zM1063 624h1v1h-1zM1064 625h1v1h-1zM1065 626h1v1h-1zM1066 627h1v1h-1zM1067 628h1v1h-1zM1068 629h1v1h-1zM1069 630h1v2h-1zM1070 632h1v3h-1zM1071 635h1v2h-1zM1072 637h1v3h-1zM1073 640h1v2h-1zM1074 641h1v1h-1zM1075 641h1v1h-1zM1076 641h1v1h-1zM1077 641h1v1h-1zM1078 642h1v1h-1zM1079 643h1v2h-1zM1080 645h1v1h-1zM1081 646h1v2h-1zM1082 648h1v3h-1zM1083 651h1v2h-1zM1084 653h1v3h-1zM1085 656h1v2h-1zM1086 657h1v1h-1zM1087 658h1v1h-1zM1088 658h1v1h-1zM1089 659h1v1h-1zM1090 659h1v1h-1zM1091 659h1v1h-1zM1092 659h1v1h-1zM1093 658h1v2h-1zM1094 656h1v2h-1zM1095 653h1v3h-1zM1096 651h1v2h-1zM1097 649h1v2h-1zM1098 649h1v1h-1zM1099 649h1v1h-1zM1100 648h1v1h-1zM1101 648h1v1h-1zM1102 648h1v1h-1zM1103 648h1v1h-1zM1104 649h1v1h-1zM1105 649h1v1h-1zM1106 649h1v1h-1zM1107 649h1v1h-1zM1108 650h1v1h-1zM1109 650h1v1h-1zM1110 650h1v1h-1zM1111 650h1v1h-1zM1112 649h1v1h-1zM1113 649h1v1h-1zM1114 649h1v1h-1zM1115 649h1v1h-1zM1116 650h1v1h-1zM1117 650h1v1h-1zM1118 651h1v1h-1zM1119 652h1v1h-1zM1120 653h1v1h-1zM1121 654h1v1h-1zM1122 654h1v1h-1zM1123 654h1v1h-1zM1124 654h1v1h-1zM1125 654h1v1h-1zM1126 654h1v1h-1zM1127 655h1v1h-1zM1128 655h1v1h-1zM1129 656h1v1h-1zM1130 656h1v1h-1zM1131 657h1v1h-1zM1132 657h1v1h-1zM1133 658h1v1h-1zM1134 659h1v1h-1zM1135 660h1v1h-1zM1136 661h1v1h-1zM1137 662h1v1h-1zM1138 661h1v1h-1zM1139 661h1v1h-1zM1140 660h1v1h-1zM1141 659h1v1h-1zM1142 660h1v1h-1zM1143 661h1v1h-1zM1144 662h1v1h-1zM1145 663h1v1h-1zM1146 663h1v1h-1zM1147 663h1v1h-1zM1148 663h1v1h-1zM1149 663h1v2h-1zM1150 665h1v2h-1zM1151 667h1v2h-1zM1152 669h1v2h-1zM1153 671h1v2h-1zM1154 672h1v1h-1zM1155 672h1v1h-1zM1156 673h1v1h-1zM1157 673h1v1h-1zM1158 673h1v1h-1zM1159 673h1v1h-1zM1160 674h1v1h-1zM1161 674h1v1h-1zM1162 675h1v1h-1zM1163 675h1v1h-1zM1164 676h1v1h-1zM1165 677h1v1h-1zM1166 677h1v1h-1zM1167 677h1v1h-1zM1168 678h1v1h-1zM1169 678h1v1h-1zM1170 678h1v1h-1zM1171 678h1v1h-1zM1172 677h1v1h-1zM1173 677h1v1h-1zM1174 677h1v1h-1zM1175 677h1v1h-1zM1176 678h1v1h-1zM1177 677h1v2h-1zM1178 674h1v3h-1zM1179 672h1v2h-1zM1180 669h1v3h-1zM1181 667h1v2h-1zM1182 665h1v2h-1zM1183 664h1v1h-1zM1184 662h1v2h-1zM1185 661h1v1h-1zM1186 661h1v1h-1zM1187 662h1v1h-1zM1188 662h1v1h-1zM1189 663h1v1h-1zM1190 664h1v2h-1zM1191 666h1v2h-1zM1192 668h1v2h-1zM1193 670h1v1h-1zM1194 670h1v1h-1zM1195 670h1v1h-1zM1196 671h1v1h-1zM1197 671h1v1h-1zM1198 671h1v1h-1zM1199 670h1v1h-1zM1200 670h1v1h-1zM1201 668h1v2h-1zM1202 665h1v3h-1zM1203 663h1v2h-1zM1204 660h1v3h-1zM1205 658h1v2h-1zM1206 657h1v1h-1zM1207 655h1v2h-1zM1208 654h1v1h-1zM1209 653h1v1h-1zM1210 653h1v1h-1zM1211 654h1v1h-1zM1212 654h1v1h-1zM1213 655h1v1h-1zM1214 655h1v1h-1zM1215 656h1v1h-1zM1216 656h1v1h-1zM1217 657h1v1h-1zM1218 657h1v1h-1zM1219 657h1v1h-1zM1220 658h1v1h-1zM1221 658h1v1h-1zM1222 658h1v1h-1zM1223 658h1v1h-1zM1224 658h1v1h-1zM1225 658h1v1h-1zM1226 659h1v1h-1zM1227 659h1v1h-1zM1228 660h1v1h-1zM1229 661h1v1h-1zM1230 662h1v1h-1zM1231 663h1v1h-1zM1232 664h1v1h-1zM1233 665h1v1h-1zM1234 666h1v2h-1zM1235 668h1v1h-1zM1236 669h1v2h-1zM1237 671h1v1h-1zM1238 671h1v1h-1zM1239 670h1v1h-1zM1240 670h1v1h-1zM1241 669h1v1h-1zM1242 669h1v1h-1zM1243 669h1v1h-1zM1244 669h1v1h-1zM1245 669h1v1h-1zM1246 669h1v1h-1zM1247 670h1v1h-1zM1248 670h1v1h-1zM1249 671h1v1h-1zM1250 671h1v1h-1zM1251 672h1v1h-1zM1252 672h1v1h-1zM1253 673h1v1h-1zM1254 674h1v1h-1zM1255 675h1v2h-1zM1256 677h1v1h-1zM1257 677h1v2h-1zM1258 675h1v2h-1zM1259 673h1v2h-1zM1260 671h1v2h-1zM1261 670h1v2h-1zM1262 672h1v2h-1zM1263 674h1v3h-1zM1264 677h1v2h-1zM1265 679h1v2h-1zM1266 675h1v4h-1zM1267 672h1v3h-1zM1268 668h1v4h-1zM1269 666h1v2h-1zM1270 666h1v1h-1zM1271 666h1v1h-1zM1272 667h1v1h-1zM1273 665h1v3h-1zM1274 661h1v4h-1zM1275 657h1v4h-1zM1276 653h1v4h-1zM1277 651h1v2h-1zM1278 651h1v1h-1zM1279 651h1v1h-1zM1280 651h1v1h-1zM1281 651h1v1h-1zM1282 651h1v1h-1zM1283 652h1v1h-1zM1284 652h1v1h-1zM1285 653h1v1h-1zM1286 652h1v1h-1zM1287 652h1v1h-1zM1288 651h1v1h-1zM1289 650h1v1h-1zM1290 650h1v1h-1zM1291 649h1v1h-1zM1292 649h1v1h-1zM1293 648h1v1h-1zM1294 648h1v1h-1zM1295 647h1v1h-1zM1296 647h1v1h-1zM1297 646h1v3h-1zM1298 649h1v4h-1zM1299 653h1v5h-1zM1300 658h1v4h-1zM1301 662h1v3h-1zM1302 663h1v1h-1zM1303 661h1v2h-1zM1304 660h1v1h-1zM1305 659h1v1h-1z"/>
<g clip-path="url(#cd)" shape-rendering="crispEdges">
<rect x="13" y="745" width="1" height="2" fill="#c0c0c0" />
<rect x="17" y="745" width="1" height="5" fill="#c0c0c0" />
<rect x="21" y="745" width="1" height="8" fill="#c0c0c0" />
<rect x="25" y="745" width="1" height="10" fill="#c0c0c0" />
<rect x="29" y="745" width="1" height="12" fill="#c0c0c0" />
<rect x="33" y="745" width="1" height="17" fill="#c0c0c0" />
<rect x="37" y="745" width="1" height="20" fill="#c0c0c0" />
<rect x="41" y="745" width="1" height="22" fill="#c0c0c0" />
<rect x="45" y="745" width="1" height="22" fill="#c0c0c0" />
<rect x="49" y="745" width="1" height="22" fill="#c0c0c0" />
<rect x="53" y="745" width="1" height="19" fill="#c0c0c0" />
<rect x="57" y="745" width="1" height="17" fill="#c0c0c0" />
<rect x="61" y="745" width="1" height="17" fill="#c0c0c0" />
<rect x="65" y="745" width="1" height="14" fill="#c0c0c0" />
<rect x="69" y="745" width="1" height="13" fill="#c0c0c0" />
<rect x="73" y="745" width="1" height="10" fill="#c0c0c0" />
<rect x="77" y="745" width="1" height="8" fill="#c0c0c0" />
<rect x="81" y="745" width="1" height="7" fill="#c0c0c0" />
<rect x="85" y="745" width="1" height="5" fill="#c0c0c0" />
<rect x="89" y="745" width="1" height="4" fill="#c0c0c0" />
<rect x="93" y="745" width="1" height="5" fill="#c0c0c0" />
<rect x="97" y="745" width="1" height="3" fill="#c0c0c0" />
<rect x="101" y="744" width="1" height="1" fill="#c0c0c0" />
<rect x="105" y="745" width="1" height="1" fill="#c0c0c0" />
<rect x="109" y="745" width="1" height="2" fill="#c0c0c0" />
<rect x="113" y="745" width="1" height="1" fill="#c0c0c0" />
<rect x="117" y="745" width="1" height="1" fill="#c0c0c0" />
<rect x="121" y="744" width="1" height="1" fill="#c0c0c0" />
<rect x="125" y="745" width="1" height="2" fill="#c0c0c0" />
<rect x="133" y="744" width="1" height="1" fill="#c0c0c0" />
<rect x="137" y="744" width="1" height="1" fill="#c0c0c0" />
<rect x="141" y="744" width="1" height="1" fill="#c0c0c0" />
<rect x="145" y="742" width="1" height="3" fill="#c0c0c0" />
<rect x="149" y="741" width="1" height="4" fill="#c0c0c0" />
<rect x="153" y="737" width="1" height="8" fill="#c0c0c0" />
<rect x="157" y="737" width="1" height="8" fill="#c0c0c0" />
<rect x="161" y="734" width="1" height="11" fill="#c0c0c0" />
<rect x="165" y="732" width="1" height="13" fill="#c0c0c0" />
<rect x="169" y="729" width="1" height="16" fill="#c0c0c0" />
<rect x="173" y="728" width="1" height="17" fill="#c0c0c0" />
<rect x="177" y="728" width="1" height="17" fill="#c0c0c0" />
<rect x="181" y="730" width="1" height="15" fill="#c0c0c0" />
<rect x="185" y="731" width="1" height="14" fill="#c0c0c0" />
<rect x="189" y="732" width="1" height="13" fill="#c0c0c0" />
<rect x="193" y="734" width="1" height="11" fill="#c0c0c0" />
<rect x="197" y="738" width="1" height="7" fill="#c0c0c0" />
<rect x="201" y="745" width="1" height="1" fill="#c0c0c0" />
<rect x="205" y="745" width="1" height="9" fill="#c0c0c0" />
<rect x="209" y="745" width="1" height="12" fill="#c0c0c0" />
<rect x="213" y="745" width="1" height="15" fill="#c0c0c0" />
<rect x="217" y="745" width="1" height="16" fill="#c0c0c0" />
<rect x="221" y="745" width="1" height="17" fill="#c0c0c0" />
<rect x="225" y="745" width="1" height="19" fill="#c0c0c0" />
<rect x="229" y="745" width="1" height="22" fill="#c0c0c0" />
<rect x="233" y="745" width="1" height="23" fill="#c0c0c0" />
<rect x="237" y="745" width="1" height="23" fill="#c0c0c0" />
<rect x="241" y="745" width="1" height="25" fill="#c0c0c0" />
<rect x="245" y="745" width="1" height="26" fill="#c0c0c0" />
<rect x="249" y="745" width="1" height="26" fill="#c0c0c0" />
<rect x="253" y="745" width="1" height="27" fill="#c0c0c0" />
<rect x="257" y="745" width="1" height="27" fill="#c0c0c0" />
<rect x="261" y="745" width="1" height="26" fill="#c0c0c0" />
<rect x="265" y="745" width="1" height="29" fill="#c0c0c0" />
<rect x="269" y="745" width="1" height="30" fill="#c0c0c0" />
<rect x="273" y="745" width="1" height="33" fill="#c0c0c0" />
<rect x="277" y="745" width="1" height="36" fill="#c0c0c0" />
<rect x="281" y="745" width="1" height="40" fill="#c0c0c0" />
<rect x="285" y="745" width="1" height="43" fill="#c0c0c0" />
<rect x="289" y="745" width="1" height="42" fill="#c0c0c0" />
<rect x="293" y="745" width="1" height="43" fill="#c0c0c0" />
<rect x="297" y="745" width="1" height="43" fill="#c0c0c0" />
<rect x="301" y="745" width="1" height="41" fill="#c0c0c0" />
<rect x="305" y="745" width="1" height="38" fill="#c0c0c0" />
<rect x="309" y="745" width="1" height="34" fill="#c0c0c0" />
<rect x="313" y="745" width="1" height="32" fill="#c0c0c0" />
<rect x="317" y="745" width="1" height="29" fill="#c0c0c0" />
<rect x="321" y="745" width="1" height="27" fill="#c0c0c0" />
<rect x="325" y="745" width="1" height="26" fill="#c0c0c0" />
<rect x="329" y="745" width="1" height="23" fill="#c0c0c0" />
<rect x="333" y="745" width="1" height="20" fill="#c0c0c0" />
<rect x="337" y="745" width="1" height="17" fill="#c0c0c0" />
<rect x="341" y="745" width="1" height="11" fill="#c0c0c0" />
<rect x="345" y="745" width="1" height="8" fill="#c0c0c0" />
<rect x="349" y="745" width="1" height="5" fill="#c0c0c0" />
<rect x="353" y="745" width="1" height="1" fill="#c0c0c0" />
<rect x="357" y="742" width="1" height="3" fill="#c0c0c0" />
<rect x="361" y="743" width="1" height="2" fill="#c0c0c0" />
<rect x="365" y="743" width="1" height="2" fill="#c0c0c0" />
<rect x="373" y="745" width="1" height="3" fill="#c0c0c0" />
<rect x="377" y="745" width="1" height="9" fill="#c0c0c0" />
<rect x="381" y="745" width="1" height="13" fill="#c0c0c0" />
<rect x="385" y="745" width="1" height="17" fill="#c0c0c0" />
<rect x="389" y="745" width="1" height="18" fill="#c0c0c0" />
<rect x="393" y="745" width="1" height="20" fill="#c0c0c0" />
<rect x="397" y="745" width="1" height="17" fill="#c0c0c0" />
<rect x="401" y="745" width="1" height="15" fill="#c0c0c0" />
<rect x="405" y="745" width="1" height="13" fill="#c0c0c0" />
<rect x="409" y="745" width="1" height="8" fill="#c0c0c0" />
<rect x="413" y="745" width="1" height="4" fill="#c0c0c0" />
<rect x="421" y="740" width="1" height="5" fill="#c0c0c0" />
<rect x="425" y="737" width="1" height="8" fill="#c0c0c0" />
<rect x="429" y="733" width="1" height="12" fill="#c0c0c0" />
<rect x="433" y="734" width="1" height="11" fill="#c0c0c0" />
<rect x="437" y="733" width="1" height="12" fill="#c0c0c0" />
<rect x="441" y="730" width="1" height="15" fill="#c0c0c0" />
<rect x="445" y="728" width="1" height="17" fill="#c0c0c0" />
<rect x="449" y="731" width="1" height="14" fill="#c0c0c0" />
<rect x="453" y="732" width="1" height="13" fill="#c0c0c0" />
<rect x="457" y="734" width="1" height="11" fill="#c0c0c0" />
<rect x="461" y="738" width="1" height="7" fill="#c0c0c0" />
<rect x="465" y="740" width="1" height="5" fill="#c0c0c0" />
<rect x="469" y="739" width="1" height="6" fill="#c0c0c0" />
<rect x="473" y="737" width="1" height="8" fill="#c0c0c0" />
<rect x="477" y="735" width="1" height="10" fill="#c0c0c0" />
<rect x="481" y="732" width="1" height="13" fill="#c0c0c0" />
<rect x="485" y="731" width="1" height="14" fill="#c0c0c0" />
<rect x="489" y="730" width="1" height="15" fill="#c0c0c0" />
<rect x="493" y="729" width="1" height="16" fill="#c0c0c0" />
<rect x="497" y="728" width="1" height="17" fill="#c0c0c0" />
<rect x="501" y="727" width="1" height="18" fill="#c0c0c0" />
<rect x="505" y="727" width="1" height="18" fill="#c0c0c0" />
<rect x="509" y="729" width="1" height="16" fill="#c0c0c0" />
<rect x="513" y="733" width="1" height="12" fill="#c0c0c0" />
<rect x="517" y="738" width="1" height="7" fill="#c0c0c0" />
<rect x="525" y="745" width="1" height="5" fill="#c0c0c0" />
<rect x="529" y="745" width="1" height="10" fill="#c0c0c0" />
<rect x="533" y="745" width="1" height="15" fill="#c0c0c0" />
<rect x="537" y="745" width="1" height="18" fill="#c0c0c0" />
<rect x="541" y="745" width="1" height="22" fill="#c0c0c0" />
<rect x="545" y="745" width="1" height="29" fill="#c0c0c0" />
<rect x="549" y="745" width="1" height="34" fill="#c0c0c0" />
<rect x="553" y="745" width="1" height="40" fill="#c0c0c0" />
<rect x="557" y="745" width="1" height="44" fill="#c0c0c0" />
<rect x="561" y="745" width="1" height="47" fill="#c0c0c0" />
<rect x="565" y="745" width="1" height="46" fill="#c0c0c0" />
<rect x="569" y="745" width="1" height="45" fill="#c0c0c0" />
<rect x="573" y="745" width="1" height="45" fill="#c0c0c0" />
<rect x="577" y="745" width="1" height="46" fill="#c0c0c0" />
<rect x="581" y="745" width="1" height="43" fill="#c0c0c0" />
<rect x="585" y="745" width="1" height="45" fill="#c0c0c0" />
<rect x="589" y="745" width="1" height="43" fill="#c0c0c0" />
<rect x="593" y="745" width="1" height="41" fill="#c0c0c0" />
<rect x="597" y="745" width="1" height="38" fill="#c0c0c0" />
<rect x="601" y="745" width="1" height="37" fill="#c0c0c0" />
<rect x="605" y="745" width="1" height="35" fill="#c0c0c0" />
<rect x="609" y="745" width="1" height="32" fill="#c0c0c0" />
<rect x="613" y="745" width="1" height="31" fill="#c0c0c0" />
<rect x="617" y="745" width="1" height="32" fill="#c0c0c0" />
<rect x="621" y="745" width="1" height="31" fill="#c0c0c0" />
<rect x="625" y="745" width="1" height="28" fill="#c0c0c0" />
<rect x="629" y="745" width="1" height="27" fill="#c0c0c0" />
<rect x="633" y="745" width="1" height="27" fill="#c0c0c0" />
<rect x="637" y="745" width="1" height="28" fill="#c0c0c0" />
<rect x="641" y="745" width="1" height="28" fill="#c0c0c0" />
<rect x="645" y="745" width="1" height="28" fill="#c0c0c0" />
<rect x="649" y="745" width="1" height="28" fill="#c0c0c0" />
<rect x="653" y="745" width="1" height="26" fill="#c0c0c0" />
<rect x="657" y="745" width="1" height="21" fill="#c0c0c0" />
<rect x="661" y="745" width="1" height="15" fill="#c0c0c0" />
<rect x="665" y="745" width="1" height="8" fill="#c0c0c0" />
<rect x="669" y="745" width="1" height="2" fill="#c0c0c0" />
<rect x="673" y="742" width="1" height="3" fill="#c0c0c0" />
<rect x="677" y="738" width="1" height="7" fill="#c0c0c0" />
<rect x="681" y="735" width="1" height="10" fill="#c0c0c0" />
<rect x="685" y="732" width="1" height="13" fill="#c0c0c0" />
<rect x="689" y="729" width="1" height="16" fill="#c0c0c0" />
<rect x="693" y="728" width="1" height="17" fill="#c0c0c0" />
<rect x="697" y="728" width="1" height="17" fill="#c0c0c0" />
<rect x="701" y="728" width="1" height="17" fill="#c0c0c0" />
<rect x="705" y="730" width="1" height="15" fill="#c0c0c0" />
<rect x="709" y="735" width="1" height="10" fill="#c0c0c0" />
<rect x="713" y="740" width="1" height="5" fill="#c0c0c0" />
<rect x="721" y="745" width="1" height="3" fill="#c0c0c0" />
<rect x="725" y="745" width="1" height="4" fill="#c0c0c0" />
<rect x="729" y="745" width="1" height="8" fill="#c0c0c0" />
<rect x="733" y="745" width="1" height="10" fill="#c0c0c0" />
<rect x="737" y="745" width="1" height="11" fill="#c0c0c0" />
<rect x="741" y="745" width="1" height="13" fill="#c0c0c0" />
<rect x="745" y="745" width="1" height="14" fill="#c0c0c0" />
<rect x="749" y="745" width="1" height="18" fill="#c0c0c0" />
<rect x="753" y="745" width="1" height="21" fill="#c0c0c0" />
<rect x="757" y="745" width="1" height="20" fill="#c0c0c0" />
<rect x="761" y="745" width="1" height="18" fill="#c0c0c0" />
<rect x="765" y="745" width="1" height="15" fill="#c0c0c0" />
<rect x="769" y="745" width="1" height="15" fill="#c0c0c0" />
<rect x="773" y="745" width="1" height="16" fill="#c0c0c0" />
<rect x="777" y="745" width="1" height="16" fill="#c0c0c0" />
<rect x="781" y="745" width="1" height="14" fill="#c0c0c0" />
<rect x="785" y="745" width="1" height="9" fill="#c0c0c0" />
<rect x="789" y="745" width="1" height="6" fill="#c0c0c0" />
<rect x="793" y="745" width="1" height="5" fill="#c0c0c0" />
<rect x="797" y="745" width="1" height="6" fill="#c0c0c0" />
<rect x="801" y="745" width="1" height="6" fill="#c0c0c0" />
<rect x="805" y="745" width="1" height="1" fill="#c0c0c0" />
<rect x="809" y="741" width="1" height="4" fill="#c0c0c0" />
<rect x="813" y="737" width="1" height="8" fill="#c0c0c0" />
<rect x="817" y="733" width="1" height="12" fill="#c0c0c0" />
<rect x="821" y="730" width="1" height="15" fill="#c0c0c0" />
<rect x="825" y="728" width="1" height="17" fill="#c0c0c0" />
<rect x="829" y="730" width="1" height="15" fill="#c0c0c0" />
<rect x="833" y="730" width="1" height="15" fill="#c0c0c0" />
<rect x="837" y="732" width="1" height="13" fill="#c0c0c0" />
<rect x="841" y="731" width="1" height="14" fill="#c0c0c0" />
<rect x="845" y="730" width="1" height="15" fill="#c0c0c0" />
<rect x="849" y="728" width="1" height="17" fill="#c0c0c0" />
<rect x="853" y="726" width="1" height="19" fill="#c0c0c0" />
<rect x="857" y="723" width="1" height="22" fill="#c0c0c0" />
<rect x="861" y="721" width="1" height="24" fill="#c0c0c0" />
<rect x="865" y="720" width="1" height="25" fill="#c0c0c0" />
<rect x="869" y="720" width="1" height="25" fill="#c0c0c0" />
<rect x="873" y="721" width="1" height="24" fill="#c0c0c0" />
<rect x="877" y="722" width="1" height="23" fill="#c0c0c0" />
<rect x="881" y="725" width="1" height="20" fill="#c0c0c0" />
<rect x="885" y="728" width="1" height="17" fill="#c0c0c0" />
<rect x="889" y="730" width="1" height="15" fill="#c0c0c0" />
<rect x="893" y="733" width="1" height="12" fill="#c0c0c0" />
<rect x="897" y="736" width="1" height="9" fill="#c0c0c0" />
<rect x="901" y="743" width="1" height="2" fill="#c0c0c0" />
<rect x="909" y="745" width="1" height="2" fill="#c0c0c0" />
<rect x="913" y="745" width="1" height="3" fill="#c0c0c0" />
<rect x="917" y="745" width="1" height="3" fill="#c0c0c0" />
<rect x="921" y="745" width="1" height="5" fill="#c0c0c0" />
<rect x="925" y="745" width="1" height="7" fill="#c0c0c0" />
<rect x="929" y="745" width="1" height="9" fill="#c0c0c0" />
<rect x="933" y="745" width="1" height="10" fill="#c0c0c0" />
<rect x="937" y="745" width="1" height="12" fill="#c0c0c0" />
<rect x="941" y="745" width="1" height="13" fill="#c0c0c0" />
<rect x="945" y="745" width="1" height="14" fill="#c0c0c0" />
<rect x="949" y="745" width="1" height="15" fill="#c0c0c0" />
<rect x="953" y="745" width="1" height="16" fill="#c0c0c0" />
<rect x="957" y="745" width="1" height="16" fill="#c0c0c0" />
<rect x="961" y="745" width="1" height="13" fill="#c0c0c0" />
<rect x="965" y="745" width="1" height="9" fill="#c0c0c0" />
<rect x="969" y="745" width="1" height="5" fill="#c0c0c0" />
<rect x="973" y="745" width="1" height="3" fill="#c0c0c0" />
<rect x="977" y="745" width="1" height="1" fill="#c0c0c0" />
<rect x="981" y="744" width="1" height="1" fill="#c0c0c0" />
<rect x="985" y="744" width="1" height="1" fill="#c0c0c0" />
<rect x="989" y="744" width="1" height="1" fill="#c0c0c0" />
<rect x="993" y="742" width="1" height="3" fill="#c0c0c0" />
<rect x="997" y="737" width="1" height="8" fill="#c0c0c0" />
<rect x="1001" y="735" width="1" height="10" fill="#c0c0c0" />
<rect x="1005" y="734" width="1" height="11" fill="#c0c0c0" />
<rect x="1009" y="731" width="1" height="14" fill="#c0c0c0" />
<rect x="1013" y="732" width="1" height="13" fill="#c0c0c0" />
<rect x="1017" y="732" width="1" height="13" fill="#c0c0c0" />
<rect x="1021" y="732" width="1" height="13" fill="#c0c0c0" />
<rect x="1025" y="730" width="1" height="15" fill="#c0c0c0" />
<rect x="1029" y="729" width="1" height="16" fill="#c0c0c0" />
<rect x="1033" y="727" width="1" height="18" fill="#c0c0c0" />
<rect x="1037" y="725" width="1" height="20" fill="#c0c0c0" />
<rect x="1041" y="724" width="1" height="21" fill="#c0c0c0" />
<rect x="1045" y="722" width="1" height="23" fill="#c0c0c0" />
<rect x="1049" y="718" width="1" height="27" fill="#c0c0c0" />
<rect x="1053" y="716" width="1" height="29" fill="#c0c0c0" />
<rect x="1057" y="713" width="1" height="32" fill="#c0c0c0" />
<rect x="1061" y="709" width="1" height="36" fill="#c0c0c0" />
<rect x="1065" y="707" width="1" height="38" fill="#c0c0c0" />
<rect x="1069" y="707" width="1" height="38" fill="#c0c0c0" />
<rect x="1073" y="710" width="1" height="35" fill="#c0c0c0" />
<rect x="1077" y="713" width="1" height="32" fill="#c0c0c0" />
<rect x="1081" y="718" width="1" height="27" fill="#c0c0c0" />
<rect x="1085" y="726" width="1" height="19" fill="#c0c0c0" />
<rect x="1089" y="733" width="1" height="12" fill="#c0c0c0" />
<rect x="1093" y="739" width="1" height="6" fill="#c0c0c0" />
<rect x="1097" y="740" width="1" height="5" fill="#c0c0c0" />
<rect x="1101" y="741" width="1" height="4" fill="#c0c0c0" />
<rect x="1105" y="742" width="1" height="3" fill="#c0c0c0" />
<rect x="1109" y="743" width="1" height="2" fill="#c0c0c0" />
<rect x="1113" y="744" width="1" height="1" fill="#c0c0c0" />
<rect x="1121" y="745" width="1" height="2" fill="#c0c0c0" />
<rect x="1125" y="745" width="1" height="3" fill="#c0c0c0" />
<rect x="1129" y="745" width="1" height="5" fill="#c0c0c0" />
<rect x="1133" y="745" width="1" height="7" fill="#c0c0c0" />
<rect x="1137" y="745" width="1" height="10" fill="#c0c0c0" />
<rect x="1141" y="745" width="1" height="12" fill="#c0c0c0" />
<rect x="1145" y="745" width="1" height="14" fill="#c0c0c0" />
<rect x="1149" y="745" width="1" height="16" fill="#c0c0c0" />
<rect x="1153" y="745" width="1" height="22" fill="#c0c0c0" />
<rect x="1157" y="745" width="1" height="27" fill="#c0c0c0" />
<rect x="1161" y="745" width="1" height="31" fill="#c0c0c0" />
<rect x="1165" y="745" width="1" height="36" fill="#c0c0c0" />
<rect x="1169" y="745" width="1" height="40" fill="#c0c0c0" />
<rect x="1173" y="745" width="1" height="43" fill="#c0c0c0" />
<rect x="1177" y="745" width="1" height="45" fill="#c0c0c0" />
<rect x="1181" y="745" width="1" height="44" fill="#c0c0c0" />
<rect x="1185" y="745" width="1" height="41" fill="#c0c0c0" />
<rect x="1189" y="745" width="1" height="39" fill="#c0c0c0" />
<rect x="1193" y="745" width="1" height="40" fill="#c0c0c0" />
<rect x="1197" y="745" width="1" height="42" fill="#c0c0c0" />
<rect x="1201" y="745" width="1" height="42" fill="#c0c0c0" />
<rect x="1205" y="745" width="1" height="39" fill="#c0c0c0" />
<rect x="1209" y="745" width="1" height="34" fill="#c0c0c0" />
<rect x="1213" y="745" width="1" height="31" fill="#c0c0c0" />
<rect x="1217" y="745" width="1" height="30" fill="#c0c0c0" />
<rect x="1221" y="745" width="1" height="28" fill="#c0c0c0" />
<rect x="1225" y="745" width="1" height="27" fill="#c0c0c0" />
<rect x="1229" y="745" width="1" height="27" fill="#c0c0c0" />
<rect x="1233" y="745" width="1" height="28" fill="#c0c0c0" />
<rect x="1237" y="745" width="1" height="31" fill="#c0c0c0" />
<rect x="1241" y="745" width="1" height="33" fill="#c0c0c0" />
<rect x="1245" y="745" width="1" height="35" fill="#c0c0c0" />
<rect x="1249" y="745" width="1" height="36" fill="#c0c0c0" />
<rect x="1253" y="745" width="1" height="38" fill="#c0c0c0" />
<rect x="1257" y="745" width="1" height="42" fill="#c0c0c0" />
<rect x="1261" y="745" width="1" height="43" fill="#c0c0c0" />
<rect x="1265" y="745" width="1" height="52" fill="#c0c0c0" />
<rect x="1269" y="745" width="1" height="54" fill="#c0c0c0" />
<rect x="1273" y="745" width="1" height="55" fill="#c0c0c0" />
<rect x="1277" y="745" width="1" height="48" fill="#c0c0c0" />
<rect x="1281" y="745" width="1" height="42" fill="#c0c0c0" />
<rect x="1285" y="745" width="1" height="38" fill="#c0c0c0" />
<rect x="1289" y="745" width="1" height="33" fill="#c0c0c0" />
<rect x="1293" y="745" width="1" height="28" fill="#c0c0c0" />
<rect x="1297" y="745" width="1" height="23" fill="#c0c0c0" />
<rect x="1301" y="745" width="1" height="31" fill="#c0c0c0" />
<rect x="1305" y="745" width="1" height="34" fill="#c0c0c0" />
</g>
<path clip-path="url(#cd)" shape-rendering="crispEdges" fill="#ff0000" d="M5 755h1v1h-1zM6 755h1v1h-1zM7 754h1v1h-1zM11 753h1v1h-1zM12 752h1v1h-1zM13 752h1v1h-1zM17 751h1v1h-1zM18 751h1v1h-1zM19 751h1v1h-1zM23 750h1v1h-1zM24 750h1v1h-1zM25 750h1v1h-1zM29 750h1v1h-1zM30 750h1v1h-1zM31 750h1v1h-1zM35 752h1v1h-1zM36 752h1v1h-1zM37 753h1v1h-1zM41 756h1v1h-1zM42 756h1v1h-1zM43 757h1v1h-1zM47 759h1v1h-1zM48 759h1v1h-1zM49 760h1v1h-1zM53 762h1v1h-1zM54 762h1v1h-1zM55 762h1v1h-1zM59 763h1v1h-1zM60 764h1v1h-1zM61 764h1v1h-1zM65 764h1v1h-1zM66 764h1v1h-1zM67 764h1v1h-1zM71 763h1v1h-1zM72 762h1v1h-1zM73 762h1v1h-1zM77 761h1v1h-1zM78 761h1v1h-1zM79 760h1v1h-1zM83 758h1v1h-1zM84 758h1v1h-1zM85 757h1v1h-1zM89 756h1v1h-1zM90 756h1v1h-1zM91 755h1v1h-1zM95 754h1v1h-1zM96 753h1v1h-1zM97 753h1v1h-1zM101 751h1v1h-1zM102 751h1v1h-1zM103 751h1v1h-1zM107 750h1v1h-1zM108 749h1v1h-1zM109 749h1v1h-1zM113 748h1v1h-1zM114 748h1v1h-1zM115 748h1v1h-1zM119 747h1v1h-1zM120 747h1v1h-1zM121 747h1v1h-1zM125 746h1v1h-1zM126 746h1v1h-1zM127 746h1v1h-1zM131 746h1v1h-1zM132 745h1v1h-1zM133 745h1v1h-1zM137 745h1v1h-1zM138 745h1v1h-1zM139 745h1v1h-1zM143 745h1v1h-1zM144 745h1v1h-1zM145 745h1v1h-1zM149 744h1v1h-1zM150 744h1v1h-1zM151 744h1v1h-1zM155 743h1v1h-1zM156 742h1v1h-1zM157 742h1v1h-1zM161 741h1v1h-1zM162 741h1v1h-1zM163 740h1v1h-1zM167 739h1v1h-1zM168 738h1v1h-1zM169 738h1v1h-1zM173 736h1v1h-1zM174 736h1v1h-1zM175 735h1v1h-1zM179 734h1v1h-1zM180 733h1v1h-1zM181 733h1v1h-1zM185 732h1v1h-1zM186 732h1v1h-1zM187 732h1v1h-1zM191 731h1v1h-1zM192 731h1v1h-1zM193 731h1v1h-1zM197 731h1v1h-1zM198 731h1v1h-1zM199 732h1v1h-1zM203 734h1v1h-1zM204 735h1v1h-1zM205 736h1v1h-1zM209 739h1v1h-1zM210 740h1v1h-1zM211 740h1v1h-1zM215 744h1v1h-1zM216 745h1v1h-1zM217 746h1v1h-1zM221 749h1v1h-1zM222 750h1v1h-1zM223 751h1v1h-1zM227 754h1v1h-1zM228 755h1v1h-1zM229 756h1v1h-1zM233 760h1v1h-1zM234 760h1v1h-1zM235 761h1v1h-1zM239 763h1v1h-1zM240 763h1v1h-1zM241 764h1v1h-1zM245 766h1v1h-1zM246 766h1v1h-1zM247 766h1v1h-1zM251 767h1v1h-1zM252 768h1v1h-1zM253 768h1v1h-1zM257 769h1v1h-1zM258 769h1v1h-1zM259 769h1v1h-1zM263 770h1v1h-1zM264 771h1v1h-1zM265 771h1v1h-1zM269 772h1v1h-1zM270 772h1v1h-1zM271 772h1v1h-1zM275 773h1v1h-1zM276 774h1v1h-1zM277 774h1v1h-1zM281 775h1v1h-1zM282 775h1v1h-1zM283 776h1v1h-1zM287 778h1v1h-1zM288 778h1v1h-1zM289 779h1v1h-1zM293 781h1v1h-1zM294 781h1v1h-1zM295 781h1v1h-1zM299 783h1v1h-1zM300 783h1v1h-1zM301 784h1v1h-1zM305 785h1v1h-1zM306 785h1v1h-1zM307 785h1v1h-1zM311 785h1v1h-1zM312 784h1v1h-1zM313 784h1v1h-1zM317 783h1v1h-1zM318 783h1v1h-1zM319 783h1v1h-1zM323 781h1v1h-1zM324 781h1v1h-1zM325 780h1v1h-1zM329 778h1v1h-1zM330 777h1v1h-1zM331 777h1v1h-1zM335 774h1v1h-1zM336 773h1v1h-1zM337 772h1v1h-1zM341 769h1v1h-1zM342 769h1v1h-1zM343 768h1v1h-1zM347 765h1v1h-1zM348 764h1v1h-1zM349 763h1v1h-1zM353 760h1v1h-1zM354 759h1v1h-1zM355 759h1v1h-1zM359 756h1v1h-1zM360 755h1v1h-1zM361 754h1v1h-1zM365 751h1v1h-1zM366 751h1v1h-1zM367 750h1v1h-1zM371 748h1v1h-1zM372 748h1v1h-1zM373 747h1v1h-1zM377 747h1v1h-1zM378 747h1v1h-1zM379 747h1v1h-1zM383 748h1v1h-1zM384 749h1v1h-1zM385 749h1v1h-1zM389 751h1v1h-1zM390 751h1v1h-1zM391 752h1v1h-1zM395 754h1v1h-1zM396 755h1v1h-1zM397 756h1v1h-1zM401 757h1v1h-1zM402 757h1v1h-1zM403 758h1v1h-1zM407 759h1v1h-1zM408 759h1v1h-1zM409 759h1v1h-1zM413 759h1v1h-1zM414 759h1v1h-1zM415 758h1v1h-1zM419 756h1v1h-1zM420 756h1v1h-1zM421 755h1v1h-1zM425 752h1v1h-1zM426 751h1v1h-1zM427 751h1v1h-1zM431 747h1v1h-1zM432 746h1v1h-1zM433 745h1v1h-1zM437 742h1v1h-1zM438 741h1v1h-1zM439 741h1v1h-1zM443 738h1v1h-1zM444 738h1v1h-1zM445 737h1v1h-1zM449 735h1v1h-1zM450 735h1v1h-1zM451 734h1v1h-1zM455 733h1v1h-1zM456 732h1v1h-1zM457 732h1v1h-1zM461 733h1v1h-1zM462 733h1v1h-1zM463 733h1v1h-1zM467 733h1v1h-1zM468 734h1v1h-1zM469 734h1v1h-1zM473 734h1v1h-1zM474 734h1v1h-1zM475 734h1v1h-1zM479 735h1v1h-1zM480 735h1v1h-1zM481 735h1v1h-1zM485 735h1v1h-1zM486 735h1v1h-1zM487 735h1v1h-1zM491 735h1v1h-1zM492 735h1v1h-1zM493 735h1v1h-1zM497 733h1v1h-1zM498 733h1v1h-1zM499 733h1v1h-1zM503 732h1v1h-1zM504 731h1v1h-1zM505 731h1v1h-1zM509 730h1v1h-1zM510 730h1v1h-1zM511 730h1v1h-1zM515 730h1v1h-1zM516 730h1v1h-1zM517 730h1v1h-1zM521 732h1v1h-1zM522 732h1v1h-1zM523 733h1v1h-1zM527 735h1v1h-1zM528 736h1v1h-1zM529 737h1v1h-1zM533 740h1v1h-1zM534 741h1v1h-1zM535 742h1v1h-1zM538 746h1v1h-1zM539 747h1v1h-1zM540 748h1v1h-1zM543 752h1v1h-1zM544 753h1v1h-1zM545 754h1v1h-1zM548 758h1v1h-1zM549 759h1v1h-1zM550 760h1v1h-1zM553 764h1v1h-1zM554 765h1v1h-1zM555 766h1v1h-1zM558 770h1v1h-1zM559 771h1v2h-1zM563 776h1v1h-1zM564 777h1v1h-1zM565 778h1v1h-1zM569 781h1v1h-1zM570 782h1v1h-1zM571 782h1v1h-1zM575 785h1v1h-1zM576 786h1v1h-1zM577 787h1v1h-1zM581 788h1v1h-1zM582 788h1v1h-1zM583 788h1v1h-1zM587 789h1v1h-1zM588 790h1v1h-1zM589 790h1v1h-1zM593 790h1v1h-1zM594 790h1v1h-1zM595 790h1v1h-1zM599 789h1v1h-1zM600 788h1v1h-1zM601 788h1v1h-1zM605 786h1v1h-1zM606 786h1v1h-1zM607 786h1v1h-1zM611 784h1v1h-1zM612 784h1v1h-1zM613 783h1v1h-1zM617 782h1v1h-1zM618 782h1v1h-1zM619 782h1v1h-1zM623 780h1v1h-1zM624 780h1v1h-1zM625 779h1v1h-1zM629 777h1v1h-1zM630 777h1v1h-1zM631 777h1v1h-1zM635 776h1v1h-1zM636 775h1v1h-1zM637 775h1v1h-1zM641 774h1v1h-1zM642 774h1v1h-1zM643 774h1v1h-1zM647 774h1v1h-1zM648 774h1v1h-1zM649 774h1v1h-1zM653 773h1v1h-1zM654 773h1v1h-1zM655 773h1v1h-1zM659 771h1v1h-1zM660 771h1v1h-1zM661 770h1v1h-1zM665 768h1v1h-1zM666 767h1v1h-1zM667 767h1v1h-1zM671 764h1v1h-1zM672 763h1v1h-1zM673 762h1v1h-1zM677 758h1v1h-1zM678 757h1v1h-1zM679 756h1v1h-1zM683 751h1v2h-1zM684 750h1v1h-1zM688 746h1v1h-1zM689 745h1v1h-1zM690 744h1v1h-1zM693 740h1v1h-1zM694 739h1v1h-1zM695 739h1v1h-1zM699 736h1v1h-1zM700 735h1v1h-1zM701 734h1v1h-1zM705 732h1v1h-1zM706 732h1v1h-1zM707 732h1v1h-1zM711 731h1v1h-1zM712 732h1v1h-1zM713 732h1v1h-1zM717 733h1v1h-1zM718 733h1v1h-1zM719 734h1v1h-1zM723 736h1v1h-1zM724 736h1v1h-1zM725 737h1v1h-1zM729 740h1v1h-1zM730 741h1v1h-1zM731 741h1v1h-1zM735 744h1v1h-1zM736 745h1v1h-1zM737 746h1v1h-1zM741 749h1v1h-1zM742 750h1v1h-1zM743 750h1v1h-1zM747 753h1v1h-1zM748 753h1v1h-1zM749 754h1v1h-1zM753 756h1v1h-1zM754 756h1v1h-1zM755 757h1v1h-1zM759 759h1v1h-1zM760 759h1v1h-1zM761 760h1v1h-1zM765 761h1v1h-1zM766 761h1v1h-1zM767 761h1v1h-1zM771 761h1v1h-1zM772 762h1v1h-1zM773 762h1v1h-1zM777 762h1v1h-1zM778 762h1v1h-1zM779 762h1v1h-1zM783 762h1v1h-1zM784 761h1v1h-1zM785 761h1v1h-1zM789 759h1v1h-1zM790 759h1v1h-1zM791 759h1v1h-1zM795 757h1v1h-1zM796 757h1v1h-1zM797 756h1v1h-1zM801 755h1v1h-1zM802 755h1v1h-1zM803 755h1v1h-1zM807 753h1v1h-1zM808 753h1v1h-1zM809 752h1v1h-1zM813 749h1v1h-1zM814 748h1v1h-1zM815 748h1v1h-1zM819 745h1v1h-1zM820 744h1v1h-1zM821 743h1v1h-1zM825 741h1v1h-1zM826 740h1v1h-1zM827 740h1v1h-1zM831 737h1v1h-1zM832 737h1v1h-1zM833 736h1v1h-1zM837 734h1v1h-1zM838 734h1v1h-1zM839 733h1v1h-1zM843 732h1v1h-1zM844 731h1v1h-1zM845 731h1v1h-1zM849 730h1v1h-1zM850 730h1v1h-1zM851 730h1v1h-1zM855 729h1v1h-1zM856 729h1v1h-1zM857 729h1v1h-1zM861 728h1v1h-1zM862 728h1v1h-1zM863 728h1v1h-1zM867 727h1v1h-1zM868 726h1v1h-1zM869 726h1v1h-1zM873 724h1v1h-1zM874 724h1v1h-1zM875 724h1v1h-1zM879 723h1v1h-1zM880 723h1v1h-1zM881 723h1v1h-1zM885 723h1v1h-1zM886 723h1v1h-1zM887 723h1v1h-1zM891 723h1v1h-1zM892 724h1v1h-1zM893 724h1v1h-1zM897 726h1v1h-1zM898 727h1v1h-1zM899 727h1v1h-1zM903 730h1v1h-1zM904 730h1v1h-1zM905 731h1v1h-1zM909 734h1v1h-1zM910 735h1v1h-1zM911 735h1v1h-1zM915 738h1v1h-1zM916 739h1v1h-1zM917 740h1v1h-1zM921 742h1v1h-1zM922 743h1v1h-1zM923 743h1v1h-1zM927 746h1v1h-1zM928 746h1v1h-1zM929 747h1v1h-1zM933 749h1v1h-1zM934 749h1v1h-1zM935 750h1v1h-1zM939 751h1v1h-1zM940 752h1v1h-1zM941 752h1v1h-1zM945 753h1v1h-1zM946 753h1v1h-1zM947 754h1v1h-1zM951 755h1v1h-1zM952 756h1v1h-1zM953 756h1v1h-1zM957 757h1v1h-1zM958 757h1v1h-1zM959 757h1v1h-1zM963 758h1v1h-1zM964 758h1v1h-1zM965 758h1v1h-1zM969 758h1v1h-1zM970 758h1v1h-1zM971 758h1v1h-1zM975 756h1v1h-1zM976 756h1v1h-1zM977 755h1v1h-1zM981 754h1v1h-1zM982 754h1v1h-1zM983 753h1v1h-1zM987 751h1v1h-1zM988 751h1v1h-1zM989 750h1v1h-1zM993 748h1v1h-1zM994 747h1v1h-1zM995 747h1v1h-1zM999 744h1v1h-1zM1000 744h1v1h-1zM1001 743h1v1h-1zM1005 742h1v1h-1zM1006 742h1v1h-1zM1007 741h1v1h-1zM1011 739h1v1h-1zM1012 739h1v1h-1zM1013 738h1v1h-1zM1017 737h1v1h-1zM1018 737h1v1h-1zM1019 737h1v1h-1zM1023 735h1v1h-1zM1024 735h1v1h-1zM1025 734h1v1h-1zM1029 732h1v1h-1zM1030 732h1v1h-1zM1031 732h1v1h-1zM1035 731h1v1h-1zM1036 730h1v1h-1zM1037 730h1v1h-1zM1041 729h1v1h-1zM1042 729h1v1h-1zM1043 729h1v1h-1zM1047 727h1v1h-1zM1048 727h1v1h-1zM1049 726h1v1h-1zM1053 725h1v1h-1zM1054 724h1v1h-1zM1055 724h1v1h-1zM1059 721h1v1h-1zM1060 721h1v1h-1zM1061 720h1v1h-1zM1065 718h1v1h-1zM1066 718h1v1h-1zM1067 717h1v1h-1zM1071 715h1v1h-1zM1072 715h1v1h-1zM1073 714h1v1h-1zM1077 713h1v1h-1zM1078 713h1v1h-1zM1079 713h1v1h-1zM1083 712h1v1h-1zM1084 713h1v1h-1zM1085 713h1v1h-1zM1089 715h1v1h-1zM1090 716h1v1h-1zM1091 716h1v1h-1zM1095 719h1v1h-1zM1096 720h1v1h-1zM1097 721h1v1h-1zM1101 725h1v1h-1zM1102 726h1v1h-1zM1103 727h1v1h-1zM1107 731h1v1h-1zM1108 732h1v1h-1zM1109 733h1v1h-1zM1113 736h1v1h-1zM1114 737h1v1h-1zM1115 737h1v1h-1zM1119 740h1v1h-1zM1120 741h1v1h-1zM1121 742h1v1h-1zM1125 743h1v1h-1zM1126 743h1v1h-1zM1127 744h1v1h-1zM1131 745h1v1h-1zM1132 746h1v1h-1zM1133 746h1v1h-1zM1137 747h1v1h-1zM1138 747h1v1h-1zM1139 748h1v1h-1zM1143 750h1v1h-1zM1144 750h1v1h-1zM1145 751h1v1h-1zM1149 753h1v1h-1zM1150 753h1v1h-1zM1151 754h1v1h-1zM1155 756h1v1h-1zM1156 757h1v1h-1zM1157 758h1v1h-1zM1161 761h1v1h-1zM1162 762h1v1h-1zM1163 762h1v1h-1zM1167 766h1v1h-1zM1168 767h1v1h-1zM1169 768h1v1h-1zM1173 772h1v1h-1zM1174 773h1v1h-1zM1175 773h1v1h-1zM1179 777h1v1h-1zM1180 778h1v1h-1zM1181 779h1v1h-1zM1185 781h1v1h-1zM1186 781h1v1h-1zM1187 782h1v1h-1zM1191 784h1v1h-1zM1192 784h1v1h-1zM1193 785h1v1h-1zM1197 786h1v1h-1zM1198 786h1v1h-1zM1199 786h1v1h-1zM1203 787h1v1h-1zM1204 787h1v1h-1zM1205 787h1v1h-1zM1209 786h1v1h-1zM1210 786h1v1h-1zM1211 785h1v1h-1zM1215 784h1v1h-1zM1216 783h1v1h-1zM1217 783h1v1h-1zM1221 781h1v1h-1zM1222 781h1v1h-1zM1223 781h1v1h-1zM1227 779h1v1h-1zM1228 779h1v1h-1zM1229 778h1v1h-1zM1233 777h1v1h-1zM1234 777h1v1h-1zM1235 777h1v1h-1zM1239 776h1v1h-1zM1240 775h1v1h-1zM1241 775h1v1h-1zM1245 775h1v1h-1zM1246 775h1v1h-1zM1247 775h1v1h-1zM1251 776h1v1h-1zM1252 776h1v1h-1zM1253 776h1v1h-1zM1257 778h1v1h-1zM1258 778h1v1h-1zM1259 779h1v1h-1zM1263 781h1v1h-1zM1264 782h1v1h-1zM1265 783h1v1h-1zM1269 786h1v1h-1zM1270 786h1v1h-1zM1271 787h1v1h-1zM1275 789h1v1h-1zM1276 789h1v1h-1zM1277 790h1v1h-1zM1281 791h1v1h-1zM1282 791h1v1h-1zM1283 791h1v1h-1zM1287 791h1v1h-1zM1288 790h1v1h-1zM1289 790h1v1h-1zM1293 789h1v1h-1zM1294 788h1v1h-1zM1295 788h1v1h-1zM1299 785h1v1h-1zM1300 785h1v1h-1zM1301 784h1v1h-1zM1305 782h1v1h-1z"/>
<rect x="252" y="0" width="25" height="20" fill="#f8f8f8" />
<rect x="251" y="0" width="1" height="20" fill="#888888" />
<rect x="252" y="20" width="26" height="1" fill="#ffffff" />
<rect x="277" y="0" width="1" height="20" fill="#ffffff" />
<g style="font-family:&quot;Liberation Sans&quot;,sans-serif" fill="#383838" font-size="9">
<text x="88.7" y="14" textLength="12.3" lengthAdjust="spacingAndGlyphs">M1</text>
<text x="116.7" y="14" textLength="12.3" lengthAdjust="spacingAndGlyphs">M5</text>
<text x="142.3" y="14" textLength="17.3" lengthAdjust="spacingAndGlyphs">M15</text>
<text x="170.3" y="14" textLength="17.8" lengthAdjust="spacingAndGlyphs">M30</text>
<text x="201.3" y="14" textLength="11.8" lengthAdjust="spacingAndGlyphs">H1</text>
<text x="228.8" y="14" textLength="12.2" lengthAdjust="spacingAndGlyphs">H4</text>
<text x="257.7" y="14" textLength="11.4" lengthAdjust="spacingAndGlyphs">D1</text>
<text x="285" y="14" textLength="13.8" lengthAdjust="spacingAndGlyphs">W1</text>
<text x="311.5" y="14" textLength="15" lengthAdjust="spacingAndGlyphs">MN</text>
</g>
<rect x="73" y="0" width="1" height="22" fill="#9a9a9a" />
<rect x="74" y="0" width="1" height="22" fill="#ffffff" />
<rect x="334" y="0" width="1" height="22" fill="#949494" />
<rect x="335" y="0" width="1" height="22" fill="#ffffff" />
<rect x="77" y="0.2" width="3" height="0.7" fill="#a8a8a8" />
<rect x="77" y="2.2" width="3" height="0.7" fill="#a8a8a8" />
<rect x="77" y="4.2" width="3" height="0.7" fill="#a8a8a8" />
<rect x="77" y="6.2" width="3" height="0.7" fill="#a8a8a8" />
<rect x="77" y="8.2" width="3" height="0.7" fill="#a8a8a8" />
<rect x="77" y="10.2" width="3" height="0.7" fill="#a8a8a8" />
<rect x="77" y="12.2" width="3" height="0.7" fill="#a8a8a8" />
<rect x="77" y="14.2" width="3" height="0.7" fill="#a8a8a8" />
<rect x="77" y="16.2" width="3" height="0.7" fill="#a8a8a8" />
<rect x="77" y="18.2" width="3" height="0.7" fill="#a8a8a8" />
<rect x="14.2" y="4.2" width="0.9" height="0.9" fill="#606060" />
<rect x="14.2" y="16.0" width="0.9" height="0.9" fill="#606060" />
<rect x="16.2" y="4.2" width="0.9" height="0.9" fill="#606060" />
<rect x="16.2" y="16.0" width="0.9" height="0.9" fill="#606060" />
<rect x="18.2" y="4.2" width="0.9" height="0.9" fill="#606060" />
<rect x="18.2" y="16.0" width="0.9" height="0.9" fill="#606060" />
<rect x="20.2" y="4.2" width="0.9" height="0.9" fill="#606060" />
<rect x="20.2" y="16.0" width="0.9" height="0.9" fill="#606060" />
<rect x="22.2" y="4.2" width="0.9" height="0.9" fill="#606060" />
<rect x="22.2" y="16.0" width="0.9" height="0.9" fill="#606060" />
<rect x="24.2" y="4.2" width="0.9" height="0.9" fill="#606060" />
<rect x="24.2" y="16.0" width="0.9" height="0.9" fill="#606060" />
<rect x="14.2" y="6.2" width="0.9" height="0.9" fill="#606060" />
<rect x="14.2" y="8.2" width="0.9" height="0.9" fill="#606060" />
<rect x="14.2" y="10.2" width="0.9" height="0.9" fill="#606060" />
<rect x="14.2" y="12.2" width="0.9" height="0.9" fill="#606060" />
<rect x="14.2" y="14.2" width="0.9" height="0.9" fill="#606060" />
<rect x="25.2" y="4.2" width="0.9" height="0.9" fill="#606060" />
<rect x="25.2" y="6.2" width="0.9" height="0.9" fill="#606060" />
<rect x="25.2" y="8.2" width="0.9" height="0.9" fill="#606060" />
<rect x="25.2" y="10.2" width="0.9" height="0.9" fill="#606060" />
<rect x="25.2" y="12.2" width="0.9" height="0.9" fill="#606060" />
<rect x="25.2" y="14.2" width="0.9" height="0.9" fill="#606060" />
<rect x="25.2" y="16.2" width="0.9" height="0.9" fill="#606060" />
<rect x="13" y="3.3" width="1.6" height="1" fill="#606060" />
<path d="M16 7.5h8M20 7v7.8" stroke="#585858" stroke-width="1.5" fill="none"/>
<path d="M44.4 3.7l3.5 4h-7zM42.7 8.4h3.6v0.6h-3.6zM51.4 17l-3.6-3.8h7.2zM49.6 12h3.8v0.6h-3.8z" fill="#484848"/><path d="M43.1 11.5l2.5 2.2l4.3-5.5" stroke="#585858" stroke-width="1.2" fill="none"/>
<path d="M61.6 9h5.8l-2.9 3z" fill="#101010"/>
<rect x="0" y="826" width="1684" height="27" fill="#f0f0f0" />
<rect x="0" y="825" width="1684" height="1" fill="#e2e2e2" />
<rect x="0" y="826" width="1684" height="1" fill="#ffffff" />
<rect x="0" y="827" width="1684" height="1" fill="#000000" />
<rect x="0" y="828" width="1" height="18" fill="#8a8a8a" />
<rect x="1" y="828" width="1" height="18" fill="#a8a8a8" />
<rect x="0" y="846" width="1684" height="1" fill="#f4f4f4" />
<rect x="0" y="847" width="1684" height="1" fill="#ffffff" />
<rect x="0" y="851" width="1684" height="1" fill="#a8a8a8" />
<rect x="0" y="852" width="1684" height="1" fill="#d8d8d8" />
<rect x="209" y="828" width="1" height="18" fill="#ffffff" />
<rect x="314" y="828" width="1" height="18" fill="#ffffff" />
<rect x="210" y="827" width="104" height="19" fill="#000" />
<rect x="211" y="826" width="102" height="19" fill="#fff" />
<g style="font-family:&quot;Liberation Sans&quot;,sans-serif" font-size="12.2">
<text x="18" y="842" fill="#808080" textLength="80" lengthAdjust="spacingAndGlyphs">EURUSD,Daily</text>
<text x="120" y="842" fill="#808080" textLength="79" lengthAdjust="spacingAndGlyphs">USDCHF,Daily</text>
<text x="221" y="842" fill="#000" textLength="82" lengthAdjust="spacingAndGlyphs">AUDUSD,Daily</text>
<text x="325" y="842" fill="#808080" textLength="81" lengthAdjust="spacingAndGlyphs">USDCAD,Daily</text>
<text x="428" y="842" fill="#808080" textLength="83" lengthAdjust="spacingAndGlyphs">USDCNH,Daily</text>
<text x="534" y="842" fill="#808080" textLength="80" lengthAdjust="spacingAndGlyphs">EURUSD,Daily</text>
<text x="638" y="842" fill="#808080" textLength="68" lengthAdjust="spacingAndGlyphs">GBPUSD,H4</text>
<text x="730" y="842" fill="#808080" textLength="72" lengthAdjust="spacingAndGlyphs">XAUUSD,M5</text>
<text x="825" y="842" fill="#808080" textLength="49.5" lengthAdjust="spacingAndGlyphs">HK50,H1</text>
<text x="897" y="842" fill="#808080" textLength="56.5" lengthAdjust="spacingAndGlyphs">UK100,H1</text>
<text x="977" y="842" fill="#808080" textLength="56.5" lengthAdjust="spacingAndGlyphs">UK100,H1</text>
<text x="1057" y="842" fill="#808080" textLength="56.5" lengthAdjust="spacingAndGlyphs">GER30,H1</text>
<text x="1136" y="842" fill="#808080" textLength="54.5" lengthAdjust="spacingAndGlyphs">FRA40,H1</text>
</g>
<rect x="110" y="830" width="1" height="14" fill="#707070" />
<rect x="417" y="830" width="1" height="14" fill="#707070" />
<rect x="522" y="830" width="1" height="14" fill="#707070" />
<rect x="626" y="830" width="1" height="14" fill="#707070" />
<rect x="718" y="830" width="1" height="14" fill="#707070" />
<rect x="814" y="830" width="1" height="14" fill="#707070" />
<rect x="887" y="830" width="1" height="14" fill="#707070" />
<rect x="966" y="830" width="1" height="14" fill="#707070" />
<rect x="1046" y="830" width="1" height="14" fill="#707070" />
<rect x="1126" y="830" width="1" height="14" fill="#707070" />
<rect x="1202" y="830" width="1" height="14" fill="#707070" />
<path d="M1660.2 832.8v6.4l-3.4-3.2z" fill="#8c8c8c"/><path d="M1675.9 832.8v6.4l3.4-3.2z" fill="#8c8c8c"/></svg></body></html>
